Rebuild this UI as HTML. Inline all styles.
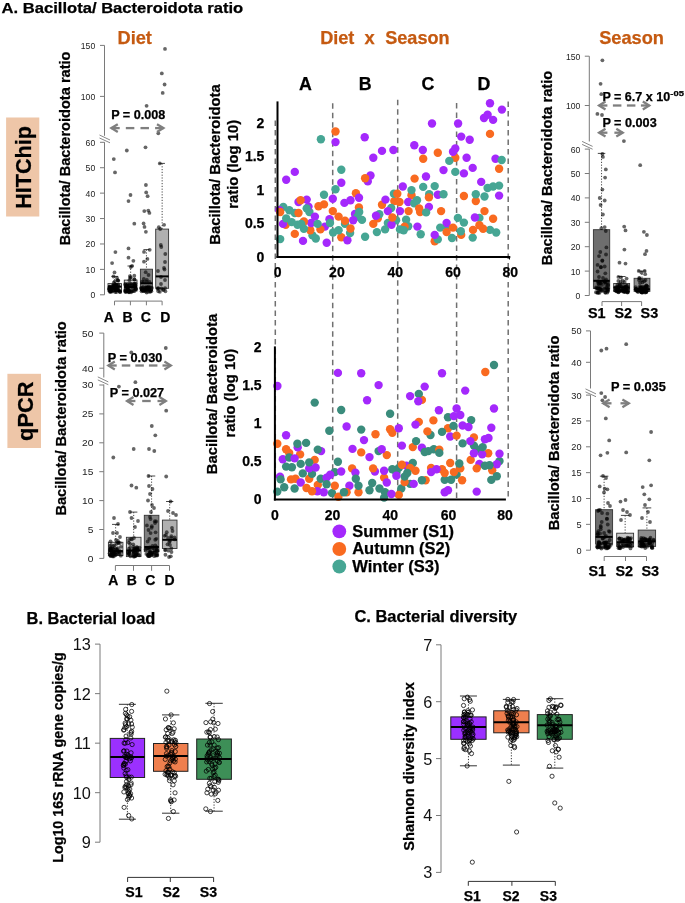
<!DOCTYPE html>
<html><head><meta charset="utf-8"><style>html,body{margin:0;padding:0;background:#fff;}svg{display:block;will-change:transform;}</style></head>
<body>
<svg width="685" height="903" viewBox="0 0 685 903" font-family='"Liberation Sans", sans-serif'>
<rect width="685" height="903" fill="#fff"/>
<text x="1.5" y="12.9" font-size="15.2" font-weight="bold" stroke="#000" stroke-width="0.25" textLength="241.7" lengthAdjust="spacingAndGlyphs" fill="#000">A. Bacillota/ Bacteroidota ratio</text>
<rect x="6.1" y="117.5" width="33.2" height="99" fill="#EEC6A8"/>
<text transform="translate(30.6,167.4) rotate(-90)" x="0" y="0" font-size="22" font-weight="bold" stroke="#000" stroke-width="0.25" text-anchor="middle" textLength="82.6" lengthAdjust="spacingAndGlyphs" fill="#000">HITChip</text>
<rect x="7.4" y="373.8" width="33.6" height="74.2" fill="#EEC6A8"/>
<text transform="translate(32.9,411.2) rotate(-90)" x="0" y="0" font-size="22.8" font-weight="bold" stroke="#000" stroke-width="0.25" text-anchor="middle" textLength="59.5" lengthAdjust="spacingAndGlyphs" fill="#000">qPCR</text>
<text x="117.5" y="43.7" font-size="18.6" font-weight="bold" stroke="#C55A11" stroke-width="0.25" textLength="34.4" lengthAdjust="spacingAndGlyphs" fill="#C55A11">Diet</text>
<text x="599.2" y="43.8" font-size="18.6" font-weight="bold" stroke="#C55A11" stroke-width="0.25" textLength="64.8" lengthAdjust="spacingAndGlyphs" fill="#C55A11">Season</text>
<line x1="104.5" y1="45.4" x2="104.5" y2="135.8" stroke="#7a7a7a" stroke-width="1"/>
<line x1="104.5" y1="142.2" x2="104.5" y2="294.8" stroke="#7a7a7a" stroke-width="1"/>
<line x1="100" y1="45.4" x2="104.5" y2="45.4" stroke="#7a7a7a" stroke-width="1"/>
<text x="95.2" y="48.81" font-size="9.6" text-anchor="end" textLength="14.41" lengthAdjust="spacingAndGlyphs" fill="#222">150</text>
<line x1="100" y1="96.4" x2="104.5" y2="96.4" stroke="#7a7a7a" stroke-width="1"/>
<text x="95.2" y="99.81" font-size="9.6" text-anchor="end" textLength="14.41" lengthAdjust="spacingAndGlyphs" fill="#222">100</text>
<line x1="100" y1="142.3" x2="104.5" y2="142.3" stroke="#7a7a7a" stroke-width="1"/>
<text x="95.2" y="145.71" font-size="9.6" text-anchor="end" textLength="9.61" lengthAdjust="spacingAndGlyphs" fill="#222">60</text>
<line x1="100" y1="167.72" x2="104.5" y2="167.72" stroke="#7a7a7a" stroke-width="1"/>
<text x="95.2" y="171.12" font-size="9.6" text-anchor="end" textLength="9.61" lengthAdjust="spacingAndGlyphs" fill="#222">50</text>
<line x1="100" y1="193.13" x2="104.5" y2="193.13" stroke="#7a7a7a" stroke-width="1"/>
<text x="95.2" y="196.54" font-size="9.6" text-anchor="end" textLength="9.61" lengthAdjust="spacingAndGlyphs" fill="#222">40</text>
<line x1="100" y1="218.55" x2="104.5" y2="218.55" stroke="#7a7a7a" stroke-width="1"/>
<text x="95.2" y="221.96" font-size="9.6" text-anchor="end" textLength="9.61" lengthAdjust="spacingAndGlyphs" fill="#222">30</text>
<line x1="100" y1="243.97" x2="104.5" y2="243.97" stroke="#7a7a7a" stroke-width="1"/>
<text x="95.2" y="247.37" font-size="9.6" text-anchor="end" textLength="9.61" lengthAdjust="spacingAndGlyphs" fill="#222">20</text>
<line x1="100" y1="269.38" x2="104.5" y2="269.38" stroke="#7a7a7a" stroke-width="1"/>
<text x="95.2" y="272.79" font-size="9.6" text-anchor="end" textLength="9.61" lengthAdjust="spacingAndGlyphs" fill="#222">10</text>
<line x1="100" y1="294.8" x2="104.5" y2="294.8" stroke="#7a7a7a" stroke-width="1"/>
<text x="95.2" y="298.21" font-size="9.6" text-anchor="end" textLength="4.8" lengthAdjust="spacingAndGlyphs" fill="#222">0</text>
<line x1="99.5" y1="135" x2="110" y2="140" stroke="#7a7a7a" stroke-width="0.9"/>
<line x1="99.5" y1="138" x2="110" y2="142.8" stroke="#7a7a7a" stroke-width="0.9"/>
<text transform="translate(70.4,148.4) rotate(-90)" x="0" y="0" font-size="14.6" font-weight="bold" stroke="#000" stroke-width="0.25" text-anchor="middle" textLength="193.8" lengthAdjust="spacingAndGlyphs" fill="#000">Bacillota/ Bacteroidota ratio</text>
<line x1="114.5" y1="301.1" x2="162.1" y2="301.1" stroke="#7a7a7a" stroke-width="1"/>
<line x1="114.5" y1="301.1" x2="114.5" y2="305.3" stroke="#7a7a7a" stroke-width="1"/>
<line x1="130.4" y1="301.1" x2="130.4" y2="305.3" stroke="#7a7a7a" stroke-width="1"/>
<line x1="146.4" y1="301.1" x2="146.4" y2="305.3" stroke="#7a7a7a" stroke-width="1"/>
<line x1="162.1" y1="301.1" x2="162.1" y2="305.3" stroke="#7a7a7a" stroke-width="1"/>
<text x="108.7" y="321.8" font-size="14" font-weight="bold" stroke="#000" stroke-width="0.25" text-anchor="middle" fill="#000">A</text>
<text x="127.5" y="321.8" font-size="14" font-weight="bold" stroke="#000" stroke-width="0.25" text-anchor="middle" fill="#000">B</text>
<text x="145.9" y="321.8" font-size="14" font-weight="bold" stroke="#000" stroke-width="0.25" text-anchor="middle" fill="#000">C</text>
<text x="165.2" y="321.8" font-size="14" font-weight="bold" stroke="#000" stroke-width="0.25" text-anchor="middle" fill="#000">D</text>
<line x1="114.75" y1="276.4" x2="114.75" y2="283.6" stroke="#333" stroke-width="0.9" stroke-dasharray="1.2,1.6"/>
<line x1="111.38" y1="276.4" x2="118.12" y2="276.4" stroke="#333" stroke-width="0.9"/>
<rect x="108" y="283.6" width="13.5" height="7.9" fill="#e8e8e8" stroke="#333" stroke-width="0.9"/>
<line x1="108" y1="286.7" x2="121.5" y2="286.7" stroke="#000" stroke-width="2"/>
<line x1="130.65" y1="266" x2="130.65" y2="280.1" stroke="#333" stroke-width="0.9" stroke-dasharray="1.2,1.6"/>
<line x1="127.48" y1="266" x2="133.83" y2="266" stroke="#333" stroke-width="0.9"/>
<rect x="124.3" y="280.1" width="12.7" height="10.9" fill="#d4d4d4" stroke="#333" stroke-width="0.9"/>
<line x1="124.3" y1="287" x2="137" y2="287" stroke="#000" stroke-width="2"/>
<line x1="146.45" y1="249.6" x2="146.45" y2="269.2" stroke="#333" stroke-width="0.9" stroke-dasharray="1.2,1.6"/>
<line x1="143.42" y1="249.6" x2="149.47" y2="249.6" stroke="#333" stroke-width="0.9"/>
<rect x="140.4" y="269.2" width="12.1" height="21.4" fill="#808080" stroke="#333" stroke-width="0.9"/>
<line x1="140.4" y1="283.3" x2="152.5" y2="283.3" stroke="#000" stroke-width="2"/>
<line x1="162.15" y1="163.4" x2="162.15" y2="229.1" stroke="#333" stroke-width="0.9" stroke-dasharray="1.2,1.6"/>
<line x1="159.35" y1="163.4" x2="164.95" y2="163.4" stroke="#333" stroke-width="0.9"/>
<rect x="155.7" y="229.1" width="12.9" height="59.2" fill="#b0b0b0" stroke="#333" stroke-width="0.9"/>
<line x1="155.7" y1="276.4" x2="168.6" y2="276.4" stroke="#000" stroke-width="2"/>
<circle cx="112.73" cy="291.38" r="1.9" fill="#000" fill-opacity="0.6"/>
<circle cx="116.39" cy="292.01" r="1.9" fill="#000" fill-opacity="0.6"/>
<circle cx="115.1" cy="289.64" r="1.9" fill="#000" fill-opacity="0.6"/>
<circle cx="109.75" cy="288.49" r="1.9" fill="#000" fill-opacity="0.6"/>
<circle cx="109.52" cy="289.09" r="1.9" fill="#000" fill-opacity="0.6"/>
<circle cx="109.88" cy="291.87" r="1.9" fill="#000" fill-opacity="0.6"/>
<circle cx="113.85" cy="285.9" r="1.9" fill="#000" fill-opacity="0.6"/>
<circle cx="110.49" cy="290.79" r="1.9" fill="#000" fill-opacity="0.6"/>
<circle cx="116.13" cy="284.92" r="1.9" fill="#000" fill-opacity="0.6"/>
<circle cx="115.56" cy="289.39" r="1.9" fill="#000" fill-opacity="0.6"/>
<circle cx="120.03" cy="292.22" r="1.9" fill="#000" fill-opacity="0.6"/>
<circle cx="118.71" cy="290.25" r="1.9" fill="#000" fill-opacity="0.6"/>
<circle cx="110.72" cy="291.65" r="1.9" fill="#000" fill-opacity="0.6"/>
<circle cx="112.55" cy="285.99" r="1.9" fill="#000" fill-opacity="0.6"/>
<circle cx="111.12" cy="287.89" r="1.9" fill="#000" fill-opacity="0.6"/>
<circle cx="116.26" cy="289.58" r="1.9" fill="#000" fill-opacity="0.6"/>
<circle cx="115.23" cy="292.09" r="1.9" fill="#000" fill-opacity="0.6"/>
<circle cx="109.77" cy="290.93" r="1.9" fill="#000" fill-opacity="0.6"/>
<circle cx="116.72" cy="289.14" r="1.9" fill="#000" fill-opacity="0.6"/>
<circle cx="112.62" cy="287.86" r="1.9" fill="#000" fill-opacity="0.6"/>
<circle cx="114.18" cy="290.17" r="1.9" fill="#000" fill-opacity="0.6"/>
<circle cx="118" cy="286.94" r="1.9" fill="#000" fill-opacity="0.6"/>
<circle cx="111.83" cy="287.95" r="1.9" fill="#000" fill-opacity="0.6"/>
<circle cx="114.98" cy="285.51" r="1.9" fill="#000" fill-opacity="0.6"/>
<circle cx="117.27" cy="290.27" r="1.9" fill="#000" fill-opacity="0.6"/>
<circle cx="120.08" cy="291.64" r="1.9" fill="#000" fill-opacity="0.6"/>
<circle cx="113.78" cy="286.47" r="1.9" fill="#000" fill-opacity="0.6"/>
<circle cx="110.8" cy="288.64" r="1.9" fill="#000" fill-opacity="0.6"/>
<circle cx="109.54" cy="287.19" r="1.9" fill="#000" fill-opacity="0.6"/>
<circle cx="117.66" cy="287.96" r="1.9" fill="#000" fill-opacity="0.6"/>
<circle cx="118.91" cy="290.06" r="1.9" fill="#000" fill-opacity="0.6"/>
<circle cx="116.89" cy="287.79" r="1.9" fill="#000" fill-opacity="0.6"/>
<circle cx="115.59" cy="288.9" r="1.9" fill="#000" fill-opacity="0.6"/>
<circle cx="118.51" cy="284.95" r="1.9" fill="#000" fill-opacity="0.6"/>
<circle cx="114.41" cy="287.22" r="1.9" fill="#000" fill-opacity="0.6"/>
<circle cx="109.78" cy="286.92" r="1.9" fill="#000" fill-opacity="0.6"/>
<circle cx="116.35" cy="284.56" r="1.9" fill="#000" fill-opacity="0.6"/>
<circle cx="118.31" cy="290.29" r="1.9" fill="#000" fill-opacity="0.6"/>
<circle cx="113.42" cy="287.18" r="1.9" fill="#000" fill-opacity="0.6"/>
<circle cx="109.35" cy="288.86" r="1.9" fill="#000" fill-opacity="0.6"/>
<circle cx="110.98" cy="291.65" r="1.9" fill="#000" fill-opacity="0.6"/>
<circle cx="109.76" cy="286.38" r="1.9" fill="#000" fill-opacity="0.6"/>
<circle cx="110.55" cy="290.59" r="1.9" fill="#000" fill-opacity="0.6"/>
<circle cx="113.48" cy="285.54" r="1.9" fill="#000" fill-opacity="0.6"/>
<circle cx="110" cy="288.96" r="1.9" fill="#000" fill-opacity="0.6"/>
<circle cx="115.25" cy="285.44" r="1.9" fill="#000" fill-opacity="0.6"/>
<circle cx="118.28" cy="285.6" r="1.9" fill="#000" fill-opacity="0.6"/>
<circle cx="112.22" cy="289.24" r="1.9" fill="#000" fill-opacity="0.6"/>
<circle cx="113.12" cy="285.44" r="1.9" fill="#000" fill-opacity="0.6"/>
<circle cx="119.83" cy="291.38" r="1.9" fill="#000" fill-opacity="0.6"/>
<circle cx="111.07" cy="290.72" r="1.9" fill="#000" fill-opacity="0.6"/>
<circle cx="111.71" cy="288.67" r="1.9" fill="#000" fill-opacity="0.6"/>
<circle cx="115.7" cy="290.47" r="1.9" fill="#000" fill-opacity="0.6"/>
<circle cx="109.15" cy="289.21" r="1.9" fill="#000" fill-opacity="0.6"/>
<circle cx="113.24" cy="288.01" r="1.9" fill="#000" fill-opacity="0.6"/>
<circle cx="118.32" cy="280.86" r="1.9" fill="#000" fill-opacity="0.6"/>
<circle cx="114.82" cy="281.29" r="1.9" fill="#000" fill-opacity="0.6"/>
<circle cx="116.11" cy="284.68" r="1.9" fill="#000" fill-opacity="0.6"/>
<circle cx="117.9" cy="280.32" r="1.9" fill="#000" fill-opacity="0.6"/>
<circle cx="117.7" cy="280.21" r="1.9" fill="#000" fill-opacity="0.6"/>
<circle cx="113.84" cy="282.61" r="1.9" fill="#000" fill-opacity="0.6"/>
<circle cx="126.16" cy="286.83" r="1.9" fill="#000" fill-opacity="0.6"/>
<circle cx="125.7" cy="291.99" r="1.9" fill="#000" fill-opacity="0.6"/>
<circle cx="127.34" cy="291.12" r="1.9" fill="#000" fill-opacity="0.6"/>
<circle cx="128.81" cy="292.12" r="1.9" fill="#000" fill-opacity="0.6"/>
<circle cx="125" cy="291.22" r="1.9" fill="#000" fill-opacity="0.6"/>
<circle cx="126.14" cy="289.29" r="1.9" fill="#000" fill-opacity="0.6"/>
<circle cx="125.29" cy="284.64" r="1.9" fill="#000" fill-opacity="0.6"/>
<circle cx="131.88" cy="291.25" r="1.9" fill="#000" fill-opacity="0.6"/>
<circle cx="127.83" cy="289.44" r="1.9" fill="#000" fill-opacity="0.6"/>
<circle cx="129.08" cy="291.48" r="1.9" fill="#000" fill-opacity="0.6"/>
<circle cx="134.51" cy="283.56" r="1.9" fill="#000" fill-opacity="0.6"/>
<circle cx="130.22" cy="288.2" r="1.9" fill="#000" fill-opacity="0.6"/>
<circle cx="125.96" cy="291.67" r="1.9" fill="#000" fill-opacity="0.6"/>
<circle cx="128.84" cy="290.19" r="1.9" fill="#000" fill-opacity="0.6"/>
<circle cx="134.28" cy="291.13" r="1.9" fill="#000" fill-opacity="0.6"/>
<circle cx="125.26" cy="283.95" r="1.9" fill="#000" fill-opacity="0.6"/>
<circle cx="130.92" cy="291.27" r="1.9" fill="#000" fill-opacity="0.6"/>
<circle cx="131.08" cy="292.35" r="1.9" fill="#000" fill-opacity="0.6"/>
<circle cx="130.91" cy="283.7" r="1.9" fill="#000" fill-opacity="0.6"/>
<circle cx="134.67" cy="286.26" r="1.9" fill="#000" fill-opacity="0.6"/>
<circle cx="127.92" cy="289.26" r="1.9" fill="#000" fill-opacity="0.6"/>
<circle cx="126.87" cy="285.58" r="1.9" fill="#000" fill-opacity="0.6"/>
<circle cx="130.97" cy="285.51" r="1.9" fill="#000" fill-opacity="0.6"/>
<circle cx="128.69" cy="290.57" r="1.9" fill="#000" fill-opacity="0.6"/>
<circle cx="134.09" cy="283.64" r="1.9" fill="#000" fill-opacity="0.6"/>
<circle cx="134.55" cy="285.26" r="1.9" fill="#000" fill-opacity="0.6"/>
<circle cx="134.17" cy="285.87" r="1.9" fill="#000" fill-opacity="0.6"/>
<circle cx="127.54" cy="287.89" r="1.9" fill="#000" fill-opacity="0.6"/>
<circle cx="128.98" cy="292.34" r="1.9" fill="#000" fill-opacity="0.6"/>
<circle cx="125.31" cy="290.06" r="1.9" fill="#000" fill-opacity="0.6"/>
<circle cx="127.9" cy="286.3" r="1.9" fill="#000" fill-opacity="0.6"/>
<circle cx="135.71" cy="288.53" r="1.9" fill="#000" fill-opacity="0.6"/>
<circle cx="135.49" cy="283.61" r="1.9" fill="#000" fill-opacity="0.6"/>
<circle cx="135.7" cy="289.28" r="1.9" fill="#000" fill-opacity="0.6"/>
<circle cx="127.47" cy="290.54" r="1.9" fill="#000" fill-opacity="0.6"/>
<circle cx="127.2" cy="290.74" r="1.9" fill="#000" fill-opacity="0.6"/>
<circle cx="131.99" cy="284.41" r="1.9" fill="#000" fill-opacity="0.6"/>
<circle cx="134.41" cy="288.24" r="1.9" fill="#000" fill-opacity="0.6"/>
<circle cx="132.31" cy="285.32" r="1.9" fill="#000" fill-opacity="0.6"/>
<circle cx="125.95" cy="286.59" r="1.9" fill="#000" fill-opacity="0.6"/>
<circle cx="135.19" cy="285.48" r="1.9" fill="#000" fill-opacity="0.6"/>
<circle cx="133.4" cy="288.25" r="1.9" fill="#000" fill-opacity="0.6"/>
<circle cx="127" cy="285.42" r="1.9" fill="#000" fill-opacity="0.6"/>
<circle cx="128.72" cy="285.31" r="1.9" fill="#000" fill-opacity="0.6"/>
<circle cx="135.88" cy="289" r="1.9" fill="#000" fill-opacity="0.6"/>
<circle cx="129.5" cy="283.98" r="1.9" fill="#000" fill-opacity="0.6"/>
<circle cx="133.12" cy="291.05" r="1.9" fill="#000" fill-opacity="0.6"/>
<circle cx="126.42" cy="291.22" r="1.9" fill="#000" fill-opacity="0.6"/>
<circle cx="135.13" cy="285.26" r="1.9" fill="#000" fill-opacity="0.6"/>
<circle cx="126.64" cy="285.08" r="1.9" fill="#000" fill-opacity="0.6"/>
<circle cx="134.44" cy="279.4" r="1.9" fill="#000" fill-opacity="0.6"/>
<circle cx="129.4" cy="280.16" r="1.9" fill="#000" fill-opacity="0.6"/>
<circle cx="127.65" cy="283.9" r="1.9" fill="#000" fill-opacity="0.6"/>
<circle cx="134.37" cy="279.45" r="1.9" fill="#000" fill-opacity="0.6"/>
<circle cx="130.81" cy="277.46" r="1.9" fill="#000" fill-opacity="0.6"/>
<circle cx="130.07" cy="277.9" r="1.9" fill="#000" fill-opacity="0.6"/>
<circle cx="150.05" cy="291.42" r="1.9" fill="#000" fill-opacity="0.6"/>
<circle cx="143.62" cy="290.96" r="1.9" fill="#000" fill-opacity="0.6"/>
<circle cx="143.49" cy="289.32" r="1.9" fill="#000" fill-opacity="0.6"/>
<circle cx="143.7" cy="290.25" r="1.9" fill="#000" fill-opacity="0.6"/>
<circle cx="142.27" cy="287.5" r="1.9" fill="#000" fill-opacity="0.6"/>
<circle cx="144.76" cy="290.03" r="1.9" fill="#000" fill-opacity="0.6"/>
<circle cx="147.33" cy="287.54" r="1.9" fill="#000" fill-opacity="0.6"/>
<circle cx="145.51" cy="287.46" r="1.9" fill="#000" fill-opacity="0.6"/>
<circle cx="146.42" cy="289.62" r="1.9" fill="#000" fill-opacity="0.6"/>
<circle cx="146.66" cy="292.5" r="1.9" fill="#000" fill-opacity="0.6"/>
<circle cx="145.73" cy="291.57" r="1.9" fill="#000" fill-opacity="0.6"/>
<circle cx="140.84" cy="288.12" r="1.9" fill="#000" fill-opacity="0.6"/>
<circle cx="142.73" cy="289.95" r="1.9" fill="#000" fill-opacity="0.6"/>
<circle cx="148.92" cy="289.48" r="1.9" fill="#000" fill-opacity="0.6"/>
<circle cx="144.45" cy="289.7" r="1.9" fill="#000" fill-opacity="0.6"/>
<circle cx="147.02" cy="288.21" r="1.9" fill="#000" fill-opacity="0.6"/>
<circle cx="141.99" cy="289.46" r="1.9" fill="#000" fill-opacity="0.6"/>
<circle cx="143.58" cy="291.05" r="1.9" fill="#000" fill-opacity="0.6"/>
<circle cx="149.45" cy="289.76" r="1.9" fill="#000" fill-opacity="0.6"/>
<circle cx="147.09" cy="288.34" r="1.9" fill="#000" fill-opacity="0.6"/>
<circle cx="151.02" cy="290.12" r="1.9" fill="#000" fill-opacity="0.6"/>
<circle cx="147.66" cy="289.77" r="1.9" fill="#000" fill-opacity="0.6"/>
<circle cx="146.54" cy="288.72" r="1.9" fill="#000" fill-opacity="0.6"/>
<circle cx="145.87" cy="289.61" r="1.9" fill="#000" fill-opacity="0.6"/>
<circle cx="146.15" cy="287.33" r="1.9" fill="#000" fill-opacity="0.6"/>
<circle cx="148.63" cy="287.69" r="1.9" fill="#000" fill-opacity="0.6"/>
<circle cx="151.35" cy="291.15" r="1.9" fill="#000" fill-opacity="0.6"/>
<circle cx="147.07" cy="287.32" r="1.9" fill="#000" fill-opacity="0.6"/>
<circle cx="150.21" cy="291.83" r="1.9" fill="#000" fill-opacity="0.6"/>
<circle cx="142.16" cy="290.12" r="1.9" fill="#000" fill-opacity="0.6"/>
<circle cx="141.61" cy="291.25" r="1.9" fill="#000" fill-opacity="0.6"/>
<circle cx="141.62" cy="288.85" r="1.9" fill="#000" fill-opacity="0.6"/>
<circle cx="149.58" cy="287.58" r="1.9" fill="#000" fill-opacity="0.6"/>
<circle cx="142.53" cy="288.59" r="1.9" fill="#000" fill-opacity="0.6"/>
<circle cx="148.19" cy="291.8" r="1.9" fill="#000" fill-opacity="0.6"/>
<circle cx="150.69" cy="287.18" r="1.9" fill="#000" fill-opacity="0.6"/>
<circle cx="143.26" cy="287.27" r="1.9" fill="#000" fill-opacity="0.6"/>
<circle cx="145.26" cy="289.87" r="1.9" fill="#000" fill-opacity="0.6"/>
<circle cx="151.89" cy="287.94" r="1.9" fill="#000" fill-opacity="0.6"/>
<circle cx="142.61" cy="290.18" r="1.9" fill="#000" fill-opacity="0.6"/>
<circle cx="146.54" cy="281.57" r="1.9" fill="#000" fill-opacity="0.6"/>
<circle cx="143.66" cy="281.9" r="1.9" fill="#000" fill-opacity="0.6"/>
<circle cx="148.4" cy="286.69" r="1.9" fill="#000" fill-opacity="0.6"/>
<circle cx="146.89" cy="279.95" r="1.9" fill="#000" fill-opacity="0.6"/>
<circle cx="142.06" cy="281.7" r="1.9" fill="#000" fill-opacity="0.6"/>
<circle cx="163.44" cy="290.15" r="1.9" fill="#000" fill-opacity="0.6"/>
<circle cx="157.84" cy="288.07" r="1.9" fill="#000" fill-opacity="0.6"/>
<circle cx="165.08" cy="288.12" r="1.9" fill="#000" fill-opacity="0.6"/>
<circle cx="158.25" cy="291.23" r="1.9" fill="#000" fill-opacity="0.6"/>
<circle cx="157.6" cy="288.97" r="1.9" fill="#000" fill-opacity="0.6"/>
<circle cx="159.9" cy="291.83" r="1.9" fill="#000" fill-opacity="0.6"/>
<circle cx="161.42" cy="288.39" r="1.9" fill="#000" fill-opacity="0.6"/>
<circle cx="165.39" cy="291.26" r="1.9" fill="#000" fill-opacity="0.6"/>
<circle cx="158.69" cy="288.36" r="1.9" fill="#000" fill-opacity="0.6"/>
<circle cx="162.91" cy="289.32" r="1.9" fill="#000" fill-opacity="0.6"/>
<circle cx="113.8" cy="159.1" r="1.9" fill="#000" fill-opacity="0.6"/>
<circle cx="115" cy="172.4" r="1.9" fill="#000" fill-opacity="0.6"/>
<circle cx="115.4" cy="252.1" r="1.9" fill="#000" fill-opacity="0.6"/>
<circle cx="112.1" cy="263.1" r="1.9" fill="#000" fill-opacity="0.6"/>
<circle cx="114.5" cy="272.4" r="1.9" fill="#000" fill-opacity="0.6"/>
<circle cx="113.5" cy="276.5" r="1.9" fill="#000" fill-opacity="0.6"/>
<circle cx="117" cy="278" r="1.9" fill="#000" fill-opacity="0.6"/>
<circle cx="126.8" cy="150.5" r="1.9" fill="#000" fill-opacity="0.6"/>
<circle cx="130.5" cy="195" r="1.9" fill="#000" fill-opacity="0.6"/>
<circle cx="128.5" cy="201.1" r="1.9" fill="#000" fill-opacity="0.6"/>
<circle cx="134.3" cy="223.7" r="1.9" fill="#000" fill-opacity="0.6"/>
<circle cx="128.5" cy="248.4" r="1.9" fill="#000" fill-opacity="0.6"/>
<circle cx="128.5" cy="257.7" r="1.9" fill="#000" fill-opacity="0.6"/>
<circle cx="133.4" cy="260.8" r="1.9" fill="#000" fill-opacity="0.6"/>
<circle cx="132" cy="265.9" r="1.9" fill="#000" fill-opacity="0.6"/>
<circle cx="130.8" cy="267" r="1.9" fill="#000" fill-opacity="0.6"/>
<circle cx="129.9" cy="276.1" r="1.9" fill="#000" fill-opacity="0.6"/>
<circle cx="134.3" cy="275.7" r="1.9" fill="#000" fill-opacity="0.6"/>
<circle cx="145.5" cy="147.3" r="1.9" fill="#000" fill-opacity="0.6"/>
<circle cx="145.9" cy="185" r="1.9" fill="#000" fill-opacity="0.6"/>
<circle cx="146.2" cy="192.4" r="1.9" fill="#000" fill-opacity="0.6"/>
<circle cx="147.6" cy="196.2" r="1.9" fill="#000" fill-opacity="0.6"/>
<circle cx="144.3" cy="211.1" r="1.9" fill="#000" fill-opacity="0.6"/>
<circle cx="148.3" cy="210.6" r="1.9" fill="#000" fill-opacity="0.6"/>
<circle cx="149.4" cy="212.9" r="1.9" fill="#000" fill-opacity="0.6"/>
<circle cx="143.6" cy="223.4" r="1.9" fill="#000" fill-opacity="0.6"/>
<circle cx="144.5" cy="226.9" r="1.9" fill="#000" fill-opacity="0.6"/>
<circle cx="145.9" cy="231.8" r="1.9" fill="#000" fill-opacity="0.6"/>
<circle cx="149.7" cy="249.8" r="1.9" fill="#000" fill-opacity="0.6"/>
<circle cx="144" cy="251.9" r="1.9" fill="#000" fill-opacity="0.6"/>
<circle cx="147.4" cy="258.9" r="1.9" fill="#000" fill-opacity="0.6"/>
<circle cx="144" cy="261.7" r="1.9" fill="#000" fill-opacity="0.6"/>
<circle cx="145.7" cy="272.2" r="1.9" fill="#000" fill-opacity="0.6"/>
<circle cx="148.5" cy="275" r="1.9" fill="#000" fill-opacity="0.6"/>
<circle cx="143.8" cy="279" r="1.9" fill="#000" fill-opacity="0.6"/>
<circle cx="149.5" cy="282" r="1.9" fill="#000" fill-opacity="0.6"/>
<circle cx="158.3" cy="133.3" r="1.9" fill="#000" fill-opacity="0.6"/>
<circle cx="158.8" cy="227.2" r="1.9" fill="#000" fill-opacity="0.6"/>
<circle cx="164.1" cy="224.8" r="1.9" fill="#000" fill-opacity="0.6"/>
<circle cx="160.2" cy="229" r="1.9" fill="#000" fill-opacity="0.6"/>
<circle cx="160.8" cy="245" r="1.9" fill="#000" fill-opacity="0.6"/>
<circle cx="161.3" cy="247" r="1.9" fill="#000" fill-opacity="0.6"/>
<circle cx="165.3" cy="254" r="1.9" fill="#000" fill-opacity="0.6"/>
<circle cx="165" cy="262" r="1.9" fill="#000" fill-opacity="0.6"/>
<circle cx="158" cy="271" r="1.9" fill="#000" fill-opacity="0.6"/>
<circle cx="164.5" cy="269.5" r="1.9" fill="#000" fill-opacity="0.6"/>
<circle cx="164" cy="268" r="1.9" fill="#000" fill-opacity="0.6"/>
<circle cx="161" cy="277" r="1.9" fill="#000" fill-opacity="0.6"/>
<circle cx="165" cy="280" r="1.9" fill="#000" fill-opacity="0.6"/>
<circle cx="161" cy="284" r="1.9" fill="#000" fill-opacity="0.6"/>
<circle cx="165" cy="48.9" r="1.9" fill="#000" fill-opacity="0.6"/>
<circle cx="161.8" cy="73.4" r="1.9" fill="#000" fill-opacity="0.6"/>
<circle cx="164.6" cy="84.5" r="1.9" fill="#000" fill-opacity="0.6"/>
<circle cx="162.7" cy="92.9" r="1.9" fill="#000" fill-opacity="0.6"/>
<circle cx="146.6" cy="105.8" r="1.9" fill="#000" fill-opacity="0.6"/>
<circle cx="159.8" cy="163.4" r="1.9" fill="#000" fill-opacity="0.6"/>
<text x="111.2" y="118.8" font-size="12" font-weight="bold" stroke="#000" stroke-width="0.25" textLength="54.1" lengthAdjust="spacingAndGlyphs" fill="#000">P = 0.008</text>
<line x1="111.2" y1="128.1" x2="119.7" y2="128.1" stroke="#7f7f7f" stroke-width="2.3"/>
<line x1="155.1" y1="128.1" x2="163.6" y2="128.1" stroke="#7f7f7f" stroke-width="2.3"/>
<line x1="125.83" y1="128.1" x2="134.33" y2="128.1" stroke="#7f7f7f" stroke-width="2.3"/>
<line x1="140.47" y1="128.1" x2="148.97" y2="128.1" stroke="#7f7f7f" stroke-width="2.3"/>
<polyline points="117.8,124.2 111.4,128.1 117.8,132" fill="none" stroke="#7f7f7f" stroke-width="2.3" stroke-linejoin="miter" stroke-miterlimit="8"/>
<polyline points="157,124.2 163.4,128.1 157,132" fill="none" stroke="#7f7f7f" stroke-width="2.3" stroke-linejoin="miter" stroke-miterlimit="8"/>
<line x1="103.8" y1="333.1" x2="103.8" y2="377.5" stroke="#7a7a7a" stroke-width="1"/>
<line x1="103.8" y1="384.5" x2="103.8" y2="558.4" stroke="#7a7a7a" stroke-width="1"/>
<line x1="99.3" y1="333.1" x2="103.8" y2="333.1" stroke="#7a7a7a" stroke-width="1"/>
<text x="93.4" y="336.58" font-size="9.8" text-anchor="end" textLength="11.33" lengthAdjust="spacingAndGlyphs" fill="#222">50</text>
<line x1="99.3" y1="368.2" x2="103.8" y2="368.2" stroke="#7a7a7a" stroke-width="1"/>
<text x="93.4" y="371.68" font-size="9.8" text-anchor="end" textLength="11.33" lengthAdjust="spacingAndGlyphs" fill="#222">40</text>
<line x1="99.3" y1="385" x2="103.8" y2="385" stroke="#7a7a7a" stroke-width="1"/>
<text x="93.4" y="388.48" font-size="9.8" text-anchor="end" textLength="11.33" lengthAdjust="spacingAndGlyphs" fill="#222">30</text>
<line x1="99.3" y1="413.9" x2="103.8" y2="413.9" stroke="#7a7a7a" stroke-width="1"/>
<text x="93.4" y="417.38" font-size="9.8" text-anchor="end" textLength="11.33" lengthAdjust="spacingAndGlyphs" fill="#222">25</text>
<line x1="99.3" y1="442.8" x2="103.8" y2="442.8" stroke="#7a7a7a" stroke-width="1"/>
<text x="93.4" y="446.28" font-size="9.8" text-anchor="end" textLength="11.33" lengthAdjust="spacingAndGlyphs" fill="#222">20</text>
<line x1="99.3" y1="471.7" x2="103.8" y2="471.7" stroke="#7a7a7a" stroke-width="1"/>
<text x="93.4" y="475.18" font-size="9.8" text-anchor="end" textLength="11.33" lengthAdjust="spacingAndGlyphs" fill="#222">15</text>
<line x1="99.3" y1="500.6" x2="103.8" y2="500.6" stroke="#7a7a7a" stroke-width="1"/>
<text x="93.4" y="504.08" font-size="9.8" text-anchor="end" textLength="11.33" lengthAdjust="spacingAndGlyphs" fill="#222">10</text>
<line x1="99.3" y1="529.5" x2="103.8" y2="529.5" stroke="#7a7a7a" stroke-width="1"/>
<text x="93.4" y="532.98" font-size="9.8" text-anchor="end" textLength="5.67" lengthAdjust="spacingAndGlyphs" fill="#222">5</text>
<line x1="99.3" y1="558.4" x2="103.8" y2="558.4" stroke="#7a7a7a" stroke-width="1"/>
<text x="93.4" y="561.88" font-size="9.8" text-anchor="end" textLength="5.67" lengthAdjust="spacingAndGlyphs" fill="#222">0</text>
<line x1="97.8" y1="376.9" x2="108.3" y2="381.9" stroke="#7a7a7a" stroke-width="0.9"/>
<line x1="97.8" y1="379.9" x2="108.3" y2="384.7" stroke="#7a7a7a" stroke-width="0.9"/>
<text transform="translate(66.3,418.4) rotate(-90)" x="0" y="0" font-size="14.6" font-weight="bold" stroke="#000" stroke-width="0.25" text-anchor="middle" textLength="194.4" lengthAdjust="spacingAndGlyphs" fill="#000">Bacillota/ Bacteroidota ratio</text>
<line x1="115.4" y1="565.5" x2="169.5" y2="565.5" stroke="#7a7a7a" stroke-width="1"/>
<line x1="115.4" y1="565.5" x2="115.4" y2="570.8" stroke="#7a7a7a" stroke-width="1"/>
<line x1="133.5" y1="565.5" x2="133.5" y2="570.8" stroke="#7a7a7a" stroke-width="1"/>
<line x1="151.6" y1="565.5" x2="151.6" y2="570.8" stroke="#7a7a7a" stroke-width="1"/>
<line x1="169.5" y1="565.5" x2="169.5" y2="570.8" stroke="#7a7a7a" stroke-width="1"/>
<text x="113.3" y="585" font-size="14" font-weight="bold" stroke="#000" stroke-width="0.25" text-anchor="middle" fill="#000">A</text>
<text x="131.9" y="585" font-size="14" font-weight="bold" stroke="#000" stroke-width="0.25" text-anchor="middle" fill="#000">B</text>
<text x="150.4" y="585" font-size="14" font-weight="bold" stroke="#000" stroke-width="0.25" text-anchor="middle" fill="#000">C</text>
<text x="169.6" y="585" font-size="14" font-weight="bold" stroke="#000" stroke-width="0.25" text-anchor="middle" fill="#000">D</text>
<line x1="115.65" y1="524.4" x2="115.65" y2="542.3" stroke="#333" stroke-width="0.9" stroke-dasharray="1.2,1.6"/>
<line x1="112.03" y1="524.4" x2="119.28" y2="524.4" stroke="#333" stroke-width="0.9"/>
<rect x="108.4" y="542.3" width="14.5" height="13.3" fill="#e6e6e6" stroke="#333" stroke-width="0.9"/>
<line x1="108.4" y1="551.1" x2="122.9" y2="551.1" stroke="#000" stroke-width="2"/>
<line x1="133.7" y1="512.1" x2="133.7" y2="537.3" stroke="#333" stroke-width="0.9" stroke-dasharray="1.2,1.6"/>
<line x1="130.05" y1="512.1" x2="137.35" y2="512.1" stroke="#333" stroke-width="0.9"/>
<rect x="126.4" y="537.3" width="14.6" height="19.3" fill="#d0d0d0" stroke="#333" stroke-width="0.9"/>
<line x1="126.4" y1="550.4" x2="141" y2="550.4" stroke="#000" stroke-width="2"/>
<line x1="151.6" y1="476" x2="151.6" y2="515.3" stroke="#333" stroke-width="0.9" stroke-dasharray="1.2,1.6"/>
<line x1="147.95" y1="476" x2="155.25" y2="476" stroke="#333" stroke-width="0.9"/>
<rect x="144.3" y="515.3" width="14.6" height="36.4" fill="#808080" stroke="#333" stroke-width="0.9"/>
<line x1="144.3" y1="547" x2="158.9" y2="547" stroke="#000" stroke-width="2"/>
<line x1="169.7" y1="501.5" x2="169.7" y2="520.1" stroke="#333" stroke-width="0.9" stroke-dasharray="1.2,1.6"/>
<line x1="166.05" y1="501.5" x2="173.35" y2="501.5" stroke="#333" stroke-width="0.9"/>
<rect x="162.4" y="520.1" width="14.6" height="28.4" fill="#b0b0b0" stroke="#333" stroke-width="0.9"/>
<line x1="162.4" y1="539.8" x2="177" y2="539.8" stroke="#000" stroke-width="2"/>
<circle cx="110.67" cy="556.11" r="1.9" fill="#000" fill-opacity="0.6"/>
<circle cx="117.86" cy="552.94" r="1.9" fill="#000" fill-opacity="0.6"/>
<circle cx="110.47" cy="548.53" r="1.9" fill="#000" fill-opacity="0.6"/>
<circle cx="117.21" cy="549.71" r="1.9" fill="#000" fill-opacity="0.6"/>
<circle cx="110.6" cy="549.24" r="1.9" fill="#000" fill-opacity="0.6"/>
<circle cx="110.4" cy="549.18" r="1.9" fill="#000" fill-opacity="0.6"/>
<circle cx="115.05" cy="553.68" r="1.9" fill="#000" fill-opacity="0.6"/>
<circle cx="116.24" cy="548.63" r="1.9" fill="#000" fill-opacity="0.6"/>
<circle cx="112.81" cy="555.49" r="1.9" fill="#000" fill-opacity="0.6"/>
<circle cx="115.92" cy="554.55" r="1.9" fill="#000" fill-opacity="0.6"/>
<circle cx="110.91" cy="555.21" r="1.9" fill="#000" fill-opacity="0.6"/>
<circle cx="110.2" cy="554.86" r="1.9" fill="#000" fill-opacity="0.6"/>
<circle cx="113.34" cy="553.98" r="1.9" fill="#000" fill-opacity="0.6"/>
<circle cx="118.71" cy="554.11" r="1.9" fill="#000" fill-opacity="0.6"/>
<circle cx="115.6" cy="555.07" r="1.9" fill="#000" fill-opacity="0.6"/>
<circle cx="113.76" cy="556.44" r="1.9" fill="#000" fill-opacity="0.6"/>
<circle cx="112.61" cy="556.47" r="1.9" fill="#000" fill-opacity="0.6"/>
<circle cx="118.4" cy="551.86" r="1.9" fill="#000" fill-opacity="0.6"/>
<circle cx="111.87" cy="552.52" r="1.9" fill="#000" fill-opacity="0.6"/>
<circle cx="120.82" cy="555.69" r="1.9" fill="#000" fill-opacity="0.6"/>
<circle cx="119.43" cy="552.88" r="1.9" fill="#000" fill-opacity="0.6"/>
<circle cx="115.54" cy="549.42" r="1.9" fill="#000" fill-opacity="0.6"/>
<circle cx="114.32" cy="552.24" r="1.9" fill="#000" fill-opacity="0.6"/>
<circle cx="117.85" cy="548.15" r="1.9" fill="#000" fill-opacity="0.6"/>
<circle cx="113.71" cy="549.44" r="1.9" fill="#000" fill-opacity="0.6"/>
<circle cx="118.08" cy="551.13" r="1.9" fill="#000" fill-opacity="0.6"/>
<circle cx="114.46" cy="553.61" r="1.9" fill="#000" fill-opacity="0.6"/>
<circle cx="110.25" cy="555.48" r="1.9" fill="#000" fill-opacity="0.6"/>
<circle cx="110.45" cy="550.23" r="1.9" fill="#000" fill-opacity="0.6"/>
<circle cx="112.67" cy="555.2" r="1.9" fill="#000" fill-opacity="0.6"/>
<circle cx="110.61" cy="549.37" r="1.9" fill="#000" fill-opacity="0.6"/>
<circle cx="120.05" cy="550.83" r="1.9" fill="#000" fill-opacity="0.6"/>
<circle cx="112.98" cy="554.52" r="1.9" fill="#000" fill-opacity="0.6"/>
<circle cx="113.12" cy="552.65" r="1.9" fill="#000" fill-opacity="0.6"/>
<circle cx="111.49" cy="552.77" r="1.9" fill="#000" fill-opacity="0.6"/>
<circle cx="112.76" cy="548.33" r="1.9" fill="#000" fill-opacity="0.6"/>
<circle cx="121.27" cy="551.9" r="1.9" fill="#000" fill-opacity="0.6"/>
<circle cx="112.53" cy="548.3" r="1.9" fill="#000" fill-opacity="0.6"/>
<circle cx="113.31" cy="553.53" r="1.9" fill="#000" fill-opacity="0.6"/>
<circle cx="109.61" cy="553.32" r="1.9" fill="#000" fill-opacity="0.6"/>
<circle cx="115.3" cy="552.28" r="1.9" fill="#000" fill-opacity="0.6"/>
<circle cx="112.01" cy="552.26" r="1.9" fill="#000" fill-opacity="0.6"/>
<circle cx="110.15" cy="545.89" r="1.9" fill="#000" fill-opacity="0.6"/>
<circle cx="111.09" cy="544.8" r="1.9" fill="#000" fill-opacity="0.6"/>
<circle cx="110.56" cy="547.82" r="1.9" fill="#000" fill-opacity="0.6"/>
<circle cx="113.45" cy="546.14" r="1.9" fill="#000" fill-opacity="0.6"/>
<circle cx="116.54" cy="543.77" r="1.9" fill="#000" fill-opacity="0.6"/>
<circle cx="118.36" cy="542.74" r="1.9" fill="#000" fill-opacity="0.6"/>
<circle cx="117.98" cy="540.97" r="1.9" fill="#000" fill-opacity="0.6"/>
<circle cx="114.38" cy="545.39" r="1.9" fill="#000" fill-opacity="0.6"/>
<circle cx="120.93" cy="546.8" r="1.9" fill="#000" fill-opacity="0.6"/>
<circle cx="118.07" cy="542.85" r="1.9" fill="#000" fill-opacity="0.6"/>
<circle cx="110.58" cy="541.32" r="1.9" fill="#000" fill-opacity="0.6"/>
<circle cx="119.91" cy="542.98" r="1.9" fill="#000" fill-opacity="0.6"/>
<circle cx="136.51" cy="548.8" r="1.9" fill="#000" fill-opacity="0.6"/>
<circle cx="129.37" cy="551.57" r="1.9" fill="#000" fill-opacity="0.6"/>
<circle cx="133.75" cy="548.58" r="1.9" fill="#000" fill-opacity="0.6"/>
<circle cx="137.36" cy="548.67" r="1.9" fill="#000" fill-opacity="0.6"/>
<circle cx="134.71" cy="548.03" r="1.9" fill="#000" fill-opacity="0.6"/>
<circle cx="135.89" cy="549.94" r="1.9" fill="#000" fill-opacity="0.6"/>
<circle cx="130.46" cy="556.3" r="1.9" fill="#000" fill-opacity="0.6"/>
<circle cx="129.3" cy="553.14" r="1.9" fill="#000" fill-opacity="0.6"/>
<circle cx="128.96" cy="548.58" r="1.9" fill="#000" fill-opacity="0.6"/>
<circle cx="134.4" cy="550.57" r="1.9" fill="#000" fill-opacity="0.6"/>
<circle cx="135.21" cy="550.07" r="1.9" fill="#000" fill-opacity="0.6"/>
<circle cx="133.57" cy="556.57" r="1.9" fill="#000" fill-opacity="0.6"/>
<circle cx="137.27" cy="549.42" r="1.9" fill="#000" fill-opacity="0.6"/>
<circle cx="133.74" cy="551.46" r="1.9" fill="#000" fill-opacity="0.6"/>
<circle cx="135.61" cy="555.97" r="1.9" fill="#000" fill-opacity="0.6"/>
<circle cx="136.54" cy="554.18" r="1.9" fill="#000" fill-opacity="0.6"/>
<circle cx="128.59" cy="554.05" r="1.9" fill="#000" fill-opacity="0.6"/>
<circle cx="136.45" cy="554.63" r="1.9" fill="#000" fill-opacity="0.6"/>
<circle cx="136.58" cy="547.23" r="1.9" fill="#000" fill-opacity="0.6"/>
<circle cx="133.63" cy="552.93" r="1.9" fill="#000" fill-opacity="0.6"/>
<circle cx="133.45" cy="550.04" r="1.9" fill="#000" fill-opacity="0.6"/>
<circle cx="136.9" cy="550.68" r="1.9" fill="#000" fill-opacity="0.6"/>
<circle cx="135.41" cy="555.86" r="1.9" fill="#000" fill-opacity="0.6"/>
<circle cx="129.47" cy="554.16" r="1.9" fill="#000" fill-opacity="0.6"/>
<circle cx="136.62" cy="553.68" r="1.9" fill="#000" fill-opacity="0.6"/>
<circle cx="134.51" cy="556.48" r="1.9" fill="#000" fill-opacity="0.6"/>
<circle cx="128.43" cy="554.02" r="1.9" fill="#000" fill-opacity="0.6"/>
<circle cx="135.76" cy="549.96" r="1.9" fill="#000" fill-opacity="0.6"/>
<circle cx="135.81" cy="553.81" r="1.9" fill="#000" fill-opacity="0.6"/>
<circle cx="133.9" cy="552.14" r="1.9" fill="#000" fill-opacity="0.6"/>
<circle cx="133.3" cy="555.46" r="1.9" fill="#000" fill-opacity="0.6"/>
<circle cx="138.42" cy="554.69" r="1.9" fill="#000" fill-opacity="0.6"/>
<circle cx="139.44" cy="547.61" r="1.9" fill="#000" fill-opacity="0.6"/>
<circle cx="127.91" cy="552.19" r="1.9" fill="#000" fill-opacity="0.6"/>
<circle cx="137.54" cy="547.31" r="1.9" fill="#000" fill-opacity="0.6"/>
<circle cx="133.09" cy="554.02" r="1.9" fill="#000" fill-opacity="0.6"/>
<circle cx="130.22" cy="547.52" r="1.9" fill="#000" fill-opacity="0.6"/>
<circle cx="130.23" cy="551.02" r="1.9" fill="#000" fill-opacity="0.6"/>
<circle cx="129.4" cy="551.57" r="1.9" fill="#000" fill-opacity="0.6"/>
<circle cx="139.13" cy="555.33" r="1.9" fill="#000" fill-opacity="0.6"/>
<circle cx="137.54" cy="551.72" r="1.9" fill="#000" fill-opacity="0.6"/>
<circle cx="138.34" cy="549.85" r="1.9" fill="#000" fill-opacity="0.6"/>
<circle cx="131.01" cy="538.92" r="1.9" fill="#000" fill-opacity="0.6"/>
<circle cx="133.56" cy="546.78" r="1.9" fill="#000" fill-opacity="0.6"/>
<circle cx="128.74" cy="542.57" r="1.9" fill="#000" fill-opacity="0.6"/>
<circle cx="133.21" cy="544.28" r="1.9" fill="#000" fill-opacity="0.6"/>
<circle cx="130.11" cy="543.9" r="1.9" fill="#000" fill-opacity="0.6"/>
<circle cx="131.86" cy="539.44" r="1.9" fill="#000" fill-opacity="0.6"/>
<circle cx="145.62" cy="549.39" r="1.9" fill="#000" fill-opacity="0.6"/>
<circle cx="155.67" cy="555.45" r="1.9" fill="#000" fill-opacity="0.6"/>
<circle cx="156.72" cy="549.75" r="1.9" fill="#000" fill-opacity="0.6"/>
<circle cx="156.42" cy="553.82" r="1.9" fill="#000" fill-opacity="0.6"/>
<circle cx="150.07" cy="552.83" r="1.9" fill="#000" fill-opacity="0.6"/>
<circle cx="157.59" cy="550.94" r="1.9" fill="#000" fill-opacity="0.6"/>
<circle cx="149.93" cy="552.49" r="1.9" fill="#000" fill-opacity="0.6"/>
<circle cx="148.9" cy="556.14" r="1.9" fill="#000" fill-opacity="0.6"/>
<circle cx="146.82" cy="548.59" r="1.9" fill="#000" fill-opacity="0.6"/>
<circle cx="149.03" cy="547.62" r="1.9" fill="#000" fill-opacity="0.6"/>
<circle cx="148.59" cy="554.05" r="1.9" fill="#000" fill-opacity="0.6"/>
<circle cx="151.73" cy="554.78" r="1.9" fill="#000" fill-opacity="0.6"/>
<circle cx="150.08" cy="547.42" r="1.9" fill="#000" fill-opacity="0.6"/>
<circle cx="156.21" cy="548.81" r="1.9" fill="#000" fill-opacity="0.6"/>
<circle cx="153.17" cy="547.83" r="1.9" fill="#000" fill-opacity="0.6"/>
<circle cx="156.89" cy="551.33" r="1.9" fill="#000" fill-opacity="0.6"/>
<circle cx="154.23" cy="556.13" r="1.9" fill="#000" fill-opacity="0.6"/>
<circle cx="154.39" cy="552.27" r="1.9" fill="#000" fill-opacity="0.6"/>
<circle cx="154.63" cy="550.41" r="1.9" fill="#000" fill-opacity="0.6"/>
<circle cx="149.03" cy="556.13" r="1.9" fill="#000" fill-opacity="0.6"/>
<circle cx="156.72" cy="555.38" r="1.9" fill="#000" fill-opacity="0.6"/>
<circle cx="151.27" cy="553.3" r="1.9" fill="#000" fill-opacity="0.6"/>
<circle cx="149.17" cy="549.51" r="1.9" fill="#000" fill-opacity="0.6"/>
<circle cx="157.32" cy="554.1" r="1.9" fill="#000" fill-opacity="0.6"/>
<circle cx="153.47" cy="553.71" r="1.9" fill="#000" fill-opacity="0.6"/>
<circle cx="152.29" cy="552.81" r="1.9" fill="#000" fill-opacity="0.6"/>
<circle cx="147.61" cy="555.05" r="1.9" fill="#000" fill-opacity="0.6"/>
<circle cx="148.09" cy="547.9" r="1.9" fill="#000" fill-opacity="0.6"/>
<circle cx="151.56" cy="554.49" r="1.9" fill="#000" fill-opacity="0.6"/>
<circle cx="156.48" cy="547.03" r="1.9" fill="#000" fill-opacity="0.6"/>
<circle cx="151" cy="555.26" r="1.9" fill="#000" fill-opacity="0.6"/>
<circle cx="147.91" cy="555.73" r="1.9" fill="#000" fill-opacity="0.6"/>
<circle cx="149.7" cy="555.73" r="1.9" fill="#000" fill-opacity="0.6"/>
<circle cx="148.47" cy="554.12" r="1.9" fill="#000" fill-opacity="0.6"/>
<circle cx="152.44" cy="548.08" r="1.9" fill="#000" fill-opacity="0.6"/>
<circle cx="154.6" cy="552.64" r="1.9" fill="#000" fill-opacity="0.6"/>
<circle cx="150.57" cy="551.57" r="1.9" fill="#000" fill-opacity="0.6"/>
<circle cx="150.12" cy="553.35" r="1.9" fill="#000" fill-opacity="0.6"/>
<circle cx="146.34" cy="553.94" r="1.9" fill="#000" fill-opacity="0.6"/>
<circle cx="157.21" cy="555.39" r="1.9" fill="#000" fill-opacity="0.6"/>
<circle cx="151.63" cy="527.74" r="1.9" fill="#000" fill-opacity="0.6"/>
<circle cx="155.23" cy="539.74" r="1.9" fill="#000" fill-opacity="0.6"/>
<circle cx="149.31" cy="538.79" r="1.9" fill="#000" fill-opacity="0.6"/>
<circle cx="150.6" cy="533.07" r="1.9" fill="#000" fill-opacity="0.6"/>
<circle cx="156.14" cy="521.39" r="1.9" fill="#000" fill-opacity="0.6"/>
<circle cx="155.33" cy="545.37" r="1.9" fill="#000" fill-opacity="0.6"/>
<circle cx="146.92" cy="525.42" r="1.9" fill="#000" fill-opacity="0.6"/>
<circle cx="155.56" cy="532.28" r="1.9" fill="#000" fill-opacity="0.6"/>
<circle cx="152.47" cy="545.99" r="1.9" fill="#000" fill-opacity="0.6"/>
<circle cx="150.52" cy="519.12" r="1.9" fill="#000" fill-opacity="0.6"/>
<circle cx="154.86" cy="521.19" r="1.9" fill="#000" fill-opacity="0.6"/>
<circle cx="156.32" cy="538.79" r="1.9" fill="#000" fill-opacity="0.6"/>
<circle cx="147.69" cy="541.52" r="1.9" fill="#000" fill-opacity="0.6"/>
<circle cx="151.82" cy="526.22" r="1.9" fill="#000" fill-opacity="0.6"/>
<circle cx="174.56" cy="537.4" r="1.9" fill="#000" fill-opacity="0.6"/>
<circle cx="171.32" cy="536.26" r="1.9" fill="#000" fill-opacity="0.6"/>
<circle cx="169.23" cy="541.93" r="1.9" fill="#000" fill-opacity="0.6"/>
<circle cx="164.64" cy="535.79" r="1.9" fill="#000" fill-opacity="0.6"/>
<circle cx="166.76" cy="532.13" r="1.9" fill="#000" fill-opacity="0.6"/>
<circle cx="171.3" cy="548.52" r="1.9" fill="#000" fill-opacity="0.6"/>
<circle cx="165.61" cy="549.9" r="1.9" fill="#000" fill-opacity="0.6"/>
<circle cx="171.2" cy="538.02" r="1.9" fill="#000" fill-opacity="0.6"/>
<circle cx="165.43" cy="554.73" r="1.9" fill="#000" fill-opacity="0.6"/>
<circle cx="169.97" cy="541.1" r="1.9" fill="#000" fill-opacity="0.6"/>
<circle cx="168.47" cy="550.65" r="1.9" fill="#000" fill-opacity="0.6"/>
<circle cx="170.81" cy="556.32" r="1.9" fill="#000" fill-opacity="0.6"/>
<circle cx="167.52" cy="544.35" r="1.9" fill="#000" fill-opacity="0.6"/>
<circle cx="174.75" cy="539.45" r="1.9" fill="#000" fill-opacity="0.6"/>
<circle cx="113.3" cy="457.5" r="1.9" fill="#000" fill-opacity="0.6"/>
<circle cx="114" cy="518" r="1.9" fill="#000" fill-opacity="0.6"/>
<circle cx="118" cy="524" r="1.9" fill="#000" fill-opacity="0.6"/>
<circle cx="113" cy="533" r="1.9" fill="#000" fill-opacity="0.6"/>
<circle cx="117" cy="533" r="1.9" fill="#000" fill-opacity="0.6"/>
<circle cx="120" cy="537" r="1.9" fill="#000" fill-opacity="0.6"/>
<circle cx="116" cy="540" r="1.9" fill="#000" fill-opacity="0.6"/>
<circle cx="133.7" cy="449" r="1.9" fill="#000" fill-opacity="0.6"/>
<circle cx="131.5" cy="485.5" r="1.9" fill="#000" fill-opacity="0.6"/>
<circle cx="136.3" cy="487.7" r="1.9" fill="#000" fill-opacity="0.6"/>
<circle cx="130" cy="512" r="1.9" fill="#000" fill-opacity="0.6"/>
<circle cx="131.5" cy="518" r="1.9" fill="#000" fill-opacity="0.6"/>
<circle cx="135" cy="527" r="1.9" fill="#000" fill-opacity="0.6"/>
<circle cx="138" cy="521" r="1.9" fill="#000" fill-opacity="0.6"/>
<circle cx="129" cy="540" r="1.9" fill="#000" fill-opacity="0.6"/>
<circle cx="134" cy="538" r="1.9" fill="#000" fill-opacity="0.6"/>
<circle cx="149" cy="449" r="1.9" fill="#000" fill-opacity="0.6"/>
<circle cx="154.3" cy="451" r="1.9" fill="#000" fill-opacity="0.6"/>
<circle cx="148.5" cy="476" r="1.9" fill="#000" fill-opacity="0.6"/>
<circle cx="149" cy="486" r="1.9" fill="#000" fill-opacity="0.6"/>
<circle cx="152.5" cy="489" r="1.9" fill="#000" fill-opacity="0.6"/>
<circle cx="150" cy="494" r="1.9" fill="#000" fill-opacity="0.6"/>
<circle cx="148" cy="500.5" r="1.9" fill="#000" fill-opacity="0.6"/>
<circle cx="152" cy="505" r="1.9" fill="#000" fill-opacity="0.6"/>
<circle cx="154" cy="508" r="1.9" fill="#000" fill-opacity="0.6"/>
<circle cx="151" cy="512" r="1.9" fill="#000" fill-opacity="0.6"/>
<circle cx="150" cy="517" r="1.9" fill="#000" fill-opacity="0.6"/>
<circle cx="155" cy="523" r="1.9" fill="#000" fill-opacity="0.6"/>
<circle cx="148.5" cy="530" r="1.9" fill="#000" fill-opacity="0.6"/>
<circle cx="166.2" cy="476.5" r="1.9" fill="#000" fill-opacity="0.6"/>
<circle cx="170.6" cy="501.5" r="1.9" fill="#000" fill-opacity="0.6"/>
<circle cx="168" cy="511" r="1.9" fill="#000" fill-opacity="0.6"/>
<circle cx="173" cy="513" r="1.9" fill="#000" fill-opacity="0.6"/>
<circle cx="176" cy="515" r="1.9" fill="#000" fill-opacity="0.6"/>
<circle cx="172" cy="528" r="1.9" fill="#000" fill-opacity="0.6"/>
<circle cx="172.5" cy="531" r="1.9" fill="#000" fill-opacity="0.6"/>
<circle cx="166" cy="535" r="1.9" fill="#000" fill-opacity="0.6"/>
<circle cx="168" cy="538" r="1.9" fill="#000" fill-opacity="0.6"/>
<circle cx="170" cy="545" r="1.9" fill="#000" fill-opacity="0.6"/>
<circle cx="171.5" cy="552" r="1.9" fill="#000" fill-opacity="0.6"/>
<circle cx="165" cy="550" r="1.9" fill="#000" fill-opacity="0.6"/>
<circle cx="169" cy="557" r="1.9" fill="#000" fill-opacity="0.6"/>
<circle cx="131.3" cy="352.4" r="1.9" fill="#000" fill-opacity="0.6"/>
<circle cx="165.8" cy="348" r="1.9" fill="#000" fill-opacity="0.6"/>
<circle cx="135.4" cy="382.2" r="1.9" fill="#000" fill-opacity="0.6"/>
<circle cx="118.9" cy="386.6" r="1.9" fill="#000" fill-opacity="0.6"/>
<circle cx="166.2" cy="410.7" r="1.9" fill="#000" fill-opacity="0.6"/>
<circle cx="151.8" cy="426" r="1.9" fill="#000" fill-opacity="0.6"/>
<circle cx="155.3" cy="435.3" r="1.9" fill="#000" fill-opacity="0.6"/>
<text x="107.7" y="362.3" font-size="12" font-weight="bold" stroke="#000" stroke-width="0.25" textLength="54.6" lengthAdjust="spacingAndGlyphs" fill="#000">P = 0.030</text>
<line x1="108.2" y1="365.5" x2="116.7" y2="365.5" stroke="#7f7f7f" stroke-width="2.3"/>
<line x1="162.5" y1="365.5" x2="171" y2="365.5" stroke="#7f7f7f" stroke-width="2.3"/>
<line x1="121.78" y1="365.5" x2="130.28" y2="365.5" stroke="#7f7f7f" stroke-width="2.3"/>
<line x1="135.35" y1="365.5" x2="143.85" y2="365.5" stroke="#7f7f7f" stroke-width="2.3"/>
<line x1="148.93" y1="365.5" x2="157.43" y2="365.5" stroke="#7f7f7f" stroke-width="2.3"/>
<polyline points="114.8,361.6 108.4,365.5 114.8,369.4" fill="none" stroke="#7f7f7f" stroke-width="2.3" stroke-linejoin="miter" stroke-miterlimit="8"/>
<polyline points="164.4,361.6 170.8,365.5 164.4,369.4" fill="none" stroke="#7f7f7f" stroke-width="2.3" stroke-linejoin="miter" stroke-miterlimit="8"/>
<text x="109.8" y="397.2" font-size="12" font-weight="bold" stroke="#000" stroke-width="0.25" textLength="54.3" lengthAdjust="spacingAndGlyphs" fill="#000">P = 0.027</text>
<line x1="126.9" y1="401" x2="135.4" y2="401" stroke="#7f7f7f" stroke-width="2.3"/>
<line x1="157.5" y1="401" x2="166" y2="401" stroke="#7f7f7f" stroke-width="2.3"/>
<line x1="142.2" y1="401" x2="150.7" y2="401" stroke="#7f7f7f" stroke-width="2.3"/>
<polyline points="133.5,397.1 127.1,401 133.5,404.9" fill="none" stroke="#7f7f7f" stroke-width="2.3" stroke-linejoin="miter" stroke-miterlimit="8"/>
<polyline points="159.4,397.1 165.8,401 159.4,404.9" fill="none" stroke="#7f7f7f" stroke-width="2.3" stroke-linejoin="miter" stroke-miterlimit="8"/>
<line x1="589.3" y1="56.2" x2="589.3" y2="141.5" stroke="#7a7a7a" stroke-width="1"/>
<line x1="589.3" y1="148.9" x2="589.3" y2="295.5" stroke="#7a7a7a" stroke-width="1"/>
<line x1="584.8" y1="56.2" x2="589.3" y2="56.2" stroke="#7a7a7a" stroke-width="1"/>
<text x="580.4" y="59.61" font-size="9.6" text-anchor="end" textLength="14.41" lengthAdjust="spacingAndGlyphs" fill="#222">150</text>
<line x1="584.8" y1="105.5" x2="589.3" y2="105.5" stroke="#7a7a7a" stroke-width="1"/>
<text x="580.4" y="108.91" font-size="9.6" text-anchor="end" textLength="14.41" lengthAdjust="spacingAndGlyphs" fill="#222">100</text>
<line x1="584.8" y1="149.1" x2="589.3" y2="149.1" stroke="#7a7a7a" stroke-width="1"/>
<text x="580.4" y="152.51" font-size="9.6" text-anchor="end" textLength="9.61" lengthAdjust="spacingAndGlyphs" fill="#222">60</text>
<line x1="584.8" y1="173.5" x2="589.3" y2="173.5" stroke="#7a7a7a" stroke-width="1"/>
<text x="580.4" y="176.91" font-size="9.6" text-anchor="end" textLength="9.61" lengthAdjust="spacingAndGlyphs" fill="#222">50</text>
<line x1="584.8" y1="197.9" x2="589.3" y2="197.9" stroke="#7a7a7a" stroke-width="1"/>
<text x="580.4" y="201.31" font-size="9.6" text-anchor="end" textLength="9.61" lengthAdjust="spacingAndGlyphs" fill="#222">40</text>
<line x1="584.8" y1="222.3" x2="589.3" y2="222.3" stroke="#7a7a7a" stroke-width="1"/>
<text x="580.4" y="225.71" font-size="9.6" text-anchor="end" textLength="9.61" lengthAdjust="spacingAndGlyphs" fill="#222">30</text>
<line x1="584.8" y1="246.7" x2="589.3" y2="246.7" stroke="#7a7a7a" stroke-width="1"/>
<text x="580.4" y="250.11" font-size="9.6" text-anchor="end" textLength="9.61" lengthAdjust="spacingAndGlyphs" fill="#222">20</text>
<line x1="584.8" y1="271.1" x2="589.3" y2="271.1" stroke="#7a7a7a" stroke-width="1"/>
<text x="580.4" y="274.51" font-size="9.6" text-anchor="end" textLength="9.61" lengthAdjust="spacingAndGlyphs" fill="#222">10</text>
<line x1="584.8" y1="295.5" x2="589.3" y2="295.5" stroke="#7a7a7a" stroke-width="1"/>
<text x="580.4" y="298.91" font-size="9.6" text-anchor="end" textLength="4.8" lengthAdjust="spacingAndGlyphs" fill="#222">0</text>
<line x1="582.1" y1="141.4" x2="592.6" y2="146.4" stroke="#7a7a7a" stroke-width="0.9"/>
<line x1="582.1" y1="144.4" x2="592.6" y2="149.2" stroke="#7a7a7a" stroke-width="0.9"/>
<text transform="translate(552.4,168) rotate(-90)" x="0" y="0" font-size="14.6" font-weight="bold" stroke="#000" stroke-width="0.25" text-anchor="middle" textLength="194.4" lengthAdjust="spacingAndGlyphs" fill="#000">Bacillota/ Bacteroidota ratio</text>
<line x1="602" y1="301.6" x2="641.6" y2="301.6" stroke="#7a7a7a" stroke-width="1"/>
<line x1="602" y1="301.6" x2="602" y2="306" stroke="#7a7a7a" stroke-width="1"/>
<line x1="621.6" y1="301.6" x2="621.6" y2="306" stroke="#7a7a7a" stroke-width="1"/>
<line x1="641.6" y1="301.6" x2="641.6" y2="306" stroke="#7a7a7a" stroke-width="1"/>
<text x="596.7" y="317.9" font-size="14.4" font-weight="bold" stroke="#000" stroke-width="0.25" text-anchor="middle" fill="#000">S1</text>
<text x="623.3" y="317.9" font-size="14.4" font-weight="bold" stroke="#000" stroke-width="0.25" text-anchor="middle" fill="#000">S2</text>
<text x="649.4" y="317.9" font-size="14.4" font-weight="bold" stroke="#000" stroke-width="0.25" text-anchor="middle" fill="#000">S3</text>
<line x1="601.55" y1="153.4" x2="601.55" y2="229.7" stroke="#333" stroke-width="0.9" stroke-dasharray="1.2,1.6"/>
<line x1="597.8" y1="153.4" x2="605.3" y2="153.4" stroke="#333" stroke-width="0.9"/>
<rect x="593.4" y="229.7" width="16.3" height="58.8" fill="#6e6e6e" stroke="#333" stroke-width="0.9"/>
<line x1="593.4" y1="280.8" x2="609.7" y2="280.8" stroke="#000" stroke-width="2"/>
<line x1="621.65" y1="276.5" x2="621.65" y2="283.5" stroke="#333" stroke-width="0.9" stroke-dasharray="1.2,1.6"/>
<line x1="617.68" y1="276.5" x2="625.63" y2="276.5" stroke="#333" stroke-width="0.9"/>
<rect x="613.7" y="283.5" width="15.9" height="7.9" fill="#c8c8c8" stroke="#333" stroke-width="0.9"/>
<line x1="613.7" y1="287.4" x2="629.6" y2="287.4" stroke="#000" stroke-width="2"/>
<line x1="642" y1="271" x2="642" y2="278.3" stroke="#333" stroke-width="0.9" stroke-dasharray="1.2,1.6"/>
<line x1="638.05" y1="271" x2="645.95" y2="271" stroke="#333" stroke-width="0.9"/>
<rect x="634.1" y="278.3" width="15.8" height="13.1" fill="#8c8c8c" stroke="#333" stroke-width="0.9"/>
<line x1="634.1" y1="289.2" x2="649.9" y2="289.2" stroke="#000" stroke-width="2"/>
<circle cx="606.99" cy="287.3" r="1.9" fill="#000" fill-opacity="0.6"/>
<circle cx="598.55" cy="290.04" r="1.9" fill="#000" fill-opacity="0.6"/>
<circle cx="607.99" cy="284.54" r="1.9" fill="#000" fill-opacity="0.6"/>
<circle cx="599.5" cy="292.74" r="1.9" fill="#000" fill-opacity="0.6"/>
<circle cx="601.98" cy="284.91" r="1.9" fill="#000" fill-opacity="0.6"/>
<circle cx="600.96" cy="289.91" r="1.9" fill="#000" fill-opacity="0.6"/>
<circle cx="604.18" cy="281.9" r="1.9" fill="#000" fill-opacity="0.6"/>
<circle cx="598.45" cy="292.59" r="1.9" fill="#000" fill-opacity="0.6"/>
<circle cx="599.89" cy="287.95" r="1.9" fill="#000" fill-opacity="0.6"/>
<circle cx="604.37" cy="290.62" r="1.9" fill="#000" fill-opacity="0.6"/>
<circle cx="605.86" cy="284.13" r="1.9" fill="#000" fill-opacity="0.6"/>
<circle cx="602.06" cy="290.54" r="1.9" fill="#000" fill-opacity="0.6"/>
<circle cx="608.11" cy="289.26" r="1.9" fill="#000" fill-opacity="0.6"/>
<circle cx="606.16" cy="290.23" r="1.9" fill="#000" fill-opacity="0.6"/>
<circle cx="598.38" cy="283.87" r="1.9" fill="#000" fill-opacity="0.6"/>
<circle cx="599.33" cy="281.58" r="1.9" fill="#000" fill-opacity="0.6"/>
<circle cx="601.94" cy="290.75" r="1.9" fill="#000" fill-opacity="0.6"/>
<circle cx="598.4" cy="288" r="1.9" fill="#000" fill-opacity="0.6"/>
<circle cx="604.15" cy="281.61" r="1.9" fill="#000" fill-opacity="0.6"/>
<circle cx="597.4" cy="288.28" r="1.9" fill="#000" fill-opacity="0.6"/>
<circle cx="598.27" cy="281.31" r="1.9" fill="#000" fill-opacity="0.6"/>
<circle cx="597.34" cy="292.38" r="1.9" fill="#000" fill-opacity="0.6"/>
<circle cx="596.28" cy="288.28" r="1.9" fill="#000" fill-opacity="0.6"/>
<circle cx="607.18" cy="282.4" r="1.9" fill="#000" fill-opacity="0.6"/>
<circle cx="605.03" cy="281.03" r="1.9" fill="#000" fill-opacity="0.6"/>
<circle cx="607.61" cy="289.05" r="1.9" fill="#000" fill-opacity="0.6"/>
<circle cx="597.91" cy="281.77" r="1.9" fill="#000" fill-opacity="0.6"/>
<circle cx="605.2" cy="292.62" r="1.9" fill="#000" fill-opacity="0.6"/>
<circle cx="604.14" cy="288.46" r="1.9" fill="#000" fill-opacity="0.6"/>
<circle cx="600.36" cy="289.02" r="1.9" fill="#000" fill-opacity="0.6"/>
<circle cx="597.7" cy="292.97" r="1.9" fill="#000" fill-opacity="0.6"/>
<circle cx="599.14" cy="288.78" r="1.9" fill="#000" fill-opacity="0.6"/>
<circle cx="607.92" cy="291.52" r="1.9" fill="#000" fill-opacity="0.6"/>
<circle cx="608.04" cy="290.51" r="1.9" fill="#000" fill-opacity="0.6"/>
<circle cx="600.14" cy="283.14" r="1.9" fill="#000" fill-opacity="0.6"/>
<circle cx="606.19" cy="287.81" r="1.9" fill="#000" fill-opacity="0.6"/>
<circle cx="596.14" cy="287.32" r="1.9" fill="#000" fill-opacity="0.6"/>
<circle cx="600.35" cy="281.97" r="1.9" fill="#000" fill-opacity="0.6"/>
<circle cx="598.01" cy="288.63" r="1.9" fill="#000" fill-opacity="0.6"/>
<circle cx="607.16" cy="292.64" r="1.9" fill="#000" fill-opacity="0.6"/>
<circle cx="600.84" cy="283.26" r="1.9" fill="#000" fill-opacity="0.6"/>
<circle cx="605.47" cy="292.51" r="1.9" fill="#000" fill-opacity="0.6"/>
<circle cx="595.95" cy="292.25" r="1.9" fill="#000" fill-opacity="0.6"/>
<circle cx="607.46" cy="289.92" r="1.9" fill="#000" fill-opacity="0.6"/>
<circle cx="605.21" cy="282.22" r="1.9" fill="#000" fill-opacity="0.6"/>
<circle cx="599.91" cy="289.73" r="1.9" fill="#000" fill-opacity="0.6"/>
<circle cx="607.95" cy="285.6" r="1.9" fill="#000" fill-opacity="0.6"/>
<circle cx="598.91" cy="284.4" r="1.9" fill="#000" fill-opacity="0.6"/>
<circle cx="619.31" cy="290.79" r="1.9" fill="#000" fill-opacity="0.6"/>
<circle cx="615.25" cy="287.28" r="1.9" fill="#000" fill-opacity="0.6"/>
<circle cx="627.11" cy="288.17" r="1.9" fill="#000" fill-opacity="0.6"/>
<circle cx="627.46" cy="292.62" r="1.9" fill="#000" fill-opacity="0.6"/>
<circle cx="618.24" cy="289.33" r="1.9" fill="#000" fill-opacity="0.6"/>
<circle cx="627.64" cy="285.84" r="1.9" fill="#000" fill-opacity="0.6"/>
<circle cx="620.22" cy="290.97" r="1.9" fill="#000" fill-opacity="0.6"/>
<circle cx="620.79" cy="289.2" r="1.9" fill="#000" fill-opacity="0.6"/>
<circle cx="627.27" cy="291.46" r="1.9" fill="#000" fill-opacity="0.6"/>
<circle cx="625.63" cy="287.41" r="1.9" fill="#000" fill-opacity="0.6"/>
<circle cx="625.9" cy="287.16" r="1.9" fill="#000" fill-opacity="0.6"/>
<circle cx="623.09" cy="290.41" r="1.9" fill="#000" fill-opacity="0.6"/>
<circle cx="619.35" cy="290.16" r="1.9" fill="#000" fill-opacity="0.6"/>
<circle cx="625.37" cy="292.22" r="1.9" fill="#000" fill-opacity="0.6"/>
<circle cx="617.77" cy="287.3" r="1.9" fill="#000" fill-opacity="0.6"/>
<circle cx="618.41" cy="292.33" r="1.9" fill="#000" fill-opacity="0.6"/>
<circle cx="615.64" cy="288.77" r="1.9" fill="#000" fill-opacity="0.6"/>
<circle cx="619.43" cy="285.64" r="1.9" fill="#000" fill-opacity="0.6"/>
<circle cx="626.69" cy="285.59" r="1.9" fill="#000" fill-opacity="0.6"/>
<circle cx="618.64" cy="292.19" r="1.9" fill="#000" fill-opacity="0.6"/>
<circle cx="616.45" cy="289.16" r="1.9" fill="#000" fill-opacity="0.6"/>
<circle cx="624.43" cy="289.54" r="1.9" fill="#000" fill-opacity="0.6"/>
<circle cx="618.24" cy="289.76" r="1.9" fill="#000" fill-opacity="0.6"/>
<circle cx="623.26" cy="287.88" r="1.9" fill="#000" fill-opacity="0.6"/>
<circle cx="624.92" cy="286.62" r="1.9" fill="#000" fill-opacity="0.6"/>
<circle cx="623.84" cy="291.92" r="1.9" fill="#000" fill-opacity="0.6"/>
<circle cx="626.13" cy="290.66" r="1.9" fill="#000" fill-opacity="0.6"/>
<circle cx="622.57" cy="290.08" r="1.9" fill="#000" fill-opacity="0.6"/>
<circle cx="624.79" cy="291.35" r="1.9" fill="#000" fill-opacity="0.6"/>
<circle cx="618.42" cy="291.01" r="1.9" fill="#000" fill-opacity="0.6"/>
<circle cx="617.19" cy="286.35" r="1.9" fill="#000" fill-opacity="0.6"/>
<circle cx="622.72" cy="290.42" r="1.9" fill="#000" fill-opacity="0.6"/>
<circle cx="620.35" cy="285.56" r="1.9" fill="#000" fill-opacity="0.6"/>
<circle cx="621.8" cy="291.11" r="1.9" fill="#000" fill-opacity="0.6"/>
<circle cx="625.71" cy="288.03" r="1.9" fill="#000" fill-opacity="0.6"/>
<circle cx="628.08" cy="292.05" r="1.9" fill="#000" fill-opacity="0.6"/>
<circle cx="621.37" cy="286.82" r="1.9" fill="#000" fill-opacity="0.6"/>
<circle cx="626.13" cy="286.13" r="1.9" fill="#000" fill-opacity="0.6"/>
<circle cx="615.72" cy="290.66" r="1.9" fill="#000" fill-opacity="0.6"/>
<circle cx="616.75" cy="291.42" r="1.9" fill="#000" fill-opacity="0.6"/>
<circle cx="627.85" cy="288.54" r="1.9" fill="#000" fill-opacity="0.6"/>
<circle cx="627.29" cy="290.08" r="1.9" fill="#000" fill-opacity="0.6"/>
<circle cx="626.46" cy="289.52" r="1.9" fill="#000" fill-opacity="0.6"/>
<circle cx="618.58" cy="287.12" r="1.9" fill="#000" fill-opacity="0.6"/>
<circle cx="627.49" cy="292.03" r="1.9" fill="#000" fill-opacity="0.6"/>
<circle cx="622.95" cy="288.27" r="1.9" fill="#000" fill-opacity="0.6"/>
<circle cx="618.03" cy="290.11" r="1.9" fill="#000" fill-opacity="0.6"/>
<circle cx="617.04" cy="291.31" r="1.9" fill="#000" fill-opacity="0.6"/>
<circle cx="618.51" cy="288.42" r="1.9" fill="#000" fill-opacity="0.6"/>
<circle cx="623.67" cy="291.31" r="1.9" fill="#000" fill-opacity="0.6"/>
<circle cx="615.35" cy="290.41" r="1.9" fill="#000" fill-opacity="0.6"/>
<circle cx="624.02" cy="291.45" r="1.9" fill="#000" fill-opacity="0.6"/>
<circle cx="619.82" cy="284.18" r="1.9" fill="#000" fill-opacity="0.6"/>
<circle cx="624.65" cy="281.94" r="1.9" fill="#000" fill-opacity="0.6"/>
<circle cx="617.33" cy="284.84" r="1.9" fill="#000" fill-opacity="0.6"/>
<circle cx="620.65" cy="281.92" r="1.9" fill="#000" fill-opacity="0.6"/>
<circle cx="623.09" cy="284.91" r="1.9" fill="#000" fill-opacity="0.6"/>
<circle cx="618.34" cy="280.98" r="1.9" fill="#000" fill-opacity="0.6"/>
<circle cx="640.83" cy="291.02" r="1.9" fill="#000" fill-opacity="0.6"/>
<circle cx="639.5" cy="286.79" r="1.9" fill="#000" fill-opacity="0.6"/>
<circle cx="639.56" cy="289.23" r="1.9" fill="#000" fill-opacity="0.6"/>
<circle cx="640.14" cy="290.18" r="1.9" fill="#000" fill-opacity="0.6"/>
<circle cx="646.74" cy="286.52" r="1.9" fill="#000" fill-opacity="0.6"/>
<circle cx="640.23" cy="291.56" r="1.9" fill="#000" fill-opacity="0.6"/>
<circle cx="644.96" cy="291.52" r="1.9" fill="#000" fill-opacity="0.6"/>
<circle cx="635.58" cy="287.12" r="1.9" fill="#000" fill-opacity="0.6"/>
<circle cx="641.01" cy="287.63" r="1.9" fill="#000" fill-opacity="0.6"/>
<circle cx="640.78" cy="287.24" r="1.9" fill="#000" fill-opacity="0.6"/>
<circle cx="641.49" cy="291.78" r="1.9" fill="#000" fill-opacity="0.6"/>
<circle cx="635.69" cy="289.33" r="1.9" fill="#000" fill-opacity="0.6"/>
<circle cx="643.83" cy="287.07" r="1.9" fill="#000" fill-opacity="0.6"/>
<circle cx="636.66" cy="288.88" r="1.9" fill="#000" fill-opacity="0.6"/>
<circle cx="640.32" cy="289.62" r="1.9" fill="#000" fill-opacity="0.6"/>
<circle cx="637.4" cy="291.02" r="1.9" fill="#000" fill-opacity="0.6"/>
<circle cx="642.28" cy="286.97" r="1.9" fill="#000" fill-opacity="0.6"/>
<circle cx="636.91" cy="289.71" r="1.9" fill="#000" fill-opacity="0.6"/>
<circle cx="645.96" cy="286.71" r="1.9" fill="#000" fill-opacity="0.6"/>
<circle cx="638.07" cy="292" r="1.9" fill="#000" fill-opacity="0.6"/>
<circle cx="647.76" cy="286.65" r="1.9" fill="#000" fill-opacity="0.6"/>
<circle cx="641.78" cy="292.46" r="1.9" fill="#000" fill-opacity="0.6"/>
<circle cx="647.54" cy="290.36" r="1.9" fill="#000" fill-opacity="0.6"/>
<circle cx="647.25" cy="288.89" r="1.9" fill="#000" fill-opacity="0.6"/>
<circle cx="646.22" cy="291.79" r="1.9" fill="#000" fill-opacity="0.6"/>
<circle cx="645.72" cy="291.4" r="1.9" fill="#000" fill-opacity="0.6"/>
<circle cx="640.76" cy="287.47" r="1.9" fill="#000" fill-opacity="0.6"/>
<circle cx="646.28" cy="291.65" r="1.9" fill="#000" fill-opacity="0.6"/>
<circle cx="638.34" cy="290.28" r="1.9" fill="#000" fill-opacity="0.6"/>
<circle cx="642.23" cy="290.38" r="1.9" fill="#000" fill-opacity="0.6"/>
<circle cx="637.1" cy="291.24" r="1.9" fill="#000" fill-opacity="0.6"/>
<circle cx="644.92" cy="287.15" r="1.9" fill="#000" fill-opacity="0.6"/>
<circle cx="636.03" cy="289.26" r="1.9" fill="#000" fill-opacity="0.6"/>
<circle cx="645.35" cy="292.56" r="1.9" fill="#000" fill-opacity="0.6"/>
<circle cx="646.4" cy="292.06" r="1.9" fill="#000" fill-opacity="0.6"/>
<circle cx="643.29" cy="289.33" r="1.9" fill="#000" fill-opacity="0.6"/>
<circle cx="643.65" cy="290.87" r="1.9" fill="#000" fill-opacity="0.6"/>
<circle cx="640.96" cy="289.13" r="1.9" fill="#000" fill-opacity="0.6"/>
<circle cx="641.03" cy="288.65" r="1.9" fill="#000" fill-opacity="0.6"/>
<circle cx="641.31" cy="290.04" r="1.9" fill="#000" fill-opacity="0.6"/>
<circle cx="635.8" cy="288.9" r="1.9" fill="#000" fill-opacity="0.6"/>
<circle cx="641.86" cy="291.32" r="1.9" fill="#000" fill-opacity="0.6"/>
<circle cx="645.43" cy="287.89" r="1.9" fill="#000" fill-opacity="0.6"/>
<circle cx="641.46" cy="291.67" r="1.9" fill="#000" fill-opacity="0.6"/>
<circle cx="641.65" cy="292.13" r="1.9" fill="#000" fill-opacity="0.6"/>
<circle cx="637.17" cy="290.09" r="1.9" fill="#000" fill-opacity="0.6"/>
<circle cx="636.69" cy="290.02" r="1.9" fill="#000" fill-opacity="0.6"/>
<circle cx="642.13" cy="292.54" r="1.9" fill="#000" fill-opacity="0.6"/>
<circle cx="643.77" cy="292.28" r="1.9" fill="#000" fill-opacity="0.6"/>
<circle cx="645.04" cy="287.9" r="1.9" fill="#000" fill-opacity="0.6"/>
<circle cx="642.15" cy="292.46" r="1.9" fill="#000" fill-opacity="0.6"/>
<circle cx="642.05" cy="290.42" r="1.9" fill="#000" fill-opacity="0.6"/>
<circle cx="646.51" cy="285.61" r="1.9" fill="#000" fill-opacity="0.6"/>
<circle cx="645.57" cy="280.03" r="1.9" fill="#000" fill-opacity="0.6"/>
<circle cx="644.32" cy="281.2" r="1.9" fill="#000" fill-opacity="0.6"/>
<circle cx="638.94" cy="280.12" r="1.9" fill="#000" fill-opacity="0.6"/>
<circle cx="641.92" cy="280.28" r="1.9" fill="#000" fill-opacity="0.6"/>
<circle cx="646.16" cy="285.43" r="1.9" fill="#000" fill-opacity="0.6"/>
<circle cx="602.4" cy="60.3" r="1.9" fill="#000" fill-opacity="0.6"/>
<circle cx="600.6" cy="83.8" r="1.9" fill="#000" fill-opacity="0.6"/>
<circle cx="601.3" cy="94.2" r="1.9" fill="#000" fill-opacity="0.6"/>
<circle cx="597.4" cy="113.9" r="1.9" fill="#000" fill-opacity="0.6"/>
<circle cx="602" cy="115" r="1.9" fill="#000" fill-opacity="0.6"/>
<circle cx="623.9" cy="141.1" r="1.9" fill="#000" fill-opacity="0.6"/>
<circle cx="602.4" cy="154" r="1.9" fill="#000" fill-opacity="0.6"/>
<circle cx="602.9" cy="156.9" r="1.9" fill="#000" fill-opacity="0.6"/>
<circle cx="605.8" cy="169.4" r="1.9" fill="#000" fill-opacity="0.6"/>
<circle cx="605.1" cy="177.6" r="1.9" fill="#000" fill-opacity="0.6"/>
<circle cx="602.4" cy="189.6" r="1.9" fill="#000" fill-opacity="0.6"/>
<circle cx="599.7" cy="198" r="1.9" fill="#000" fill-opacity="0.6"/>
<circle cx="604.7" cy="200.5" r="1.9" fill="#000" fill-opacity="0.6"/>
<circle cx="600.6" cy="205" r="1.9" fill="#000" fill-opacity="0.6"/>
<circle cx="602.9" cy="214.5" r="1.9" fill="#000" fill-opacity="0.6"/>
<circle cx="604.7" cy="227.1" r="1.9" fill="#000" fill-opacity="0.6"/>
<circle cx="605.8" cy="231" r="1.9" fill="#000" fill-opacity="0.6"/>
<circle cx="601.4" cy="228.2" r="1.9" fill="#000" fill-opacity="0.6"/>
<circle cx="606.4" cy="247.4" r="1.9" fill="#000" fill-opacity="0.6"/>
<circle cx="600.3" cy="252" r="1.9" fill="#000" fill-opacity="0.6"/>
<circle cx="599" cy="256.1" r="1.9" fill="#000" fill-opacity="0.6"/>
<circle cx="606" cy="254.5" r="1.9" fill="#000" fill-opacity="0.6"/>
<circle cx="602.3" cy="260.5" r="1.9" fill="#000" fill-opacity="0.6"/>
<circle cx="602.3" cy="260.8" r="1.9" fill="#000" fill-opacity="0.6"/>
<circle cx="597.6" cy="264.9" r="1.9" fill="#000" fill-opacity="0.6"/>
<circle cx="600.9" cy="267.3" r="1.9" fill="#000" fill-opacity="0.6"/>
<circle cx="600.9" cy="267" r="1.9" fill="#000" fill-opacity="0.6"/>
<circle cx="604.7" cy="266.5" r="1.9" fill="#000" fill-opacity="0.6"/>
<circle cx="597.6" cy="271.5" r="1.9" fill="#000" fill-opacity="0.6"/>
<circle cx="605.3" cy="273.3" r="1.9" fill="#000" fill-opacity="0.6"/>
<circle cx="599" cy="277" r="1.9" fill="#000" fill-opacity="0.6"/>
<circle cx="603" cy="278" r="1.9" fill="#000" fill-opacity="0.6"/>
<circle cx="606" cy="279.5" r="1.9" fill="#000" fill-opacity="0.6"/>
<circle cx="624.2" cy="226.6" r="1.9" fill="#000" fill-opacity="0.6"/>
<circle cx="625.5" cy="230.4" r="1.9" fill="#000" fill-opacity="0.6"/>
<circle cx="624.4" cy="249.6" r="1.9" fill="#000" fill-opacity="0.6"/>
<circle cx="619.5" cy="262.7" r="1.9" fill="#000" fill-opacity="0.6"/>
<circle cx="625.5" cy="263.6" r="1.9" fill="#000" fill-opacity="0.6"/>
<circle cx="618.4" cy="276.9" r="1.9" fill="#000" fill-opacity="0.6"/>
<circle cx="626.6" cy="278.6" r="1.9" fill="#000" fill-opacity="0.6"/>
<circle cx="621" cy="277.5" r="1.9" fill="#000" fill-opacity="0.6"/>
<circle cx="623" cy="281" r="1.9" fill="#000" fill-opacity="0.6"/>
<circle cx="640.2" cy="165.2" r="1.9" fill="#000" fill-opacity="0.6"/>
<circle cx="643.9" cy="231.8" r="1.9" fill="#000" fill-opacity="0.6"/>
<circle cx="646.9" cy="235" r="1.9" fill="#000" fill-opacity="0.6"/>
<circle cx="646.5" cy="250.9" r="1.9" fill="#000" fill-opacity="0.6"/>
<circle cx="645" cy="254.2" r="1.9" fill="#000" fill-opacity="0.6"/>
<circle cx="638.7" cy="270.9" r="1.9" fill="#000" fill-opacity="0.6"/>
<circle cx="644.7" cy="270.9" r="1.9" fill="#000" fill-opacity="0.6"/>
<circle cx="641.4" cy="272.6" r="1.9" fill="#000" fill-opacity="0.6"/>
<circle cx="645.2" cy="274.2" r="1.9" fill="#000" fill-opacity="0.6"/>
<circle cx="639.2" cy="278" r="1.9" fill="#000" fill-opacity="0.6"/>
<circle cx="639.6" cy="278.3" r="1.9" fill="#000" fill-opacity="0.6"/>
<circle cx="642.5" cy="282.4" r="1.9" fill="#000" fill-opacity="0.6"/>
<circle cx="640" cy="283" r="1.9" fill="#000" fill-opacity="0.6"/>
<text x="602.4" y="100.8" font-size="12" font-weight="bold" stroke="#000" stroke-width="0.25" textLength="67.9" lengthAdjust="spacingAndGlyphs" fill="#000">P = 6.7 x 10</text>
<text x="670.3" y="96.3" font-size="8" font-weight="bold" stroke="#000" stroke-width="0.25" textLength="13.6" lengthAdjust="spacingAndGlyphs" fill="#000">-05</text>
<line x1="598.9" y1="105.5" x2="607.4" y2="105.5" stroke="#7f7f7f" stroke-width="2.3"/>
<line x1="640.9" y1="105.5" x2="649.4" y2="105.5" stroke="#7f7f7f" stroke-width="2.3"/>
<line x1="612.9" y1="105.5" x2="621.4" y2="105.5" stroke="#7f7f7f" stroke-width="2.3"/>
<line x1="626.9" y1="105.5" x2="635.4" y2="105.5" stroke="#7f7f7f" stroke-width="2.3"/>
<polyline points="605.5,101.6 599.1,105.5 605.5,109.4" fill="none" stroke="#7f7f7f" stroke-width="2.3" stroke-linejoin="miter" stroke-miterlimit="8"/>
<polyline points="642.8,101.6 649.2,105.5 642.8,109.4" fill="none" stroke="#7f7f7f" stroke-width="2.3" stroke-linejoin="miter" stroke-miterlimit="8"/>
<text x="602.4" y="126.9" font-size="12" font-weight="bold" stroke="#000" stroke-width="0.25" textLength="54.3" lengthAdjust="spacingAndGlyphs" fill="#000">P = 0.003</text>
<line x1="598.9" y1="132.7" x2="607.4" y2="132.7" stroke="#7f7f7f" stroke-width="2.3"/>
<line x1="614.4" y1="132.7" x2="622.9" y2="132.7" stroke="#7f7f7f" stroke-width="2.3"/>
<polyline points="605.5,128.8 599.1,132.7 605.5,136.6" fill="none" stroke="#7f7f7f" stroke-width="2.3" stroke-linejoin="miter" stroke-miterlimit="8"/>
<polyline points="616.3,128.8 622.7,132.7 616.3,136.6" fill="none" stroke="#7f7f7f" stroke-width="2.3" stroke-linejoin="miter" stroke-miterlimit="8"/>
<line x1="590.5" y1="330.9" x2="590.5" y2="388.5" stroke="#7a7a7a" stroke-width="1"/>
<line x1="590.5" y1="395.1" x2="590.5" y2="550.2" stroke="#7a7a7a" stroke-width="1"/>
<line x1="586" y1="330.9" x2="590.5" y2="330.9" stroke="#7a7a7a" stroke-width="1"/>
<text x="581.6" y="334.31" font-size="9.6" text-anchor="end" textLength="10.25" lengthAdjust="spacingAndGlyphs" fill="#222">50</text>
<line x1="586" y1="362.3" x2="590.5" y2="362.3" stroke="#7a7a7a" stroke-width="1"/>
<text x="581.6" y="365.71" font-size="9.6" text-anchor="end" textLength="10.25" lengthAdjust="spacingAndGlyphs" fill="#222">40</text>
<line x1="586" y1="395.1" x2="590.5" y2="395.1" stroke="#7a7a7a" stroke-width="1"/>
<text x="581.6" y="398.51" font-size="9.6" text-anchor="end" textLength="10.25" lengthAdjust="spacingAndGlyphs" fill="#222">30</text>
<line x1="586" y1="420.95" x2="590.5" y2="420.95" stroke="#7a7a7a" stroke-width="1"/>
<text x="581.6" y="424.36" font-size="9.6" text-anchor="end" textLength="10.25" lengthAdjust="spacingAndGlyphs" fill="#222">25</text>
<line x1="586" y1="446.8" x2="590.5" y2="446.8" stroke="#7a7a7a" stroke-width="1"/>
<text x="581.6" y="450.21" font-size="9.6" text-anchor="end" textLength="10.25" lengthAdjust="spacingAndGlyphs" fill="#222">20</text>
<line x1="586" y1="472.65" x2="590.5" y2="472.65" stroke="#7a7a7a" stroke-width="1"/>
<text x="581.6" y="476.06" font-size="9.6" text-anchor="end" textLength="10.25" lengthAdjust="spacingAndGlyphs" fill="#222">15</text>
<line x1="586" y1="498.5" x2="590.5" y2="498.5" stroke="#7a7a7a" stroke-width="1"/>
<text x="581.6" y="501.91" font-size="9.6" text-anchor="end" textLength="10.25" lengthAdjust="spacingAndGlyphs" fill="#222">10</text>
<line x1="586" y1="524.35" x2="590.5" y2="524.35" stroke="#7a7a7a" stroke-width="1"/>
<text x="581.6" y="527.76" font-size="9.6" text-anchor="end" textLength="5.12" lengthAdjust="spacingAndGlyphs" fill="#222">5</text>
<line x1="586" y1="550.2" x2="590.5" y2="550.2" stroke="#7a7a7a" stroke-width="1"/>
<text x="581.6" y="553.61" font-size="9.6" text-anchor="end" textLength="5.12" lengthAdjust="spacingAndGlyphs" fill="#222">0</text>
<line x1="585.5" y1="388.9" x2="596" y2="393.9" stroke="#7a7a7a" stroke-width="0.9"/>
<line x1="585.5" y1="391.9" x2="596" y2="396.7" stroke="#7a7a7a" stroke-width="0.9"/>
<text transform="translate(559.2,433) rotate(-90)" x="0" y="0" font-size="14.6" font-weight="bold" stroke="#000" stroke-width="0.25" text-anchor="middle" textLength="194.7" lengthAdjust="spacingAndGlyphs" fill="#000">Bacillota/ Bacteroidota ratio</text>
<line x1="604.2" y1="556.5" x2="646.5" y2="556.5" stroke="#7a7a7a" stroke-width="1"/>
<line x1="604.2" y1="556.5" x2="604.2" y2="561" stroke="#7a7a7a" stroke-width="1"/>
<line x1="625.5" y1="556.5" x2="625.5" y2="561" stroke="#7a7a7a" stroke-width="1"/>
<line x1="646.5" y1="556.5" x2="646.5" y2="561" stroke="#7a7a7a" stroke-width="1"/>
<text x="597.2" y="575.8" font-size="14.4" font-weight="bold" stroke="#000" stroke-width="0.25" text-anchor="middle" fill="#000">S1</text>
<text x="624.2" y="575.8" font-size="14.4" font-weight="bold" stroke="#000" stroke-width="0.25" text-anchor="middle" fill="#000">S2</text>
<text x="650.3" y="575.8" font-size="14.4" font-weight="bold" stroke="#000" stroke-width="0.25" text-anchor="middle" fill="#000">S3</text>
<line x1="604.1" y1="476.2" x2="604.1" y2="509.7" stroke="#333" stroke-width="0.9" stroke-dasharray="1.2,1.6"/>
<line x1="599.85" y1="476.2" x2="608.35" y2="476.2" stroke="#333" stroke-width="0.9"/>
<rect x="595.6" y="509.7" width="17" height="34.4" fill="#6e6e6e" stroke="#333" stroke-width="0.9"/>
<line x1="595.6" y1="536.9" x2="612.6" y2="536.9" stroke="#000" stroke-width="2"/>
<line x1="625.15" y1="515.4" x2="625.15" y2="533.2" stroke="#333" stroke-width="0.9" stroke-dasharray="1.2,1.6"/>
<line x1="620.93" y1="515.4" x2="629.38" y2="515.4" stroke="#333" stroke-width="0.9"/>
<rect x="616.7" y="533.2" width="16.9" height="13.6" fill="#c8c8c8" stroke="#333" stroke-width="0.9"/>
<line x1="616.7" y1="542.3" x2="633.6" y2="542.3" stroke="#000" stroke-width="2"/>
<line x1="646.9" y1="507.9" x2="646.9" y2="530.1" stroke="#333" stroke-width="0.9" stroke-dasharray="1.2,1.6"/>
<line x1="642.55" y1="507.9" x2="651.25" y2="507.9" stroke="#333" stroke-width="0.9"/>
<rect x="638.2" y="530.1" width="17.4" height="16.3" fill="#8c8c8c" stroke="#333" stroke-width="0.9"/>
<line x1="638.2" y1="541.4" x2="655.6" y2="541.4" stroke="#000" stroke-width="2"/>
<circle cx="608.04" cy="542.46" r="1.9" fill="#000" fill-opacity="0.6"/>
<circle cx="597.92" cy="546.28" r="1.9" fill="#000" fill-opacity="0.6"/>
<circle cx="607.59" cy="547.55" r="1.9" fill="#000" fill-opacity="0.6"/>
<circle cx="609.55" cy="546.79" r="1.9" fill="#000" fill-opacity="0.6"/>
<circle cx="608.42" cy="547.65" r="1.9" fill="#000" fill-opacity="0.6"/>
<circle cx="604.03" cy="542.53" r="1.9" fill="#000" fill-opacity="0.6"/>
<circle cx="599.92" cy="546.87" r="1.9" fill="#000" fill-opacity="0.6"/>
<circle cx="604.08" cy="546.49" r="1.9" fill="#000" fill-opacity="0.6"/>
<circle cx="597.52" cy="547.4" r="1.9" fill="#000" fill-opacity="0.6"/>
<circle cx="599.26" cy="542.42" r="1.9" fill="#000" fill-opacity="0.6"/>
<circle cx="606.52" cy="542.69" r="1.9" fill="#000" fill-opacity="0.6"/>
<circle cx="599.36" cy="543.42" r="1.9" fill="#000" fill-opacity="0.6"/>
<circle cx="598.61" cy="545.1" r="1.9" fill="#000" fill-opacity="0.6"/>
<circle cx="605.91" cy="546.23" r="1.9" fill="#000" fill-opacity="0.6"/>
<circle cx="609.22" cy="544.94" r="1.9" fill="#000" fill-opacity="0.6"/>
<circle cx="605.12" cy="542.78" r="1.9" fill="#000" fill-opacity="0.6"/>
<circle cx="598.46" cy="542.05" r="1.9" fill="#000" fill-opacity="0.6"/>
<circle cx="605.82" cy="546" r="1.9" fill="#000" fill-opacity="0.6"/>
<circle cx="608.17" cy="546.85" r="1.9" fill="#000" fill-opacity="0.6"/>
<circle cx="610.87" cy="544.79" r="1.9" fill="#000" fill-opacity="0.6"/>
<circle cx="602.04" cy="543.55" r="1.9" fill="#000" fill-opacity="0.6"/>
<circle cx="603.19" cy="547.43" r="1.9" fill="#000" fill-opacity="0.6"/>
<circle cx="607.41" cy="548.28" r="1.9" fill="#000" fill-opacity="0.6"/>
<circle cx="608.48" cy="546.93" r="1.9" fill="#000" fill-opacity="0.6"/>
<circle cx="605.95" cy="542.11" r="1.9" fill="#000" fill-opacity="0.6"/>
<circle cx="605.2" cy="544.22" r="1.9" fill="#000" fill-opacity="0.6"/>
<circle cx="601.38" cy="548.59" r="1.9" fill="#000" fill-opacity="0.6"/>
<circle cx="597.47" cy="547.61" r="1.9" fill="#000" fill-opacity="0.6"/>
<circle cx="605.62" cy="545.75" r="1.9" fill="#000" fill-opacity="0.6"/>
<circle cx="604.18" cy="542.69" r="1.9" fill="#000" fill-opacity="0.6"/>
<circle cx="598.85" cy="547.1" r="1.9" fill="#000" fill-opacity="0.6"/>
<circle cx="606.14" cy="548.45" r="1.9" fill="#000" fill-opacity="0.6"/>
<circle cx="597.04" cy="546.26" r="1.9" fill="#000" fill-opacity="0.6"/>
<circle cx="598.49" cy="546.24" r="1.9" fill="#000" fill-opacity="0.6"/>
<circle cx="600.14" cy="544.75" r="1.9" fill="#000" fill-opacity="0.6"/>
<circle cx="605.25" cy="547.25" r="1.9" fill="#000" fill-opacity="0.6"/>
<circle cx="605.74" cy="545.47" r="1.9" fill="#000" fill-opacity="0.6"/>
<circle cx="598.89" cy="542.42" r="1.9" fill="#000" fill-opacity="0.6"/>
<circle cx="600.41" cy="547.61" r="1.9" fill="#000" fill-opacity="0.6"/>
<circle cx="598.34" cy="544.39" r="1.9" fill="#000" fill-opacity="0.6"/>
<circle cx="608.83" cy="531.05" r="1.9" fill="#000" fill-opacity="0.6"/>
<circle cx="602.73" cy="538.3" r="1.9" fill="#000" fill-opacity="0.6"/>
<circle cx="597.65" cy="532.97" r="1.9" fill="#000" fill-opacity="0.6"/>
<circle cx="604.81" cy="537.1" r="1.9" fill="#000" fill-opacity="0.6"/>
<circle cx="605.89" cy="535.79" r="1.9" fill="#000" fill-opacity="0.6"/>
<circle cx="609.68" cy="531.73" r="1.9" fill="#000" fill-opacity="0.6"/>
<circle cx="600.73" cy="529.35" r="1.9" fill="#000" fill-opacity="0.6"/>
<circle cx="598.07" cy="534.56" r="1.9" fill="#000" fill-opacity="0.6"/>
<circle cx="602.78" cy="538.67" r="1.9" fill="#000" fill-opacity="0.6"/>
<circle cx="598.26" cy="531.1" r="1.9" fill="#000" fill-opacity="0.6"/>
<circle cx="597.66" cy="534.29" r="1.9" fill="#000" fill-opacity="0.6"/>
<circle cx="609.73" cy="540.01" r="1.9" fill="#000" fill-opacity="0.6"/>
<circle cx="600.09" cy="533.49" r="1.9" fill="#000" fill-opacity="0.6"/>
<circle cx="604.09" cy="533.02" r="1.9" fill="#000" fill-opacity="0.6"/>
<circle cx="607.76" cy="524.51" r="1.9" fill="#000" fill-opacity="0.6"/>
<circle cx="601.71" cy="521.99" r="1.9" fill="#000" fill-opacity="0.6"/>
<circle cx="598.58" cy="510.21" r="1.9" fill="#000" fill-opacity="0.6"/>
<circle cx="607.4" cy="513.69" r="1.9" fill="#000" fill-opacity="0.6"/>
<circle cx="598.08" cy="511.11" r="1.9" fill="#000" fill-opacity="0.6"/>
<circle cx="606.94" cy="518.69" r="1.9" fill="#000" fill-opacity="0.6"/>
<circle cx="606.9" cy="518.95" r="1.9" fill="#000" fill-opacity="0.6"/>
<circle cx="600.71" cy="525.89" r="1.9" fill="#000" fill-opacity="0.6"/>
<circle cx="600.79" cy="527.22" r="1.9" fill="#000" fill-opacity="0.6"/>
<circle cx="602.03" cy="513.01" r="1.9" fill="#000" fill-opacity="0.6"/>
<circle cx="627.93" cy="539.22" r="1.9" fill="#000" fill-opacity="0.6"/>
<circle cx="628.16" cy="545.65" r="1.9" fill="#000" fill-opacity="0.6"/>
<circle cx="625.95" cy="543.76" r="1.9" fill="#000" fill-opacity="0.6"/>
<circle cx="629.24" cy="542.79" r="1.9" fill="#000" fill-opacity="0.6"/>
<circle cx="621.91" cy="541.47" r="1.9" fill="#000" fill-opacity="0.6"/>
<circle cx="631.71" cy="546.19" r="1.9" fill="#000" fill-opacity="0.6"/>
<circle cx="630.52" cy="548.43" r="1.9" fill="#000" fill-opacity="0.6"/>
<circle cx="621.85" cy="545.98" r="1.9" fill="#000" fill-opacity="0.6"/>
<circle cx="628.61" cy="538.11" r="1.9" fill="#000" fill-opacity="0.6"/>
<circle cx="628.65" cy="544.97" r="1.9" fill="#000" fill-opacity="0.6"/>
<circle cx="630.52" cy="544.95" r="1.9" fill="#000" fill-opacity="0.6"/>
<circle cx="621.55" cy="538.53" r="1.9" fill="#000" fill-opacity="0.6"/>
<circle cx="627.03" cy="540.91" r="1.9" fill="#000" fill-opacity="0.6"/>
<circle cx="627.51" cy="537.73" r="1.9" fill="#000" fill-opacity="0.6"/>
<circle cx="624.77" cy="539.28" r="1.9" fill="#000" fill-opacity="0.6"/>
<circle cx="627.97" cy="539.08" r="1.9" fill="#000" fill-opacity="0.6"/>
<circle cx="624.32" cy="540.56" r="1.9" fill="#000" fill-opacity="0.6"/>
<circle cx="626.18" cy="545.18" r="1.9" fill="#000" fill-opacity="0.6"/>
<circle cx="621.17" cy="541.69" r="1.9" fill="#000" fill-opacity="0.6"/>
<circle cx="619.29" cy="538.49" r="1.9" fill="#000" fill-opacity="0.6"/>
<circle cx="620.22" cy="548.3" r="1.9" fill="#000" fill-opacity="0.6"/>
<circle cx="619.69" cy="538.29" r="1.9" fill="#000" fill-opacity="0.6"/>
<circle cx="623.03" cy="547.03" r="1.9" fill="#000" fill-opacity="0.6"/>
<circle cx="618.6" cy="548.14" r="1.9" fill="#000" fill-opacity="0.6"/>
<circle cx="627.9" cy="541.56" r="1.9" fill="#000" fill-opacity="0.6"/>
<circle cx="627.96" cy="540.42" r="1.9" fill="#000" fill-opacity="0.6"/>
<circle cx="619.12" cy="542.05" r="1.9" fill="#000" fill-opacity="0.6"/>
<circle cx="623.29" cy="539.53" r="1.9" fill="#000" fill-opacity="0.6"/>
<circle cx="629.67" cy="538.71" r="1.9" fill="#000" fill-opacity="0.6"/>
<circle cx="619.12" cy="538.97" r="1.9" fill="#000" fill-opacity="0.6"/>
<circle cx="631" cy="538.12" r="1.9" fill="#000" fill-opacity="0.6"/>
<circle cx="619.7" cy="546.32" r="1.9" fill="#000" fill-opacity="0.6"/>
<circle cx="619.77" cy="548.22" r="1.9" fill="#000" fill-opacity="0.6"/>
<circle cx="630.07" cy="539.59" r="1.9" fill="#000" fill-opacity="0.6"/>
<circle cx="627.08" cy="539.44" r="1.9" fill="#000" fill-opacity="0.6"/>
<circle cx="627.04" cy="545.41" r="1.9" fill="#000" fill-opacity="0.6"/>
<circle cx="619.6" cy="547.51" r="1.9" fill="#000" fill-opacity="0.6"/>
<circle cx="628.8" cy="546.32" r="1.9" fill="#000" fill-opacity="0.6"/>
<circle cx="622.67" cy="543.9" r="1.9" fill="#000" fill-opacity="0.6"/>
<circle cx="618.49" cy="545.75" r="1.9" fill="#000" fill-opacity="0.6"/>
<circle cx="622.16" cy="540.66" r="1.9" fill="#000" fill-opacity="0.6"/>
<circle cx="623.35" cy="545.04" r="1.9" fill="#000" fill-opacity="0.6"/>
<circle cx="631.7" cy="543.01" r="1.9" fill="#000" fill-opacity="0.6"/>
<circle cx="630.12" cy="541.74" r="1.9" fill="#000" fill-opacity="0.6"/>
<circle cx="618.63" cy="544.02" r="1.9" fill="#000" fill-opacity="0.6"/>
<circle cx="624.31" cy="540.02" r="1.9" fill="#000" fill-opacity="0.6"/>
<circle cx="623.05" cy="540.78" r="1.9" fill="#000" fill-opacity="0.6"/>
<circle cx="625.73" cy="546.2" r="1.9" fill="#000" fill-opacity="0.6"/>
<circle cx="651.87" cy="547.41" r="1.9" fill="#000" fill-opacity="0.6"/>
<circle cx="651.28" cy="546.54" r="1.9" fill="#000" fill-opacity="0.6"/>
<circle cx="639.82" cy="546.2" r="1.9" fill="#000" fill-opacity="0.6"/>
<circle cx="650.47" cy="537.74" r="1.9" fill="#000" fill-opacity="0.6"/>
<circle cx="639.86" cy="543.05" r="1.9" fill="#000" fill-opacity="0.6"/>
<circle cx="646.68" cy="539.72" r="1.9" fill="#000" fill-opacity="0.6"/>
<circle cx="642.38" cy="543.01" r="1.9" fill="#000" fill-opacity="0.6"/>
<circle cx="644.66" cy="539.33" r="1.9" fill="#000" fill-opacity="0.6"/>
<circle cx="643.45" cy="538.11" r="1.9" fill="#000" fill-opacity="0.6"/>
<circle cx="643.77" cy="546.06" r="1.9" fill="#000" fill-opacity="0.6"/>
<circle cx="649.59" cy="542.97" r="1.9" fill="#000" fill-opacity="0.6"/>
<circle cx="641.34" cy="541.46" r="1.9" fill="#000" fill-opacity="0.6"/>
<circle cx="640.93" cy="539.81" r="1.9" fill="#000" fill-opacity="0.6"/>
<circle cx="649.56" cy="539.82" r="1.9" fill="#000" fill-opacity="0.6"/>
<circle cx="648.59" cy="544.52" r="1.9" fill="#000" fill-opacity="0.6"/>
<circle cx="645.42" cy="544.1" r="1.9" fill="#000" fill-opacity="0.6"/>
<circle cx="652.27" cy="547.46" r="1.9" fill="#000" fill-opacity="0.6"/>
<circle cx="652.24" cy="548.13" r="1.9" fill="#000" fill-opacity="0.6"/>
<circle cx="642.69" cy="545.53" r="1.9" fill="#000" fill-opacity="0.6"/>
<circle cx="652.42" cy="542.94" r="1.9" fill="#000" fill-opacity="0.6"/>
<circle cx="645.11" cy="538.76" r="1.9" fill="#000" fill-opacity="0.6"/>
<circle cx="643.07" cy="543.38" r="1.9" fill="#000" fill-opacity="0.6"/>
<circle cx="647.24" cy="540.18" r="1.9" fill="#000" fill-opacity="0.6"/>
<circle cx="650.34" cy="541.36" r="1.9" fill="#000" fill-opacity="0.6"/>
<circle cx="644.68" cy="544.84" r="1.9" fill="#000" fill-opacity="0.6"/>
<circle cx="641.97" cy="539.21" r="1.9" fill="#000" fill-opacity="0.6"/>
<circle cx="649.07" cy="540.31" r="1.9" fill="#000" fill-opacity="0.6"/>
<circle cx="642.17" cy="543.62" r="1.9" fill="#000" fill-opacity="0.6"/>
<circle cx="650.63" cy="542.09" r="1.9" fill="#000" fill-opacity="0.6"/>
<circle cx="641.56" cy="543.36" r="1.9" fill="#000" fill-opacity="0.6"/>
<circle cx="652.19" cy="545.81" r="1.9" fill="#000" fill-opacity="0.6"/>
<circle cx="642.48" cy="545.11" r="1.9" fill="#000" fill-opacity="0.6"/>
<circle cx="649.64" cy="539.2" r="1.9" fill="#000" fill-opacity="0.6"/>
<circle cx="641.96" cy="546.7" r="1.9" fill="#000" fill-opacity="0.6"/>
<circle cx="643.27" cy="544.84" r="1.9" fill="#000" fill-opacity="0.6"/>
<circle cx="647.11" cy="546.65" r="1.9" fill="#000" fill-opacity="0.6"/>
<circle cx="644.39" cy="546.34" r="1.9" fill="#000" fill-opacity="0.6"/>
<circle cx="653.45" cy="540.46" r="1.9" fill="#000" fill-opacity="0.6"/>
<circle cx="641.23" cy="537.91" r="1.9" fill="#000" fill-opacity="0.6"/>
<circle cx="641.22" cy="544.21" r="1.9" fill="#000" fill-opacity="0.6"/>
<circle cx="653.57" cy="539.74" r="1.9" fill="#000" fill-opacity="0.6"/>
<circle cx="650.07" cy="543.66" r="1.9" fill="#000" fill-opacity="0.6"/>
<circle cx="642.55" cy="541.45" r="1.9" fill="#000" fill-opacity="0.6"/>
<circle cx="641.3" cy="546.15" r="1.9" fill="#000" fill-opacity="0.6"/>
<circle cx="645.24" cy="548.03" r="1.9" fill="#000" fill-opacity="0.6"/>
<circle cx="645.39" cy="539.78" r="1.9" fill="#000" fill-opacity="0.6"/>
<circle cx="649.51" cy="542.94" r="1.9" fill="#000" fill-opacity="0.6"/>
<circle cx="648.65" cy="543.35" r="1.9" fill="#000" fill-opacity="0.6"/>
<circle cx="601.3" cy="350.5" r="1.9" fill="#000" fill-opacity="0.6"/>
<circle cx="606.5" cy="348.7" r="1.9" fill="#000" fill-opacity="0.6"/>
<circle cx="626.2" cy="344.2" r="1.9" fill="#000" fill-opacity="0.6"/>
<circle cx="601.3" cy="393.1" r="1.9" fill="#000" fill-opacity="0.6"/>
<circle cx="605.1" cy="397" r="1.9" fill="#000" fill-opacity="0.6"/>
<circle cx="602.4" cy="400.3" r="1.9" fill="#000" fill-opacity="0.6"/>
<circle cx="605.8" cy="418.4" r="1.9" fill="#000" fill-opacity="0.6"/>
<circle cx="609.2" cy="440.4" r="1.9" fill="#000" fill-opacity="0.6"/>
<circle cx="600.6" cy="455.3" r="1.9" fill="#000" fill-opacity="0.6"/>
<circle cx="607.4" cy="452.8" r="1.9" fill="#000" fill-opacity="0.6"/>
<circle cx="626.2" cy="452.4" r="1.9" fill="#000" fill-opacity="0.6"/>
<circle cx="651.1" cy="432" r="1.9" fill="#000" fill-opacity="0.6"/>
<circle cx="649.3" cy="460.3" r="1.9" fill="#000" fill-opacity="0.6"/>
<circle cx="599.7" cy="486.4" r="1.9" fill="#000" fill-opacity="0.6"/>
<circle cx="604.7" cy="488.7" r="1.9" fill="#000" fill-opacity="0.6"/>
<circle cx="607.4" cy="489.3" r="1.9" fill="#000" fill-opacity="0.6"/>
<circle cx="604" cy="492.5" r="1.9" fill="#000" fill-opacity="0.6"/>
<circle cx="651.1" cy="485.3" r="1.9" fill="#000" fill-opacity="0.6"/>
<circle cx="642.7" cy="487.1" r="1.9" fill="#000" fill-opacity="0.6"/>
<circle cx="644.3" cy="494.3" r="1.9" fill="#000" fill-opacity="0.6"/>
<circle cx="649.3" cy="499.3" r="1.9" fill="#000" fill-opacity="0.6"/>
<circle cx="620.5" cy="501.6" r="1.9" fill="#000" fill-opacity="0.6"/>
<circle cx="625.5" cy="500" r="1.9" fill="#000" fill-opacity="0.6"/>
<circle cx="603" cy="476" r="1.9" fill="#000" fill-opacity="0.6"/>
<circle cx="606" cy="478" r="1.9" fill="#000" fill-opacity="0.6"/>
<circle cx="610" cy="506" r="1.9" fill="#000" fill-opacity="0.6"/>
<circle cx="608" cy="503" r="1.9" fill="#000" fill-opacity="0.6"/>
<circle cx="600" cy="510" r="1.9" fill="#000" fill-opacity="0.6"/>
<circle cx="623" cy="510" r="1.9" fill="#000" fill-opacity="0.6"/>
<circle cx="627" cy="512" r="1.9" fill="#000" fill-opacity="0.6"/>
<circle cx="630" cy="515" r="1.9" fill="#000" fill-opacity="0.6"/>
<circle cx="621" cy="520" r="1.9" fill="#000" fill-opacity="0.6"/>
<circle cx="645" cy="505" r="1.9" fill="#000" fill-opacity="0.6"/>
<circle cx="648" cy="512" r="1.9" fill="#000" fill-opacity="0.6"/>
<circle cx="642" cy="518" r="1.9" fill="#000" fill-opacity="0.6"/>
<circle cx="650" cy="522" r="1.9" fill="#000" fill-opacity="0.6"/>
<text x="611" y="391.2" font-size="12" font-weight="bold" stroke="#000" stroke-width="0.25" textLength="54.8" lengthAdjust="spacingAndGlyphs" fill="#000">P = 0.035</text>
<line x1="603" y1="403.3" x2="611.5" y2="403.3" stroke="#7f7f7f" stroke-width="2.3"/>
<line x1="620.5" y1="403.3" x2="629" y2="403.3" stroke="#7f7f7f" stroke-width="2.3"/>
<polyline points="609.6,399.4 603.2,403.3 609.6,407.2" fill="none" stroke="#7f7f7f" stroke-width="2.3" stroke-linejoin="miter" stroke-miterlimit="8"/>
<polyline points="622.4,399.4 628.8,403.3 622.4,407.2" fill="none" stroke="#7f7f7f" stroke-width="2.3" stroke-linejoin="miter" stroke-miterlimit="8"/>
<line x1="275.3" y1="120.5" x2="275.3" y2="500" stroke="#707070" stroke-width="1.5" stroke-dasharray="5.5,4"/>
<line x1="332.7" y1="103.2" x2="332.7" y2="500" stroke="#707070" stroke-width="1.5" stroke-dasharray="5.5,4"/>
<line x1="397.7" y1="99.8" x2="397.7" y2="500" stroke="#707070" stroke-width="1.5" stroke-dasharray="5.5,4"/>
<line x1="456.6" y1="102.9" x2="456.6" y2="500" stroke="#707070" stroke-width="1.5" stroke-dasharray="5.5,4"/>
<line x1="508.2" y1="101.6" x2="508.2" y2="500" stroke="#707070" stroke-width="1.5" stroke-dasharray="5.5,4"/>
<circle cx="446.6" cy="226.6" r="4.2" fill="#46A694"/>
<circle cx="394.3" cy="201.1" r="4.2" fill="#F96A20"/>
<circle cx="350.5" cy="200.2" r="4.2" fill="#A428FC"/>
<circle cx="297.5" cy="224.8" r="4.2" fill="#46A694"/>
<circle cx="414.6" cy="178.6" r="4.2" fill="#F96A20"/>
<circle cx="341.3" cy="169.7" r="4.2" fill="#46A694"/>
<circle cx="332.8" cy="211.1" r="4.2" fill="#F96A20"/>
<circle cx="484" cy="118" r="4.2" fill="#A428FC"/>
<circle cx="484.5" cy="211.1" r="4.2" fill="#F96A20"/>
<circle cx="345" cy="223.9" r="4.2" fill="#46A694"/>
<circle cx="309.4" cy="212" r="4.2" fill="#46A694"/>
<circle cx="455.3" cy="157.7" r="4.2" fill="#F96A20"/>
<circle cx="306.7" cy="199.6" r="4.2" fill="#A428FC"/>
<circle cx="285.7" cy="224.8" r="4.2" fill="#F96A20"/>
<circle cx="355.9" cy="193.2" r="4.2" fill="#F96A20"/>
<circle cx="294.8" cy="213" r="4.2" fill="#46A694"/>
<circle cx="294.8" cy="233.9" r="4.2" fill="#F96A20"/>
<circle cx="308.5" cy="206.6" r="4.2" fill="#A428FC"/>
<circle cx="496.2" cy="232.5" r="4.2" fill="#46A694"/>
<circle cx="393.9" cy="193.8" r="4.2" fill="#46A694"/>
<circle cx="312.5" cy="235.4" r="4.2" fill="#46A694"/>
<circle cx="411.5" cy="195.3" r="4.2" fill="#F96A20"/>
<circle cx="338.6" cy="216.6" r="4.2" fill="#F96A20"/>
<circle cx="408.2" cy="202" r="4.2" fill="#A428FC"/>
<circle cx="335.5" cy="189.2" r="4.2" fill="#46A694"/>
<circle cx="298.5" cy="213" r="4.2" fill="#F96A20"/>
<circle cx="463.9" cy="222.6" r="4.2" fill="#46A694"/>
<circle cx="385.1" cy="229.4" r="4.2" fill="#46A694"/>
<circle cx="367.8" cy="181.4" r="4.2" fill="#A428FC"/>
<circle cx="365.1" cy="236.7" r="4.2" fill="#46A694"/>
<circle cx="414.3" cy="203.3" r="4.2" fill="#46A694"/>
<circle cx="458.1" cy="123.5" r="4.2" fill="#A428FC"/>
<circle cx="358.9" cy="207.5" r="4.2" fill="#F96A20"/>
<circle cx="463.9" cy="196" r="4.2" fill="#F96A20"/>
<circle cx="341.3" cy="237.2" r="4.2" fill="#F96A20"/>
<circle cx="280.2" cy="239.1" r="4.2" fill="#46A694"/>
<circle cx="437.8" cy="194.7" r="4.2" fill="#A428FC"/>
<circle cx="382" cy="150.9" r="4.2" fill="#A428FC"/>
<circle cx="434.7" cy="241.2" r="4.2" fill="#F96A20"/>
<circle cx="446.6" cy="223" r="4.2" fill="#A428FC"/>
<circle cx="376.9" cy="232.1" r="4.2" fill="#46A694"/>
<circle cx="283.3" cy="206.9" r="4.2" fill="#46A694"/>
<circle cx="455.3" cy="171.9" r="4.2" fill="#46A694"/>
<circle cx="429.2" cy="194.2" r="4.2" fill="#46A694"/>
<circle cx="426" cy="176.5" r="4.2" fill="#A428FC"/>
<circle cx="455.3" cy="148.5" r="4.2" fill="#A428FC"/>
<circle cx="499.1" cy="185.6" r="4.2" fill="#46A694"/>
<circle cx="306.7" cy="208.4" r="4.2" fill="#46A694"/>
<circle cx="303" cy="240.9" r="4.2" fill="#A428FC"/>
<circle cx="283" cy="223.9" r="4.2" fill="#A428FC"/>
<circle cx="362" cy="219.9" r="4.2" fill="#46A694"/>
<circle cx="490" cy="133.9" r="4.2" fill="#F96A20"/>
<circle cx="347.4" cy="240.3" r="4.2" fill="#A428FC"/>
<circle cx="324.9" cy="226.6" r="4.2" fill="#A428FC"/>
<circle cx="432" cy="123.5" r="4.2" fill="#A428FC"/>
<circle cx="396.1" cy="220.3" r="4.2" fill="#46A694"/>
<circle cx="338.6" cy="230.3" r="4.2" fill="#46A694"/>
<circle cx="286.2" cy="179.7" r="4.2" fill="#A428FC"/>
<circle cx="335.5" cy="142.1" r="4.2" fill="#A428FC"/>
<circle cx="359" cy="197.8" r="4.2" fill="#A428FC"/>
<circle cx="315.8" cy="238.5" r="4.2" fill="#46A694"/>
<circle cx="377.8" cy="218.4" r="4.2" fill="#F96A20"/>
<circle cx="479.4" cy="217.9" r="4.2" fill="#46A694"/>
<circle cx="461.2" cy="234.9" r="4.2" fill="#F96A20"/>
<circle cx="472.7" cy="237.6" r="4.2" fill="#46A694"/>
<circle cx="466.6" cy="157.7" r="4.2" fill="#A428FC"/>
<circle cx="279.3" cy="210.2" r="4.2" fill="#A428FC"/>
<circle cx="382" cy="204.7" r="4.2" fill="#F96A20"/>
<circle cx="310.3" cy="230.3" r="4.2" fill="#F96A20"/>
<circle cx="408.6" cy="211.1" r="4.2" fill="#F96A20"/>
<circle cx="443.5" cy="170.1" r="4.2" fill="#A428FC"/>
<circle cx="387.9" cy="223" r="4.2" fill="#46A694"/>
<circle cx="286.2" cy="218.4" r="4.2" fill="#46A694"/>
<circle cx="487.6" cy="188" r="4.2" fill="#46A694"/>
<circle cx="329.5" cy="219.3" r="4.2" fill="#A428FC"/>
<circle cx="335.5" cy="131.5" r="4.2" fill="#F96A20"/>
<circle cx="345" cy="220.8" r="4.2" fill="#F96A20"/>
<circle cx="414.3" cy="145.2" r="4.2" fill="#A428FC"/>
<circle cx="355" cy="213.9" r="4.2" fill="#A428FC"/>
<circle cx="332.8" cy="198.7" r="4.2" fill="#A428FC"/>
<circle cx="311.2" cy="223" r="4.2" fill="#A428FC"/>
<circle cx="326.7" cy="242.7" r="4.2" fill="#A428FC"/>
<circle cx="391.2" cy="208" r="4.2" fill="#46A694"/>
<circle cx="469.7" cy="139.7" r="4.2" fill="#A428FC"/>
<circle cx="324" cy="194.7" r="4.2" fill="#46A694"/>
<circle cx="475.8" cy="201.1" r="4.2" fill="#F96A20"/>
<circle cx="280.2" cy="212" r="4.2" fill="#F96A20"/>
<circle cx="443.5" cy="194.2" r="4.2" fill="#46A694"/>
<circle cx="463.9" cy="173.4" r="4.2" fill="#A428FC"/>
<circle cx="391.5" cy="224.8" r="4.2" fill="#A428FC"/>
<circle cx="298.5" cy="202" r="4.2" fill="#A428FC"/>
<circle cx="453" cy="151.8" r="4.2" fill="#A428FC"/>
<circle cx="303.9" cy="221.5" r="4.2" fill="#F96A20"/>
<circle cx="457.9" cy="217.9" r="4.2" fill="#46A694"/>
<circle cx="437.8" cy="152.7" r="4.2" fill="#F96A20"/>
<circle cx="359.2" cy="212" r="4.2" fill="#46A694"/>
<circle cx="484.5" cy="196.5" r="4.2" fill="#46A694"/>
<circle cx="420.1" cy="212" r="4.2" fill="#F96A20"/>
<circle cx="487.6" cy="114.7" r="4.2" fill="#A428FC"/>
<circle cx="379.3" cy="214.2" r="4.2" fill="#46A694"/>
<circle cx="437.8" cy="239.4" r="4.2" fill="#46A694"/>
<circle cx="303.9" cy="228.8" r="4.2" fill="#46A694"/>
<circle cx="357.4" cy="216.6" r="4.2" fill="#46A694"/>
<circle cx="434.7" cy="234.9" r="4.2" fill="#A428FC"/>
<circle cx="495.5" cy="158.8" r="4.2" fill="#A428FC"/>
<circle cx="422.8" cy="150" r="4.2" fill="#A428FC"/>
<circle cx="341.3" cy="182.8" r="4.2" fill="#A428FC"/>
<circle cx="330" cy="223" r="4.2" fill="#46A694"/>
<circle cx="428.9" cy="206.9" r="4.2" fill="#A428FC"/>
<circle cx="320.4" cy="229.4" r="4.2" fill="#F96A20"/>
<circle cx="428.9" cy="197.4" r="4.2" fill="#F96A20"/>
<circle cx="314.9" cy="216.6" r="4.2" fill="#A428FC"/>
<circle cx="419.2" cy="208.4" r="4.2" fill="#F96A20"/>
<circle cx="490" cy="229.9" r="4.2" fill="#46A694"/>
<circle cx="474.9" cy="217.5" r="4.2" fill="#A428FC"/>
<circle cx="353.2" cy="220.3" r="4.2" fill="#A428FC"/>
<circle cx="423.2" cy="158.8" r="4.2" fill="#F96A20"/>
<circle cx="387.9" cy="211.1" r="4.2" fill="#A428FC"/>
<circle cx="408.2" cy="226.3" r="4.2" fill="#46A694"/>
<circle cx="399.5" cy="202" r="4.2" fill="#F96A20"/>
<circle cx="333.1" cy="232.5" r="4.2" fill="#46A694"/>
<circle cx="499.1" cy="195.6" r="4.2" fill="#A428FC"/>
<circle cx="475.8" cy="194.3" r="4.2" fill="#46A694"/>
<circle cx="417.4" cy="226.6" r="4.2" fill="#A428FC"/>
<circle cx="473" cy="229.9" r="4.2" fill="#F96A20"/>
<circle cx="493.1" cy="218.8" r="4.2" fill="#F96A20"/>
<circle cx="373.3" cy="223.9" r="4.2" fill="#F96A20"/>
<circle cx="393.4" cy="150" r="4.2" fill="#A428FC"/>
<circle cx="291.7" cy="222.1" r="4.2" fill="#46A694"/>
<circle cx="501.9" cy="109.6" r="4.2" fill="#A428FC"/>
<circle cx="501.7" cy="160" r="4.2" fill="#46A694"/>
<circle cx="426.1" cy="212.4" r="4.2" fill="#46A694"/>
<circle cx="499.1" cy="168.8" r="4.2" fill="#F96A20"/>
<circle cx="320.9" cy="139.2" r="4.2" fill="#46A694"/>
<circle cx="490" cy="103.2" r="4.2" fill="#A428FC"/>
<circle cx="402.8" cy="186.5" r="4.2" fill="#A428FC"/>
<circle cx="493.1" cy="119.9" r="4.2" fill="#A428FC"/>
<circle cx="434.7" cy="186.1" r="4.2" fill="#46A694"/>
<circle cx="344.4" cy="202.9" r="4.2" fill="#A428FC"/>
<circle cx="376" cy="215.7" r="4.2" fill="#A428FC"/>
<circle cx="317.6" cy="223.9" r="4.2" fill="#46A694"/>
<circle cx="441.1" cy="211.1" r="4.2" fill="#F96A20"/>
<circle cx="373.3" cy="157.7" r="4.2" fill="#A428FC"/>
<circle cx="392.4" cy="217.5" r="4.2" fill="#F96A20"/>
<circle cx="406.1" cy="219.7" r="4.2" fill="#46A694"/>
<circle cx="350.1" cy="233" r="4.2" fill="#46A694"/>
<circle cx="453" cy="227.6" r="4.2" fill="#F96A20"/>
<circle cx="370.5" cy="175.5" r="4.2" fill="#A428FC"/>
<circle cx="493.1" cy="186.5" r="4.2" fill="#46A694"/>
<circle cx="301.2" cy="223.9" r="4.2" fill="#46A694"/>
<circle cx="483.1" cy="228.8" r="4.2" fill="#F96A20"/>
<circle cx="300.6" cy="200.2" r="4.2" fill="#F96A20"/>
<circle cx="481.2" cy="181.9" r="4.2" fill="#A428FC"/>
<circle cx="404.6" cy="226.6" r="4.2" fill="#F96A20"/>
<circle cx="452" cy="238" r="4.2" fill="#46A694"/>
<circle cx="440.2" cy="227.6" r="4.2" fill="#46A694"/>
<circle cx="385.5" cy="199.6" r="4.2" fill="#A428FC"/>
<circle cx="324" cy="204.4" r="4.2" fill="#F96A20"/>
<circle cx="350.5" cy="228.5" r="4.2" fill="#F96A20"/>
<circle cx="460.8" cy="231.2" r="4.2" fill="#46A694"/>
<circle cx="289.3" cy="210.2" r="4.2" fill="#46A694"/>
<circle cx="364.7" cy="137.3" r="4.2" fill="#A428FC"/>
<circle cx="400" cy="211.1" r="4.2" fill="#A428FC"/>
<circle cx="420.7" cy="234.3" r="4.2" fill="#46A694"/>
<circle cx="411.5" cy="190.1" r="4.2" fill="#46A694"/>
<circle cx="400" cy="229.4" r="4.2" fill="#46A694"/>
<circle cx="461.2" cy="136.6" r="4.2" fill="#A428FC"/>
<circle cx="479.4" cy="225.2" r="4.2" fill="#F96A20"/>
<circle cx="403.7" cy="230.3" r="4.2" fill="#46A694"/>
<circle cx="423.2" cy="186.9" r="4.2" fill="#46A694"/>
<circle cx="449.3" cy="160.9" r="4.2" fill="#46A694"/>
<circle cx="397.3" cy="193.8" r="4.2" fill="#F96A20"/>
<circle cx="365.1" cy="178.3" r="4.2" fill="#F96A20"/>
<circle cx="294.8" cy="171.9" r="4.2" fill="#A428FC"/>
<circle cx="446.6" cy="232.1" r="4.2" fill="#F96A20"/>
<circle cx="417" cy="200.2" r="4.2" fill="#46A694"/>
<circle cx="318.5" cy="206.2" r="4.2" fill="#F96A20"/>
<circle cx="472.7" cy="167.9" r="4.2" fill="#A428FC"/>
<line x1="277.5" y1="101.4" x2="277.5" y2="257.9" stroke="#000" stroke-width="2"/>
<line x1="276.5" y1="256.9" x2="510.3" y2="256.9" stroke="#000" stroke-width="2"/>
<line x1="509.5" y1="256.9" x2="509.5" y2="259.5" stroke="#000" stroke-width="1"/>
<text x="264.4" y="261.9" font-size="14" font-weight="bold" stroke="#000" stroke-width="0.25" text-anchor="end" fill="#000">0</text>
<text x="264.4" y="228.3" font-size="14" font-weight="bold" stroke="#000" stroke-width="0.25" text-anchor="end" fill="#000">0.5</text>
<text x="264.4" y="194.7" font-size="14" font-weight="bold" stroke="#000" stroke-width="0.25" text-anchor="end" fill="#000">1</text>
<text x="264.4" y="161.1" font-size="14" font-weight="bold" stroke="#000" stroke-width="0.25" text-anchor="end" fill="#000">1.5</text>
<text x="264.4" y="127.5" font-size="14" font-weight="bold" stroke="#000" stroke-width="0.25" text-anchor="end" fill="#000">2</text>
<text x="277.7" y="277.1" font-size="14" font-weight="bold" stroke="#000" stroke-width="0.25" text-anchor="middle" fill="#000">0</text>
<text x="336.9" y="277.1" font-size="14" font-weight="bold" stroke="#000" stroke-width="0.25" text-anchor="middle" fill="#000">20</text>
<text x="395.2" y="277.1" font-size="14" font-weight="bold" stroke="#000" stroke-width="0.25" text-anchor="middle" fill="#000">40</text>
<text x="453.1" y="277.1" font-size="14" font-weight="bold" stroke="#000" stroke-width="0.25" text-anchor="middle" fill="#000">60</text>
<text x="510.3" y="277.1" font-size="14" font-weight="bold" stroke="#000" stroke-width="0.25" text-anchor="middle" fill="#000">80</text>
<text x="305.3" y="89.9" font-size="17.8" font-weight="bold" stroke="#000" stroke-width="0.25" text-anchor="middle" fill="#000">A</text>
<text x="365.1" y="89.9" font-size="17.8" font-weight="bold" stroke="#000" stroke-width="0.25" text-anchor="middle" fill="#000">B</text>
<text x="428" y="89.9" font-size="17.8" font-weight="bold" stroke="#000" stroke-width="0.25" text-anchor="middle" fill="#000">C</text>
<text x="484" y="89.9" font-size="17.8" font-weight="bold" stroke="#000" stroke-width="0.25" text-anchor="middle" fill="#000">D</text>
<text transform="translate(220,164.5) rotate(-90)" x="0" y="0" font-size="14.8" font-weight="bold" stroke="#000" stroke-width="0.25" text-anchor="middle" fill="#000">Bacillota/ Bacteroidota</text>
<text transform="translate(238,164.3) rotate(-90)" x="0" y="0" font-size="14.8" font-weight="bold" stroke="#000" stroke-width="0.25" text-anchor="middle" fill="#000">ratio (log 10)</text>
<circle cx="491.3" cy="479.9" r="4.2" fill="#3A8C7C"/>
<circle cx="448" cy="490.3" r="4.2" fill="#A428FC"/>
<circle cx="300.1" cy="454.4" r="4.2" fill="#F96A20"/>
<circle cx="425.6" cy="480.3" r="4.2" fill="#F96A20"/>
<circle cx="410.1" cy="483.9" r="4.2" fill="#3A8C7C"/>
<circle cx="444.7" cy="479.7" r="4.2" fill="#3A8C7C"/>
<circle cx="358.5" cy="492.2" r="4.2" fill="#F96A20"/>
<circle cx="321.1" cy="451.1" r="4.2" fill="#A428FC"/>
<circle cx="384.1" cy="477.6" r="4.2" fill="#F96A20"/>
<circle cx="317.8" cy="484.9" r="4.2" fill="#F96A20"/>
<circle cx="473.9" cy="437.4" r="4.2" fill="#F96A20"/>
<circle cx="309.2" cy="478.8" r="4.2" fill="#F96A20"/>
<circle cx="421.9" cy="399.9" r="4.2" fill="#F96A20"/>
<circle cx="398.8" cy="467.9" r="4.2" fill="#3A8C7C"/>
<circle cx="284.2" cy="487.2" r="4.2" fill="#3A8C7C"/>
<circle cx="406.4" cy="465.7" r="4.2" fill="#A428FC"/>
<circle cx="378.6" cy="451.1" r="4.2" fill="#3A8C7C"/>
<circle cx="488.5" cy="438" r="4.2" fill="#A428FC"/>
<circle cx="334.8" cy="472.1" r="4.2" fill="#3A8C7C"/>
<circle cx="492.2" cy="470.3" r="4.2" fill="#F96A20"/>
<circle cx="401.9" cy="445.6" r="4.2" fill="#A428FC"/>
<circle cx="460.3" cy="415" r="4.2" fill="#A428FC"/>
<circle cx="428.3" cy="451.1" r="4.2" fill="#3A8C7C"/>
<circle cx="341.2" cy="471.5" r="4.2" fill="#A428FC"/>
<circle cx="396.4" cy="472.6" r="4.2" fill="#3A8C7C"/>
<circle cx="431.1" cy="467.9" r="4.2" fill="#F96A20"/>
<circle cx="442" cy="469.3" r="4.2" fill="#F96A20"/>
<circle cx="401.9" cy="464.8" r="4.2" fill="#F96A20"/>
<circle cx="330.2" cy="474.8" r="4.2" fill="#A428FC"/>
<circle cx="352.1" cy="468.4" r="4.2" fill="#F96A20"/>
<circle cx="390.1" cy="429.2" r="4.2" fill="#F96A20"/>
<circle cx="471.2" cy="420.1" r="4.2" fill="#3A8C7C"/>
<circle cx="320.7" cy="478.8" r="4.2" fill="#3A8C7C"/>
<circle cx="392.3" cy="432.8" r="4.2" fill="#F96A20"/>
<circle cx="323.8" cy="492.2" r="4.2" fill="#A428FC"/>
<circle cx="386.8" cy="482.5" r="4.2" fill="#A428FC"/>
<circle cx="444.7" cy="492.2" r="4.2" fill="#A428FC"/>
<circle cx="312" cy="473.9" r="4.2" fill="#3A8C7C"/>
<circle cx="295.5" cy="478.8" r="4.2" fill="#F96A20"/>
<circle cx="450.2" cy="463" r="4.2" fill="#F96A20"/>
<circle cx="410.1" cy="396.1" r="4.2" fill="#A428FC"/>
<circle cx="384.1" cy="497.6" r="4.2" fill="#3A8C7C"/>
<circle cx="424.7" cy="386.6" r="4.2" fill="#A428FC"/>
<circle cx="378.6" cy="385.1" r="4.2" fill="#A428FC"/>
<circle cx="329.3" cy="430.7" r="4.2" fill="#3A8C7C"/>
<circle cx="477.6" cy="449.6" r="4.2" fill="#3A8C7C"/>
<circle cx="401.3" cy="488.5" r="4.2" fill="#3A8C7C"/>
<circle cx="289.2" cy="452.9" r="4.2" fill="#F96A20"/>
<circle cx="341.2" cy="410" r="4.2" fill="#3A8C7C"/>
<circle cx="384.1" cy="470.8" r="4.2" fill="#A428FC"/>
<circle cx="361.2" cy="373.2" r="4.2" fill="#A428FC"/>
<circle cx="418.8" cy="393.9" r="4.2" fill="#3A8C7C"/>
<circle cx="412.8" cy="447.1" r="4.2" fill="#F96A20"/>
<circle cx="431.1" cy="472.1" r="4.2" fill="#A428FC"/>
<circle cx="488.2" cy="453.3" r="4.2" fill="#F96A20"/>
<circle cx="390.1" cy="413.7" r="4.2" fill="#3A8C7C"/>
<circle cx="456.6" cy="474.5" r="4.2" fill="#3A8C7C"/>
<circle cx="494" cy="365" r="4.2" fill="#3A8C7C"/>
<circle cx="421.9" cy="447.8" r="4.2" fill="#A428FC"/>
<circle cx="372.2" cy="483" r="4.2" fill="#3A8C7C"/>
<circle cx="482.2" cy="454.4" r="4.2" fill="#A428FC"/>
<circle cx="412.8" cy="463" r="4.2" fill="#3A8C7C"/>
<circle cx="421.9" cy="480.3" r="4.2" fill="#3A8C7C"/>
<circle cx="482.7" cy="447.1" r="4.2" fill="#3A8C7C"/>
<circle cx="286.1" cy="449.3" r="4.2" fill="#F96A20"/>
<circle cx="430.5" cy="435" r="4.2" fill="#3A8C7C"/>
<circle cx="367.1" cy="400.3" r="4.2" fill="#A428FC"/>
<circle cx="280" cy="476.6" r="4.2" fill="#A428FC"/>
<circle cx="369.5" cy="457.1" r="4.2" fill="#A428FC"/>
<circle cx="326.6" cy="477.6" r="4.2" fill="#A428FC"/>
<circle cx="436.5" cy="469.3" r="4.2" fill="#A428FC"/>
<circle cx="473.9" cy="445.6" r="4.2" fill="#3A8C7C"/>
<circle cx="317.4" cy="491.2" r="4.2" fill="#A428FC"/>
<circle cx="352.5" cy="448.9" r="4.2" fill="#A428FC"/>
<circle cx="355.4" cy="472.6" r="4.2" fill="#A428FC"/>
<circle cx="470.3" cy="441.1" r="4.2" fill="#A428FC"/>
<circle cx="418.8" cy="421.9" r="4.2" fill="#F96A20"/>
<circle cx="448" cy="417.3" r="4.2" fill="#3A8C7C"/>
<circle cx="369.5" cy="490.3" r="4.2" fill="#3A8C7C"/>
<circle cx="291" cy="479.4" r="4.2" fill="#F96A20"/>
<circle cx="413.7" cy="483.9" r="4.2" fill="#A428FC"/>
<circle cx="444.7" cy="473" r="4.2" fill="#F96A20"/>
<circle cx="294.6" cy="488.5" r="4.2" fill="#3A8C7C"/>
<circle cx="277.4" cy="386" r="4.2" fill="#A428FC"/>
<circle cx="282.8" cy="459.3" r="4.2" fill="#A428FC"/>
<circle cx="470.7" cy="459.9" r="4.2" fill="#F96A20"/>
<circle cx="433.4" cy="420.4" r="4.2" fill="#F96A20"/>
<circle cx="306.1" cy="442.9" r="4.2" fill="#3A8C7C"/>
<circle cx="314.7" cy="459.9" r="4.2" fill="#F96A20"/>
<circle cx="361.2" cy="452.4" r="4.2" fill="#F96A20"/>
<circle cx="385" cy="492.2" r="4.2" fill="#3A8C7C"/>
<circle cx="291.9" cy="467.2" r="4.2" fill="#3A8C7C"/>
<circle cx="410.1" cy="467.9" r="4.2" fill="#F96A20"/>
<circle cx="416.1" cy="441.1" r="4.2" fill="#3A8C7C"/>
<circle cx="332" cy="493.1" r="4.2" fill="#3A8C7C"/>
<circle cx="334.8" cy="485.8" r="4.2" fill="#F96A20"/>
<circle cx="424.7" cy="452" r="4.2" fill="#3A8C7C"/>
<circle cx="309.2" cy="468.4" r="4.2" fill="#A428FC"/>
<circle cx="453.9" cy="416.1" r="4.2" fill="#A428FC"/>
<circle cx="448" cy="428.3" r="4.2" fill="#F96A20"/>
<circle cx="415.5" cy="424.6" r="4.2" fill="#A428FC"/>
<circle cx="302.8" cy="473.4" r="4.2" fill="#3A8C7C"/>
<circle cx="398.8" cy="494.9" r="4.2" fill="#F96A20"/>
<circle cx="315.6" cy="467.5" r="4.2" fill="#A428FC"/>
<circle cx="415.5" cy="470.8" r="4.2" fill="#F96A20"/>
<circle cx="314.7" cy="402.6" r="4.2" fill="#3A8C7C"/>
<circle cx="312" cy="491.2" r="4.2" fill="#F96A20"/>
<circle cx="349.4" cy="485.8" r="4.2" fill="#A428FC"/>
<circle cx="491.3" cy="427.7" r="4.2" fill="#A428FC"/>
<circle cx="404.6" cy="482.1" r="4.2" fill="#F96A20"/>
<circle cx="418.3" cy="401.2" r="4.2" fill="#A428FC"/>
<circle cx="375.5" cy="434.3" r="4.2" fill="#F96A20"/>
<circle cx="433.8" cy="449.3" r="4.2" fill="#3A8C7C"/>
<circle cx="473.9" cy="453.3" r="4.2" fill="#A428FC"/>
<circle cx="499.5" cy="461.1" r="4.2" fill="#3A8C7C"/>
<circle cx="453.5" cy="425.9" r="4.2" fill="#3A8C7C"/>
<circle cx="450.2" cy="436.5" r="4.2" fill="#A428FC"/>
<circle cx="361.2" cy="429.6" r="4.2" fill="#3A8C7C"/>
<circle cx="438.9" cy="410.3" r="4.2" fill="#A428FC"/>
<circle cx="453.9" cy="472.1" r="4.2" fill="#F96A20"/>
<circle cx="286.1" cy="435.2" r="4.2" fill="#A428FC"/>
<circle cx="386.8" cy="455.1" r="4.2" fill="#F96A20"/>
<circle cx="280.6" cy="479.4" r="4.2" fill="#3A8C7C"/>
<circle cx="355.8" cy="478.8" r="4.2" fill="#3A8C7C"/>
<circle cx="468.5" cy="427" r="4.2" fill="#A428FC"/>
<circle cx="496.8" cy="464.2" r="4.2" fill="#A428FC"/>
<circle cx="326.6" cy="484.3" r="4.2" fill="#3A8C7C"/>
<circle cx="499.5" cy="453.8" r="4.2" fill="#A428FC"/>
<circle cx="404.6" cy="476.6" r="4.2" fill="#3A8C7C"/>
<circle cx="485.3" cy="372" r="4.2" fill="#F96A20"/>
<circle cx="427.4" cy="431.4" r="4.2" fill="#F96A20"/>
<circle cx="379.5" cy="488.5" r="4.2" fill="#3A8C7C"/>
<circle cx="338.4" cy="496.7" r="4.2" fill="#F96A20"/>
<circle cx="465.2" cy="390.6" r="4.2" fill="#A428FC"/>
<circle cx="460.3" cy="468.4" r="4.2" fill="#F96A20"/>
<circle cx="479.4" cy="463.9" r="4.2" fill="#A428FC"/>
<circle cx="297.7" cy="447.4" r="4.2" fill="#A428FC"/>
<circle cx="459.3" cy="463.5" r="4.2" fill="#3A8C7C"/>
<circle cx="337.9" cy="461.7" r="4.2" fill="#3A8C7C"/>
<circle cx="489.5" cy="465.3" r="4.2" fill="#3A8C7C"/>
<circle cx="392.3" cy="469.3" r="4.2" fill="#3A8C7C"/>
<circle cx="300.7" cy="482.5" r="4.2" fill="#A428FC"/>
<circle cx="346.6" cy="492.2" r="4.2" fill="#F96A20"/>
<circle cx="381.7" cy="449.3" r="4.2" fill="#A428FC"/>
<circle cx="346.6" cy="426.5" r="4.2" fill="#A428FC"/>
<circle cx="364" cy="440.1" r="4.2" fill="#A428FC"/>
<circle cx="456.6" cy="435.6" r="4.2" fill="#F96A20"/>
<circle cx="484.9" cy="439.2" r="4.2" fill="#A428FC"/>
<circle cx="374.9" cy="471.5" r="4.2" fill="#A428FC"/>
<circle cx="451.1" cy="479.7" r="4.2" fill="#3A8C7C"/>
<circle cx="462.1" cy="480.3" r="4.2" fill="#F96A20"/>
<circle cx="439.3" cy="449.6" r="4.2" fill="#F96A20"/>
<circle cx="462.6" cy="443.4" r="4.2" fill="#3A8C7C"/>
<circle cx="373.1" cy="468.4" r="4.2" fill="#F96A20"/>
<circle cx="439.3" cy="452.9" r="4.2" fill="#3A8C7C"/>
<circle cx="343.9" cy="492.2" r="4.2" fill="#3A8C7C"/>
<circle cx="484.9" cy="465.7" r="4.2" fill="#3A8C7C"/>
<circle cx="306.5" cy="488" r="4.2" fill="#F96A20"/>
<circle cx="398.8" cy="428.3" r="4.2" fill="#A428FC"/>
<circle cx="337.9" cy="372.9" r="4.2" fill="#A428FC"/>
<circle cx="442" cy="431.9" r="4.2" fill="#3A8C7C"/>
<circle cx="358.5" cy="485.8" r="4.2" fill="#3A8C7C"/>
<circle cx="462.6" cy="425.5" r="4.2" fill="#A428FC"/>
<circle cx="286.1" cy="466.6" r="4.2" fill="#3A8C7C"/>
<circle cx="476.7" cy="491.6" r="4.2" fill="#A428FC"/>
<circle cx="309.2" cy="462.4" r="4.2" fill="#3A8C7C"/>
<circle cx="494" cy="408.5" r="4.2" fill="#A428FC"/>
<circle cx="297.4" cy="443.8" r="4.2" fill="#3A8C7C"/>
<circle cx="289.2" cy="457.5" r="4.2" fill="#3A8C7C"/>
<circle cx="294.6" cy="458.4" r="4.2" fill="#A428FC"/>
<circle cx="496.8" cy="476.3" r="4.2" fill="#3A8C7C"/>
<circle cx="300.7" cy="463.9" r="4.2" fill="#3A8C7C"/>
<circle cx="317.8" cy="449.6" r="4.2" fill="#3A8C7C"/>
<circle cx="456.6" cy="408.5" r="4.2" fill="#A428FC"/>
<circle cx="396.4" cy="475.7" r="4.2" fill="#A428FC"/>
<circle cx="476.7" cy="468.4" r="4.2" fill="#F96A20"/>
<circle cx="277.3" cy="443.8" r="4.2" fill="#F96A20"/>
<circle cx="442" cy="373.2" r="4.2" fill="#A428FC"/>
<circle cx="277.3" cy="491.6" r="4.2" fill="#3A8C7C"/>
<circle cx="391.4" cy="494" r="4.2" fill="#A428FC"/>
<circle cx="407.3" cy="473" r="4.2" fill="#3A8C7C"/>
<line x1="274.9" y1="346.4" x2="274.9" y2="500.5" stroke="#000" stroke-width="2"/>
<line x1="273.9" y1="499.6" x2="505.9" y2="499.6" stroke="#000" stroke-width="2"/>
<text x="261.6" y="504.3" font-size="14" font-weight="bold" stroke="#000" stroke-width="0.25" text-anchor="end" fill="#000">0</text>
<text x="261.6" y="466.15" font-size="14" font-weight="bold" stroke="#000" stroke-width="0.25" text-anchor="end" fill="#000">0.5</text>
<text x="261.6" y="428" font-size="14" font-weight="bold" stroke="#000" stroke-width="0.25" text-anchor="end" fill="#000">1</text>
<text x="261.6" y="389.85" font-size="14" font-weight="bold" stroke="#000" stroke-width="0.25" text-anchor="end" fill="#000">1.5</text>
<text x="261.6" y="351.7" font-size="14" font-weight="bold" stroke="#000" stroke-width="0.25" text-anchor="end" fill="#000">2</text>
<text x="274.8" y="519.6" font-size="14" font-weight="bold" stroke="#000" stroke-width="0.25" text-anchor="middle" fill="#000">0</text>
<text x="332.5" y="519.6" font-size="14" font-weight="bold" stroke="#000" stroke-width="0.25" text-anchor="middle" fill="#000">20</text>
<text x="390.3" y="519.6" font-size="14" font-weight="bold" stroke="#000" stroke-width="0.25" text-anchor="middle" fill="#000">40</text>
<text x="448.5" y="519.6" font-size="14" font-weight="bold" stroke="#000" stroke-width="0.25" text-anchor="middle" fill="#000">60</text>
<text x="505" y="519.6" font-size="14" font-weight="bold" stroke="#000" stroke-width="0.25" text-anchor="middle" fill="#000">80</text>
<text transform="translate(217,394) rotate(-90)" x="0" y="0" font-size="14.8" font-weight="bold" stroke="#000" stroke-width="0.25" text-anchor="middle" fill="#000">Bacillota/ Bacteroidota</text>
<text transform="translate(235,393.1) rotate(-90)" x="0" y="0" font-size="14.8" font-weight="bold" stroke="#000" stroke-width="0.25" text-anchor="middle" fill="#000">ratio (log 10)</text>
<circle cx="339.3" cy="531.3" r="6.9" fill="#A428FC"/>
<text x="352.2" y="536.5" font-size="16.3" font-weight="bold" stroke="#000" stroke-width="0.25" textLength="101.8" lengthAdjust="spacingAndGlyphs" fill="#000">Summer (S1)</text>
<circle cx="339.3" cy="549" r="6.9" fill="#F96A20"/>
<text x="352.2" y="554.2" font-size="16.3" font-weight="bold" stroke="#000" stroke-width="0.25" textLength="98.1" lengthAdjust="spacingAndGlyphs" fill="#000">Autumn (S2)</text>
<circle cx="339.3" cy="566.5" r="6.9" fill="#46A694"/>
<text x="352.2" y="571.7" font-size="16.3" font-weight="bold" stroke="#000" stroke-width="0.25" textLength="87.4" lengthAdjust="spacingAndGlyphs" fill="#000">Winter (S3)</text>
<text x="320.2" y="44.4" font-size="18.2" font-weight="bold" stroke="#C55A11" stroke-width="0.25" textLength="34.2" lengthAdjust="spacingAndGlyphs" fill="#C55A11">Diet</text>
<text x="364.4" y="44.4" font-size="18.2" font-weight="bold" stroke="#C55A11" stroke-width="0.25" textLength="10.2" lengthAdjust="spacingAndGlyphs" fill="#C55A11">x</text>
<text x="385.2" y="44.4" font-size="18.2" font-weight="bold" stroke="#C55A11" stroke-width="0.25" textLength="64.4" lengthAdjust="spacingAndGlyphs" fill="#C55A11">Season</text>
<text x="26.6" y="624.2" font-size="16" font-weight="bold" stroke="#000" stroke-width="0.25" textLength="128.7" lengthAdjust="spacingAndGlyphs" fill="#000">B. Bacterial load</text>
<line x1="100" y1="644.12" x2="100" y2="842.2" stroke="#7a7a7a" stroke-width="1"/>
<line x1="95" y1="644.12" x2="100" y2="644.12" stroke="#7a7a7a" stroke-width="1"/>
<text x="90.9" y="650.02" font-size="16.3" text-anchor="end" fill="#111">13</text>
<line x1="95" y1="693.64" x2="100" y2="693.64" stroke="#7a7a7a" stroke-width="1"/>
<text x="90.9" y="699.54" font-size="16.3" text-anchor="end" fill="#111">12</text>
<line x1="95" y1="743.16" x2="100" y2="743.16" stroke="#7a7a7a" stroke-width="1"/>
<text x="90.9" y="749.06" font-size="16.3" text-anchor="end" fill="#111">11</text>
<line x1="95" y1="792.68" x2="100" y2="792.68" stroke="#7a7a7a" stroke-width="1"/>
<text x="90.9" y="798.58" font-size="16.3" text-anchor="end" fill="#111">10</text>
<line x1="95" y1="842.2" x2="100" y2="842.2" stroke="#7a7a7a" stroke-width="1"/>
<text x="90.9" y="848.1" font-size="16.3" text-anchor="end" fill="#111">9</text>
<text transform="translate(63.4,757.5) rotate(-90)" x="0" y="0" font-size="14.6" font-weight="bold" stroke="#000" stroke-width="0.25" text-anchor="middle" textLength="210.6" lengthAdjust="spacingAndGlyphs" fill="#000">Log10 16S rRNA gene copies/g</text>
<line x1="127.6" y1="877.4" x2="213.6" y2="877.4" stroke="#333" stroke-width="1"/>
<line x1="127.6" y1="877.4" x2="127.6" y2="882" stroke="#333" stroke-width="1"/>
<line x1="170.3" y1="877.4" x2="170.3" y2="882" stroke="#333" stroke-width="1"/>
<line x1="213.6" y1="877.4" x2="213.6" y2="882" stroke="#333" stroke-width="1"/>
<text x="134" y="896.8" font-size="14.2" font-weight="bold" stroke="#000" stroke-width="0.25" text-anchor="middle" fill="#000">S1</text>
<text x="171.2" y="896.8" font-size="14.2" font-weight="bold" stroke="#000" stroke-width="0.25" text-anchor="middle" fill="#000">S2</text>
<text x="208.5" y="896.8" font-size="14.2" font-weight="bold" stroke="#000" stroke-width="0.25" text-anchor="middle" fill="#000">S3</text>
<line x1="127.4" y1="704.3" x2="127.4" y2="738.4" stroke="#333" stroke-width="1" stroke-dasharray="1.2,1.6"/>
<line x1="118.9" y1="704.3" x2="135.9" y2="704.3" stroke="#333" stroke-width="1"/>
<line x1="127.4" y1="777.5" x2="127.4" y2="819.2" stroke="#333" stroke-width="1" stroke-dasharray="1.2,1.6"/>
<line x1="118.9" y1="819.2" x2="135.9" y2="819.2" stroke="#333" stroke-width="1"/>
<rect x="110.2" y="738.4" width="34.4" height="39.1" fill="#9B30FF" stroke="#222" stroke-width="1"/>
<line x1="110.2" y1="757" x2="144.6" y2="757" stroke="#000" stroke-width="2"/>
<line x1="170.7" y1="714.9" x2="170.7" y2="743.5" stroke="#333" stroke-width="1" stroke-dasharray="1.2,1.6"/>
<line x1="162" y1="714.9" x2="179.4" y2="714.9" stroke="#333" stroke-width="1"/>
<line x1="170.7" y1="771.3" x2="170.7" y2="813.2" stroke="#333" stroke-width="1" stroke-dasharray="1.2,1.6"/>
<line x1="162" y1="813.2" x2="179.4" y2="813.2" stroke="#333" stroke-width="1"/>
<rect x="153.5" y="743.5" width="34.4" height="27.8" fill="#EF7F4E" stroke="#222" stroke-width="1"/>
<line x1="153.5" y1="756" x2="187.9" y2="756" stroke="#000" stroke-width="2"/>
<line x1="214.05" y1="703.3" x2="214.05" y2="739" stroke="#333" stroke-width="1" stroke-dasharray="1.2,1.6"/>
<line x1="205.35" y1="703.3" x2="222.75" y2="703.3" stroke="#333" stroke-width="1"/>
<line x1="214.05" y1="779.3" x2="214.05" y2="811.2" stroke="#333" stroke-width="1" stroke-dasharray="1.2,1.6"/>
<line x1="205.35" y1="811.2" x2="222.75" y2="811.2" stroke="#333" stroke-width="1"/>
<rect x="196.7" y="739" width="34.7" height="40.3" fill="#3D8F57" stroke="#222" stroke-width="1"/>
<line x1="196.7" y1="758.9" x2="231.4" y2="758.9" stroke="#000" stroke-width="2"/>
<circle cx="129.8" cy="795.97" r="2.1" fill="none" stroke="#000" stroke-width="0.75"/>
<circle cx="132.14" cy="744.58" r="2.1" fill="none" stroke="#000" stroke-width="0.75"/>
<circle cx="126.09" cy="736.12" r="2.1" fill="none" stroke="#000" stroke-width="0.75"/>
<circle cx="123.82" cy="768.04" r="2.1" fill="none" stroke="#000" stroke-width="0.75"/>
<circle cx="126.86" cy="757.69" r="2.1" fill="none" stroke="#000" stroke-width="0.75"/>
<circle cx="129.68" cy="795.17" r="2.1" fill="none" stroke="#000" stroke-width="0.75"/>
<circle cx="131.63" cy="731.37" r="2.1" fill="none" stroke="#000" stroke-width="0.75"/>
<circle cx="128.58" cy="724.04" r="2.1" fill="none" stroke="#000" stroke-width="0.75"/>
<circle cx="123.38" cy="765.49" r="2.1" fill="none" stroke="#000" stroke-width="0.75"/>
<circle cx="126.76" cy="726.56" r="2.1" fill="none" stroke="#000" stroke-width="0.75"/>
<circle cx="128.17" cy="793.87" r="2.1" fill="none" stroke="#000" stroke-width="0.75"/>
<circle cx="128.13" cy="756.58" r="2.1" fill="none" stroke="#000" stroke-width="0.75"/>
<circle cx="126.5" cy="714.81" r="2.1" fill="none" stroke="#000" stroke-width="0.75"/>
<circle cx="123.86" cy="791.94" r="2.1" fill="none" stroke="#000" stroke-width="0.75"/>
<circle cx="126.88" cy="751.06" r="2.1" fill="none" stroke="#000" stroke-width="0.75"/>
<circle cx="127.99" cy="754.98" r="2.1" fill="none" stroke="#000" stroke-width="0.75"/>
<circle cx="125.64" cy="709.37" r="2.1" fill="none" stroke="#000" stroke-width="0.75"/>
<circle cx="130.8" cy="737.97" r="2.1" fill="none" stroke="#000" stroke-width="0.75"/>
<circle cx="126.19" cy="770.35" r="2.1" fill="none" stroke="#000" stroke-width="0.75"/>
<circle cx="127.86" cy="788.7" r="2.1" fill="none" stroke="#000" stroke-width="0.75"/>
<circle cx="125.12" cy="773.45" r="2.1" fill="none" stroke="#000" stroke-width="0.75"/>
<circle cx="125.21" cy="743.25" r="2.1" fill="none" stroke="#000" stroke-width="0.75"/>
<circle cx="124.13" cy="807.38" r="2.1" fill="none" stroke="#000" stroke-width="0.75"/>
<circle cx="130.55" cy="793.67" r="2.1" fill="none" stroke="#000" stroke-width="0.75"/>
<circle cx="125.91" cy="739.77" r="2.1" fill="none" stroke="#000" stroke-width="0.75"/>
<circle cx="128.5" cy="786.24" r="2.1" fill="none" stroke="#000" stroke-width="0.75"/>
<circle cx="126.53" cy="781.44" r="2.1" fill="none" stroke="#000" stroke-width="0.75"/>
<circle cx="130.32" cy="760.91" r="2.1" fill="none" stroke="#000" stroke-width="0.75"/>
<circle cx="131.01" cy="784.65" r="2.1" fill="none" stroke="#000" stroke-width="0.75"/>
<circle cx="125.52" cy="724.71" r="2.1" fill="none" stroke="#000" stroke-width="0.75"/>
<circle cx="131.6" cy="711.39" r="2.1" fill="none" stroke="#000" stroke-width="0.75"/>
<circle cx="127.74" cy="715.92" r="2.1" fill="none" stroke="#000" stroke-width="0.75"/>
<circle cx="131.1" cy="734.11" r="2.1" fill="none" stroke="#000" stroke-width="0.75"/>
<circle cx="126.65" cy="718.82" r="2.1" fill="none" stroke="#000" stroke-width="0.75"/>
<circle cx="127.47" cy="799.54" r="2.1" fill="none" stroke="#000" stroke-width="0.75"/>
<circle cx="124.04" cy="750.83" r="2.1" fill="none" stroke="#000" stroke-width="0.75"/>
<circle cx="126.14" cy="775.89" r="2.1" fill="none" stroke="#000" stroke-width="0.75"/>
<circle cx="123.57" cy="751.25" r="2.1" fill="none" stroke="#000" stroke-width="0.75"/>
<circle cx="125.82" cy="756.36" r="2.1" fill="none" stroke="#000" stroke-width="0.75"/>
<circle cx="128.76" cy="779.34" r="2.1" fill="none" stroke="#000" stroke-width="0.75"/>
<circle cx="124.15" cy="763.48" r="2.1" fill="none" stroke="#000" stroke-width="0.75"/>
<circle cx="125.14" cy="723.1" r="2.1" fill="none" stroke="#000" stroke-width="0.75"/>
<circle cx="131.14" cy="783" r="2.1" fill="none" stroke="#000" stroke-width="0.75"/>
<circle cx="128.39" cy="793.23" r="2.1" fill="none" stroke="#000" stroke-width="0.75"/>
<circle cx="128.58" cy="797.47" r="2.1" fill="none" stroke="#000" stroke-width="0.75"/>
<circle cx="125.22" cy="786.37" r="2.1" fill="none" stroke="#000" stroke-width="0.75"/>
<circle cx="131.63" cy="757.69" r="2.1" fill="none" stroke="#000" stroke-width="0.75"/>
<circle cx="125.82" cy="761.35" r="2.1" fill="none" stroke="#000" stroke-width="0.75"/>
<circle cx="124.17" cy="729.78" r="2.1" fill="none" stroke="#000" stroke-width="0.75"/>
<circle cx="127.32" cy="718.96" r="2.1" fill="none" stroke="#000" stroke-width="0.75"/>
<circle cx="128.64" cy="815.43" r="2.1" fill="none" stroke="#000" stroke-width="0.75"/>
<circle cx="128.78" cy="791.4" r="2.1" fill="none" stroke="#000" stroke-width="0.75"/>
<circle cx="124.48" cy="756.43" r="2.1" fill="none" stroke="#000" stroke-width="0.75"/>
<circle cx="130.89" cy="732.52" r="2.1" fill="none" stroke="#000" stroke-width="0.75"/>
<circle cx="126.35" cy="787.33" r="2.1" fill="none" stroke="#000" stroke-width="0.75"/>
<circle cx="132.25" cy="727.17" r="2.1" fill="none" stroke="#000" stroke-width="0.75"/>
<circle cx="126.7" cy="754.36" r="2.1" fill="none" stroke="#000" stroke-width="0.75"/>
<circle cx="123.55" cy="730.03" r="2.1" fill="none" stroke="#000" stroke-width="0.75"/>
<circle cx="123.61" cy="765.24" r="2.1" fill="none" stroke="#000" stroke-width="0.75"/>
<circle cx="126.63" cy="777.23" r="2.1" fill="none" stroke="#000" stroke-width="0.75"/>
<circle cx="129.65" cy="758.66" r="2.1" fill="none" stroke="#000" stroke-width="0.75"/>
<circle cx="127.68" cy="742.63" r="2.1" fill="none" stroke="#000" stroke-width="0.75"/>
<circle cx="130.91" cy="720.11" r="2.1" fill="none" stroke="#000" stroke-width="0.75"/>
<circle cx="131.35" cy="777.14" r="2.1" fill="none" stroke="#000" stroke-width="0.75"/>
<circle cx="131.07" cy="752.81" r="2.1" fill="none" stroke="#000" stroke-width="0.75"/>
<circle cx="129.06" cy="777.02" r="2.1" fill="none" stroke="#000" stroke-width="0.75"/>
<circle cx="131.6" cy="723.99" r="2.1" fill="none" stroke="#000" stroke-width="0.75"/>
<circle cx="129.66" cy="716.75" r="2.1" fill="none" stroke="#000" stroke-width="0.75"/>
<circle cx="124.11" cy="743.08" r="2.1" fill="none" stroke="#000" stroke-width="0.75"/>
<circle cx="126.17" cy="757.65" r="2.1" fill="none" stroke="#000" stroke-width="0.75"/>
<circle cx="125.4" cy="713.32" r="2.1" fill="none" stroke="#000" stroke-width="0.75"/>
<circle cx="124.11" cy="763.84" r="2.1" fill="none" stroke="#000" stroke-width="0.75"/>
<circle cx="131.59" cy="798" r="2.1" fill="none" stroke="#000" stroke-width="0.75"/>
<circle cx="127.86" cy="769.73" r="2.1" fill="none" stroke="#000" stroke-width="0.75"/>
<circle cx="124.94" cy="787.65" r="2.1" fill="none" stroke="#000" stroke-width="0.75"/>
<circle cx="130.95" cy="757.02" r="2.1" fill="none" stroke="#000" stroke-width="0.75"/>
<circle cx="126.64" cy="784.64" r="2.1" fill="none" stroke="#000" stroke-width="0.75"/>
<circle cx="125.42" cy="764.11" r="2.1" fill="none" stroke="#000" stroke-width="0.75"/>
<circle cx="129.79" cy="789.13" r="2.1" fill="none" stroke="#000" stroke-width="0.75"/>
<circle cx="124.85" cy="727.53" r="2.1" fill="none" stroke="#000" stroke-width="0.75"/>
<circle cx="131.78" cy="704.53" r="2.1" fill="none" stroke="#000" stroke-width="0.75"/>
<circle cx="131.77" cy="818.93" r="2.1" fill="none" stroke="#000" stroke-width="0.75"/>
<circle cx="174.16" cy="728.76" r="2.1" fill="none" stroke="#000" stroke-width="0.75"/>
<circle cx="175.76" cy="746.58" r="2.1" fill="none" stroke="#000" stroke-width="0.75"/>
<circle cx="166.59" cy="748.37" r="2.1" fill="none" stroke="#000" stroke-width="0.75"/>
<circle cx="172.04" cy="759.49" r="2.1" fill="none" stroke="#000" stroke-width="0.75"/>
<circle cx="169.86" cy="728.34" r="2.1" fill="none" stroke="#000" stroke-width="0.75"/>
<circle cx="170.59" cy="760.76" r="2.1" fill="none" stroke="#000" stroke-width="0.75"/>
<circle cx="170.62" cy="799.86" r="2.1" fill="none" stroke="#000" stroke-width="0.75"/>
<circle cx="169.87" cy="769.38" r="2.1" fill="none" stroke="#000" stroke-width="0.75"/>
<circle cx="173.69" cy="756.83" r="2.1" fill="none" stroke="#000" stroke-width="0.75"/>
<circle cx="175.38" cy="759.12" r="2.1" fill="none" stroke="#000" stroke-width="0.75"/>
<circle cx="168.15" cy="755.59" r="2.1" fill="none" stroke="#000" stroke-width="0.75"/>
<circle cx="168.96" cy="745.05" r="2.1" fill="none" stroke="#000" stroke-width="0.75"/>
<circle cx="165.45" cy="718.99" r="2.1" fill="none" stroke="#000" stroke-width="0.75"/>
<circle cx="169.5" cy="780.59" r="2.1" fill="none" stroke="#000" stroke-width="0.75"/>
<circle cx="168.05" cy="772.3" r="2.1" fill="none" stroke="#000" stroke-width="0.75"/>
<circle cx="166.99" cy="774.07" r="2.1" fill="none" stroke="#000" stroke-width="0.75"/>
<circle cx="174.28" cy="780.87" r="2.1" fill="none" stroke="#000" stroke-width="0.75"/>
<circle cx="170.74" cy="775.06" r="2.1" fill="none" stroke="#000" stroke-width="0.75"/>
<circle cx="167.53" cy="740.25" r="2.1" fill="none" stroke="#000" stroke-width="0.75"/>
<circle cx="166.93" cy="775.12" r="2.1" fill="none" stroke="#000" stroke-width="0.75"/>
<circle cx="171.61" cy="740.91" r="2.1" fill="none" stroke="#000" stroke-width="0.75"/>
<circle cx="174.12" cy="799.95" r="2.1" fill="none" stroke="#000" stroke-width="0.75"/>
<circle cx="174.78" cy="741.83" r="2.1" fill="none" stroke="#000" stroke-width="0.75"/>
<circle cx="173.04" cy="784.82" r="2.1" fill="none" stroke="#000" stroke-width="0.75"/>
<circle cx="173.37" cy="811.57" r="2.1" fill="none" stroke="#000" stroke-width="0.75"/>
<circle cx="166.93" cy="747.06" r="2.1" fill="none" stroke="#000" stroke-width="0.75"/>
<circle cx="166.51" cy="753.64" r="2.1" fill="none" stroke="#000" stroke-width="0.75"/>
<circle cx="172.37" cy="771.81" r="2.1" fill="none" stroke="#000" stroke-width="0.75"/>
<circle cx="171.91" cy="753.06" r="2.1" fill="none" stroke="#000" stroke-width="0.75"/>
<circle cx="167.11" cy="766.66" r="2.1" fill="none" stroke="#000" stroke-width="0.75"/>
<circle cx="168.39" cy="775.6" r="2.1" fill="none" stroke="#000" stroke-width="0.75"/>
<circle cx="165.11" cy="774.25" r="2.1" fill="none" stroke="#000" stroke-width="0.75"/>
<circle cx="172.61" cy="758.26" r="2.1" fill="none" stroke="#000" stroke-width="0.75"/>
<circle cx="170.72" cy="800.99" r="2.1" fill="none" stroke="#000" stroke-width="0.75"/>
<circle cx="174.25" cy="772.77" r="2.1" fill="none" stroke="#000" stroke-width="0.75"/>
<circle cx="175.08" cy="761.91" r="2.1" fill="none" stroke="#000" stroke-width="0.75"/>
<circle cx="170.7" cy="754.59" r="2.1" fill="none" stroke="#000" stroke-width="0.75"/>
<circle cx="168.82" cy="727.85" r="2.1" fill="none" stroke="#000" stroke-width="0.75"/>
<circle cx="168.1" cy="765.97" r="2.1" fill="none" stroke="#000" stroke-width="0.75"/>
<circle cx="172.03" cy="741.79" r="2.1" fill="none" stroke="#000" stroke-width="0.75"/>
<circle cx="175.4" cy="740.34" r="2.1" fill="none" stroke="#000" stroke-width="0.75"/>
<circle cx="165.99" cy="742.32" r="2.1" fill="none" stroke="#000" stroke-width="0.75"/>
<circle cx="169.5" cy="777.92" r="2.1" fill="none" stroke="#000" stroke-width="0.75"/>
<circle cx="173.39" cy="722.85" r="2.1" fill="none" stroke="#000" stroke-width="0.75"/>
<circle cx="166.47" cy="746.5" r="2.1" fill="none" stroke="#000" stroke-width="0.75"/>
<circle cx="172.32" cy="733.45" r="2.1" fill="none" stroke="#000" stroke-width="0.75"/>
<circle cx="167.73" cy="737.58" r="2.1" fill="none" stroke="#000" stroke-width="0.75"/>
<circle cx="171.19" cy="775.07" r="2.1" fill="none" stroke="#000" stroke-width="0.75"/>
<circle cx="175.84" cy="742.79" r="2.1" fill="none" stroke="#000" stroke-width="0.75"/>
<circle cx="165.4" cy="737.22" r="2.1" fill="none" stroke="#000" stroke-width="0.75"/>
<circle cx="172.72" cy="757.9" r="2.1" fill="none" stroke="#000" stroke-width="0.75"/>
<circle cx="171.32" cy="752.4" r="2.1" fill="none" stroke="#000" stroke-width="0.75"/>
<circle cx="174.44" cy="776.75" r="2.1" fill="none" stroke="#000" stroke-width="0.75"/>
<circle cx="168.92" cy="766.98" r="2.1" fill="none" stroke="#000" stroke-width="0.75"/>
<circle cx="175.25" cy="751.59" r="2.1" fill="none" stroke="#000" stroke-width="0.75"/>
<circle cx="175.66" cy="776.16" r="2.1" fill="none" stroke="#000" stroke-width="0.75"/>
<circle cx="165.78" cy="736.88" r="2.1" fill="none" stroke="#000" stroke-width="0.75"/>
<circle cx="168.92" cy="740.7" r="2.1" fill="none" stroke="#000" stroke-width="0.75"/>
<circle cx="167.69" cy="772.22" r="2.1" fill="none" stroke="#000" stroke-width="0.75"/>
<circle cx="174.13" cy="756.44" r="2.1" fill="none" stroke="#000" stroke-width="0.75"/>
<circle cx="175.04" cy="792.85" r="2.1" fill="none" stroke="#000" stroke-width="0.75"/>
<circle cx="173.57" cy="760.97" r="2.1" fill="none" stroke="#000" stroke-width="0.75"/>
<circle cx="174.55" cy="744.82" r="2.1" fill="none" stroke="#000" stroke-width="0.75"/>
<circle cx="171.34" cy="801.74" r="2.1" fill="none" stroke="#000" stroke-width="0.75"/>
<circle cx="174.88" cy="775.31" r="2.1" fill="none" stroke="#000" stroke-width="0.75"/>
<circle cx="168.21" cy="727.61" r="2.1" fill="none" stroke="#000" stroke-width="0.75"/>
<circle cx="166.18" cy="729.75" r="2.1" fill="none" stroke="#000" stroke-width="0.75"/>
<circle cx="173.04" cy="732.12" r="2.1" fill="none" stroke="#000" stroke-width="0.75"/>
<circle cx="169.91" cy="762.84" r="2.1" fill="none" stroke="#000" stroke-width="0.75"/>
<circle cx="165.28" cy="759.34" r="2.1" fill="none" stroke="#000" stroke-width="0.75"/>
<circle cx="173.85" cy="739.78" r="2.1" fill="none" stroke="#000" stroke-width="0.75"/>
<circle cx="166.48" cy="756.18" r="2.1" fill="none" stroke="#000" stroke-width="0.75"/>
<circle cx="167.68" cy="733.46" r="2.1" fill="none" stroke="#000" stroke-width="0.75"/>
<circle cx="165.97" cy="770.72" r="2.1" fill="none" stroke="#000" stroke-width="0.75"/>
<circle cx="171.81" cy="750.57" r="2.1" fill="none" stroke="#000" stroke-width="0.75"/>
<circle cx="166.85" cy="691.16" r="2.1" fill="none" stroke="#000" stroke-width="0.75"/>
<circle cx="168.43" cy="818.43" r="2.1" fill="none" stroke="#000" stroke-width="0.75"/>
<circle cx="171.11" cy="714.93" r="2.1" fill="none" stroke="#000" stroke-width="0.75"/>
<circle cx="218.12" cy="755.59" r="2.1" fill="none" stroke="#000" stroke-width="0.75"/>
<circle cx="206.68" cy="761.91" r="2.1" fill="none" stroke="#000" stroke-width="0.75"/>
<circle cx="213.76" cy="722.74" r="2.1" fill="none" stroke="#000" stroke-width="0.75"/>
<circle cx="218.55" cy="779.34" r="2.1" fill="none" stroke="#000" stroke-width="0.75"/>
<circle cx="211.66" cy="764.01" r="2.1" fill="none" stroke="#000" stroke-width="0.75"/>
<circle cx="212.66" cy="711.54" r="2.1" fill="none" stroke="#000" stroke-width="0.75"/>
<circle cx="217.89" cy="779.26" r="2.1" fill="none" stroke="#000" stroke-width="0.75"/>
<circle cx="218.32" cy="782.28" r="2.1" fill="none" stroke="#000" stroke-width="0.75"/>
<circle cx="213.58" cy="758.45" r="2.1" fill="none" stroke="#000" stroke-width="0.75"/>
<circle cx="209.34" cy="732.66" r="2.1" fill="none" stroke="#000" stroke-width="0.75"/>
<circle cx="215.8" cy="767.25" r="2.1" fill="none" stroke="#000" stroke-width="0.75"/>
<circle cx="215.87" cy="751.27" r="2.1" fill="none" stroke="#000" stroke-width="0.75"/>
<circle cx="209.52" cy="751.62" r="2.1" fill="none" stroke="#000" stroke-width="0.75"/>
<circle cx="211.86" cy="741.94" r="2.1" fill="none" stroke="#000" stroke-width="0.75"/>
<circle cx="215.23" cy="793.86" r="2.1" fill="none" stroke="#000" stroke-width="0.75"/>
<circle cx="208.6" cy="753" r="2.1" fill="none" stroke="#000" stroke-width="0.75"/>
<circle cx="210.91" cy="759.59" r="2.1" fill="none" stroke="#000" stroke-width="0.75"/>
<circle cx="213.18" cy="772.89" r="2.1" fill="none" stroke="#000" stroke-width="0.75"/>
<circle cx="210.64" cy="721.85" r="2.1" fill="none" stroke="#000" stroke-width="0.75"/>
<circle cx="217.99" cy="723.5" r="2.1" fill="none" stroke="#000" stroke-width="0.75"/>
<circle cx="209.75" cy="778.36" r="2.1" fill="none" stroke="#000" stroke-width="0.75"/>
<circle cx="212.19" cy="765.27" r="2.1" fill="none" stroke="#000" stroke-width="0.75"/>
<circle cx="216.96" cy="754.99" r="2.1" fill="none" stroke="#000" stroke-width="0.75"/>
<circle cx="205.93" cy="722.61" r="2.1" fill="none" stroke="#000" stroke-width="0.75"/>
<circle cx="210.17" cy="785.64" r="2.1" fill="none" stroke="#000" stroke-width="0.75"/>
<circle cx="208.14" cy="754.38" r="2.1" fill="none" stroke="#000" stroke-width="0.75"/>
<circle cx="213.14" cy="755.78" r="2.1" fill="none" stroke="#000" stroke-width="0.75"/>
<circle cx="219.07" cy="762.08" r="2.1" fill="none" stroke="#000" stroke-width="0.75"/>
<circle cx="211.05" cy="786.7" r="2.1" fill="none" stroke="#000" stroke-width="0.75"/>
<circle cx="218.44" cy="790.21" r="2.1" fill="none" stroke="#000" stroke-width="0.75"/>
<circle cx="207.77" cy="789.18" r="2.1" fill="none" stroke="#000" stroke-width="0.75"/>
<circle cx="218.83" cy="780.53" r="2.1" fill="none" stroke="#000" stroke-width="0.75"/>
<circle cx="210.04" cy="745.08" r="2.1" fill="none" stroke="#000" stroke-width="0.75"/>
<circle cx="210.06" cy="737.32" r="2.1" fill="none" stroke="#000" stroke-width="0.75"/>
<circle cx="209.28" cy="752.64" r="2.1" fill="none" stroke="#000" stroke-width="0.75"/>
<circle cx="217.8" cy="800.41" r="2.1" fill="none" stroke="#000" stroke-width="0.75"/>
<circle cx="208.53" cy="731.76" r="2.1" fill="none" stroke="#000" stroke-width="0.75"/>
<circle cx="206.3" cy="771.14" r="2.1" fill="none" stroke="#000" stroke-width="0.75"/>
<circle cx="205.81" cy="808.89" r="2.1" fill="none" stroke="#000" stroke-width="0.75"/>
<circle cx="213.22" cy="790.08" r="2.1" fill="none" stroke="#000" stroke-width="0.75"/>
<circle cx="213.98" cy="771.68" r="2.1" fill="none" stroke="#000" stroke-width="0.75"/>
<circle cx="210.37" cy="736.96" r="2.1" fill="none" stroke="#000" stroke-width="0.75"/>
<circle cx="214.71" cy="781.66" r="2.1" fill="none" stroke="#000" stroke-width="0.75"/>
<circle cx="212.74" cy="769.04" r="2.1" fill="none" stroke="#000" stroke-width="0.75"/>
<circle cx="217.18" cy="736.98" r="2.1" fill="none" stroke="#000" stroke-width="0.75"/>
<circle cx="210.46" cy="729.53" r="2.1" fill="none" stroke="#000" stroke-width="0.75"/>
<circle cx="216.18" cy="791.99" r="2.1" fill="none" stroke="#000" stroke-width="0.75"/>
<circle cx="212.79" cy="719.04" r="2.1" fill="none" stroke="#000" stroke-width="0.75"/>
<circle cx="219.35" cy="762.53" r="2.1" fill="none" stroke="#000" stroke-width="0.75"/>
<circle cx="214.99" cy="763.85" r="2.1" fill="none" stroke="#000" stroke-width="0.75"/>
<circle cx="218.58" cy="747.64" r="2.1" fill="none" stroke="#000" stroke-width="0.75"/>
<circle cx="211.33" cy="749.99" r="2.1" fill="none" stroke="#000" stroke-width="0.75"/>
<circle cx="214.86" cy="768.26" r="2.1" fill="none" stroke="#000" stroke-width="0.75"/>
<circle cx="207.46" cy="745.1" r="2.1" fill="none" stroke="#000" stroke-width="0.75"/>
<circle cx="208.33" cy="769.45" r="2.1" fill="none" stroke="#000" stroke-width="0.75"/>
<circle cx="214.05" cy="776.57" r="2.1" fill="none" stroke="#000" stroke-width="0.75"/>
<circle cx="209.37" cy="783.25" r="2.1" fill="none" stroke="#000" stroke-width="0.75"/>
<circle cx="217.25" cy="748.12" r="2.1" fill="none" stroke="#000" stroke-width="0.75"/>
<circle cx="206.83" cy="732.18" r="2.1" fill="none" stroke="#000" stroke-width="0.75"/>
<circle cx="217.49" cy="760.94" r="2.1" fill="none" stroke="#000" stroke-width="0.75"/>
<circle cx="218.41" cy="739.61" r="2.1" fill="none" stroke="#000" stroke-width="0.75"/>
<circle cx="219.44" cy="753.21" r="2.1" fill="none" stroke="#000" stroke-width="0.75"/>
<circle cx="209.26" cy="761.73" r="2.1" fill="none" stroke="#000" stroke-width="0.75"/>
<circle cx="214.33" cy="736.67" r="2.1" fill="none" stroke="#000" stroke-width="0.75"/>
<circle cx="214.35" cy="787.31" r="2.1" fill="none" stroke="#000" stroke-width="0.75"/>
<circle cx="215.35" cy="729.18" r="2.1" fill="none" stroke="#000" stroke-width="0.75"/>
<circle cx="211.28" cy="778.24" r="2.1" fill="none" stroke="#000" stroke-width="0.75"/>
<circle cx="206.95" cy="792.8" r="2.1" fill="none" stroke="#000" stroke-width="0.75"/>
<circle cx="211.25" cy="794.15" r="2.1" fill="none" stroke="#000" stroke-width="0.75"/>
<circle cx="213.2" cy="748.94" r="2.1" fill="none" stroke="#000" stroke-width="0.75"/>
<circle cx="207.14" cy="757.85" r="2.1" fill="none" stroke="#000" stroke-width="0.75"/>
<circle cx="211.06" cy="757.41" r="2.1" fill="none" stroke="#000" stroke-width="0.75"/>
<circle cx="219.4" cy="757.53" r="2.1" fill="none" stroke="#000" stroke-width="0.75"/>
<circle cx="207.59" cy="759.88" r="2.1" fill="none" stroke="#000" stroke-width="0.75"/>
<circle cx="217.4" cy="753.21" r="2.1" fill="none" stroke="#000" stroke-width="0.75"/>
<circle cx="209.41" cy="742.45" r="2.1" fill="none" stroke="#000" stroke-width="0.75"/>
<circle cx="214.2" cy="744.98" r="2.1" fill="none" stroke="#000" stroke-width="0.75"/>
<circle cx="207.05" cy="755.96" r="2.1" fill="none" stroke="#000" stroke-width="0.75"/>
<circle cx="217.42" cy="752.62" r="2.1" fill="none" stroke="#000" stroke-width="0.75"/>
<circle cx="215.2" cy="775.25" r="2.1" fill="none" stroke="#000" stroke-width="0.75"/>
<circle cx="209.53" cy="703.54" r="2.1" fill="none" stroke="#000" stroke-width="0.75"/>
<circle cx="210.44" cy="811.5" r="2.1" fill="none" stroke="#000" stroke-width="0.75"/>
<text x="354.4" y="622" font-size="16" font-weight="bold" stroke="#000" stroke-width="0.25" textLength="162.8" lengthAdjust="spacingAndGlyphs" fill="#000">C. Bacterial diversity</text>
<line x1="441" y1="644.8" x2="441" y2="872.4" stroke="#7a7a7a" stroke-width="1"/>
<line x1="436" y1="644.8" x2="441" y2="644.8" stroke="#7a7a7a" stroke-width="1"/>
<text x="432.2" y="650.7" font-size="16.3" text-anchor="end" fill="#111">7</text>
<line x1="436" y1="701.7" x2="441" y2="701.7" stroke="#7a7a7a" stroke-width="1"/>
<text x="432.2" y="707.6" font-size="16.3" text-anchor="end" fill="#111">6</text>
<line x1="436" y1="758.6" x2="441" y2="758.6" stroke="#7a7a7a" stroke-width="1"/>
<text x="432.2" y="764.5" font-size="16.3" text-anchor="end" fill="#111">5</text>
<line x1="436" y1="815.5" x2="441" y2="815.5" stroke="#7a7a7a" stroke-width="1"/>
<text x="432.2" y="821.4" font-size="16.3" text-anchor="end" fill="#111">4</text>
<line x1="436" y1="872.4" x2="441" y2="872.4" stroke="#7a7a7a" stroke-width="1"/>
<text x="432.2" y="878.3" font-size="16.3" text-anchor="end" fill="#111">3</text>
<text transform="translate(414,766.4) rotate(-90)" x="0" y="0" font-size="14.6" font-weight="bold" stroke="#000" stroke-width="0.25" text-anchor="middle" fill="#000">Shannon diversity index</text>
<line x1="468.3" y1="881.4" x2="555.3" y2="881.4" stroke="#333" stroke-width="1"/>
<line x1="468.3" y1="881.4" x2="468.3" y2="885.8" stroke="#333" stroke-width="1"/>
<line x1="511.9" y1="881.4" x2="511.9" y2="885.8" stroke="#333" stroke-width="1"/>
<line x1="555.3" y1="881.4" x2="555.3" y2="885.8" stroke="#333" stroke-width="1"/>
<text x="472.2" y="901.4" font-size="14" font-weight="bold" stroke="#000" stroke-width="0.25" text-anchor="middle" fill="#000">S1</text>
<text x="511" y="901.4" font-size="14" font-weight="bold" stroke="#000" stroke-width="0.25" text-anchor="middle" fill="#000">S2</text>
<text x="548.4" y="901.4" font-size="14" font-weight="bold" stroke="#000" stroke-width="0.25" text-anchor="middle" fill="#000">S3</text>
<line x1="468.45" y1="696" x2="468.45" y2="716.9" stroke="#333" stroke-width="1" stroke-dasharray="1.2,1.6"/>
<line x1="459.95" y1="696" x2="476.95" y2="696" stroke="#333" stroke-width="1"/>
<line x1="468.45" y1="739.3" x2="468.45" y2="765.8" stroke="#333" stroke-width="1" stroke-dasharray="1.2,1.6"/>
<line x1="459.95" y1="765.8" x2="476.95" y2="765.8" stroke="#333" stroke-width="1"/>
<rect x="450.8" y="716.9" width="35.3" height="22.4" fill="#9B30FF" stroke="#222" stroke-width="1"/>
<line x1="450.8" y1="727.1" x2="486.1" y2="727.1" stroke="#000" stroke-width="2"/>
<line x1="511.35" y1="699.4" x2="511.35" y2="710.8" stroke="#333" stroke-width="1" stroke-dasharray="1.2,1.6"/>
<line x1="502.85" y1="699.4" x2="519.85" y2="699.4" stroke="#333" stroke-width="1"/>
<line x1="511.35" y1="732.8" x2="511.35" y2="765.1" stroke="#333" stroke-width="1" stroke-dasharray="1.2,1.6"/>
<line x1="502.85" y1="765.1" x2="519.85" y2="765.1" stroke="#333" stroke-width="1"/>
<rect x="493.7" y="710.8" width="35.3" height="22" fill="#EF7F4E" stroke="#222" stroke-width="1"/>
<line x1="493.7" y1="722.2" x2="529" y2="722.2" stroke="#000" stroke-width="2"/>
<line x1="554.8" y1="698.7" x2="554.8" y2="714.6" stroke="#333" stroke-width="1" stroke-dasharray="1.2,1.6"/>
<line x1="546.3" y1="698.7" x2="563.3" y2="698.7" stroke="#333" stroke-width="1"/>
<line x1="554.8" y1="739.3" x2="554.8" y2="768.1" stroke="#333" stroke-width="1" stroke-dasharray="1.2,1.6"/>
<line x1="546.3" y1="768.1" x2="563.3" y2="768.1" stroke="#333" stroke-width="1"/>
<rect x="537.3" y="714.6" width="35" height="24.7" fill="#3D8F57" stroke="#222" stroke-width="1"/>
<line x1="537.3" y1="725.2" x2="572.3" y2="725.2" stroke="#000" stroke-width="2"/>
<circle cx="469.81" cy="739.49" r="2.1" fill="none" stroke="#000" stroke-width="0.75"/>
<circle cx="470.73" cy="715.14" r="2.1" fill="none" stroke="#000" stroke-width="0.75"/>
<circle cx="470.42" cy="745.99" r="2.1" fill="none" stroke="#000" stroke-width="0.75"/>
<circle cx="463.61" cy="740.61" r="2.1" fill="none" stroke="#000" stroke-width="0.75"/>
<circle cx="463.53" cy="705.49" r="2.1" fill="none" stroke="#000" stroke-width="0.75"/>
<circle cx="470.61" cy="728.01" r="2.1" fill="none" stroke="#000" stroke-width="0.75"/>
<circle cx="469.03" cy="715.12" r="2.1" fill="none" stroke="#000" stroke-width="0.75"/>
<circle cx="472.67" cy="729.91" r="2.1" fill="none" stroke="#000" stroke-width="0.75"/>
<circle cx="467.48" cy="734.47" r="2.1" fill="none" stroke="#000" stroke-width="0.75"/>
<circle cx="464.48" cy="712.23" r="2.1" fill="none" stroke="#000" stroke-width="0.75"/>
<circle cx="463.65" cy="724.04" r="2.1" fill="none" stroke="#000" stroke-width="0.75"/>
<circle cx="463.8" cy="743.39" r="2.1" fill="none" stroke="#000" stroke-width="0.75"/>
<circle cx="465.25" cy="736.41" r="2.1" fill="none" stroke="#000" stroke-width="0.75"/>
<circle cx="471.19" cy="721.8" r="2.1" fill="none" stroke="#000" stroke-width="0.75"/>
<circle cx="469.17" cy="723.47" r="2.1" fill="none" stroke="#000" stroke-width="0.75"/>
<circle cx="472.21" cy="740.48" r="2.1" fill="none" stroke="#000" stroke-width="0.75"/>
<circle cx="472.46" cy="709.91" r="2.1" fill="none" stroke="#000" stroke-width="0.75"/>
<circle cx="468.64" cy="732.79" r="2.1" fill="none" stroke="#000" stroke-width="0.75"/>
<circle cx="464.94" cy="728.43" r="2.1" fill="none" stroke="#000" stroke-width="0.75"/>
<circle cx="465.49" cy="716.39" r="2.1" fill="none" stroke="#000" stroke-width="0.75"/>
<circle cx="469.52" cy="699.51" r="2.1" fill="none" stroke="#000" stroke-width="0.75"/>
<circle cx="464.95" cy="734.23" r="2.1" fill="none" stroke="#000" stroke-width="0.75"/>
<circle cx="468.68" cy="725.9" r="2.1" fill="none" stroke="#000" stroke-width="0.75"/>
<circle cx="468.59" cy="729.9" r="2.1" fill="none" stroke="#000" stroke-width="0.75"/>
<circle cx="463.79" cy="730.26" r="2.1" fill="none" stroke="#000" stroke-width="0.75"/>
<circle cx="464.26" cy="698.78" r="2.1" fill="none" stroke="#000" stroke-width="0.75"/>
<circle cx="472.98" cy="734.44" r="2.1" fill="none" stroke="#000" stroke-width="0.75"/>
<circle cx="468.4" cy="712.23" r="2.1" fill="none" stroke="#000" stroke-width="0.75"/>
<circle cx="468.18" cy="736.58" r="2.1" fill="none" stroke="#000" stroke-width="0.75"/>
<circle cx="467.81" cy="710.73" r="2.1" fill="none" stroke="#000" stroke-width="0.75"/>
<circle cx="471.5" cy="753.55" r="2.1" fill="none" stroke="#000" stroke-width="0.75"/>
<circle cx="470" cy="718.78" r="2.1" fill="none" stroke="#000" stroke-width="0.75"/>
<circle cx="470.35" cy="731.17" r="2.1" fill="none" stroke="#000" stroke-width="0.75"/>
<circle cx="469.29" cy="743.94" r="2.1" fill="none" stroke="#000" stroke-width="0.75"/>
<circle cx="464.94" cy="733.01" r="2.1" fill="none" stroke="#000" stroke-width="0.75"/>
<circle cx="465.88" cy="728.1" r="2.1" fill="none" stroke="#000" stroke-width="0.75"/>
<circle cx="466.25" cy="736" r="2.1" fill="none" stroke="#000" stroke-width="0.75"/>
<circle cx="463.83" cy="742.99" r="2.1" fill="none" stroke="#000" stroke-width="0.75"/>
<circle cx="469.79" cy="723.67" r="2.1" fill="none" stroke="#000" stroke-width="0.75"/>
<circle cx="472.09" cy="728.66" r="2.1" fill="none" stroke="#000" stroke-width="0.75"/>
<circle cx="472.98" cy="727.12" r="2.1" fill="none" stroke="#000" stroke-width="0.75"/>
<circle cx="464.13" cy="714.53" r="2.1" fill="none" stroke="#000" stroke-width="0.75"/>
<circle cx="465.42" cy="749.58" r="2.1" fill="none" stroke="#000" stroke-width="0.75"/>
<circle cx="469.74" cy="729.13" r="2.1" fill="none" stroke="#000" stroke-width="0.75"/>
<circle cx="463.7" cy="721.6" r="2.1" fill="none" stroke="#000" stroke-width="0.75"/>
<circle cx="465.7" cy="732.59" r="2.1" fill="none" stroke="#000" stroke-width="0.75"/>
<circle cx="467.46" cy="723.38" r="2.1" fill="none" stroke="#000" stroke-width="0.75"/>
<circle cx="471.14" cy="715.24" r="2.1" fill="none" stroke="#000" stroke-width="0.75"/>
<circle cx="463.94" cy="748.81" r="2.1" fill="none" stroke="#000" stroke-width="0.75"/>
<circle cx="464.05" cy="714.94" r="2.1" fill="none" stroke="#000" stroke-width="0.75"/>
<circle cx="465.88" cy="713.76" r="2.1" fill="none" stroke="#000" stroke-width="0.75"/>
<circle cx="465.73" cy="740.22" r="2.1" fill="none" stroke="#000" stroke-width="0.75"/>
<circle cx="465.09" cy="737.47" r="2.1" fill="none" stroke="#000" stroke-width="0.75"/>
<circle cx="469.37" cy="751.01" r="2.1" fill="none" stroke="#000" stroke-width="0.75"/>
<circle cx="465.24" cy="717.71" r="2.1" fill="none" stroke="#000" stroke-width="0.75"/>
<circle cx="463.56" cy="721.62" r="2.1" fill="none" stroke="#000" stroke-width="0.75"/>
<circle cx="472.17" cy="732.77" r="2.1" fill="none" stroke="#000" stroke-width="0.75"/>
<circle cx="468.05" cy="724.83" r="2.1" fill="none" stroke="#000" stroke-width="0.75"/>
<circle cx="467.68" cy="732.3" r="2.1" fill="none" stroke="#000" stroke-width="0.75"/>
<circle cx="466.02" cy="720.81" r="2.1" fill="none" stroke="#000" stroke-width="0.75"/>
<circle cx="472.37" cy="735.64" r="2.1" fill="none" stroke="#000" stroke-width="0.75"/>
<circle cx="473.3" cy="738.89" r="2.1" fill="none" stroke="#000" stroke-width="0.75"/>
<circle cx="464.18" cy="747.44" r="2.1" fill="none" stroke="#000" stroke-width="0.75"/>
<circle cx="470.27" cy="701.28" r="2.1" fill="none" stroke="#000" stroke-width="0.75"/>
<circle cx="470.25" cy="731.13" r="2.1" fill="none" stroke="#000" stroke-width="0.75"/>
<circle cx="469.35" cy="740.79" r="2.1" fill="none" stroke="#000" stroke-width="0.75"/>
<circle cx="467.63" cy="741.73" r="2.1" fill="none" stroke="#000" stroke-width="0.75"/>
<circle cx="467.49" cy="725.09" r="2.1" fill="none" stroke="#000" stroke-width="0.75"/>
<circle cx="470.62" cy="737.89" r="2.1" fill="none" stroke="#000" stroke-width="0.75"/>
<circle cx="463.72" cy="717.53" r="2.1" fill="none" stroke="#000" stroke-width="0.75"/>
<circle cx="472.18" cy="738.14" r="2.1" fill="none" stroke="#000" stroke-width="0.75"/>
<circle cx="464.37" cy="711.96" r="2.1" fill="none" stroke="#000" stroke-width="0.75"/>
<circle cx="465.2" cy="722.24" r="2.1" fill="none" stroke="#000" stroke-width="0.75"/>
<circle cx="467.29" cy="714.53" r="2.1" fill="none" stroke="#000" stroke-width="0.75"/>
<circle cx="463.58" cy="717.54" r="2.1" fill="none" stroke="#000" stroke-width="0.75"/>
<circle cx="472.32" cy="862.16" r="2.1" fill="none" stroke="#000" stroke-width="0.75"/>
<circle cx="467.46" cy="697.15" r="2.1" fill="none" stroke="#000" stroke-width="0.75"/>
<circle cx="467.13" cy="766" r="2.1" fill="none" stroke="#000" stroke-width="0.75"/>
<circle cx="514.79" cy="737.41" r="2.1" fill="none" stroke="#000" stroke-width="0.75"/>
<circle cx="513.6" cy="699.51" r="2.1" fill="none" stroke="#000" stroke-width="0.75"/>
<circle cx="515.87" cy="733.51" r="2.1" fill="none" stroke="#000" stroke-width="0.75"/>
<circle cx="506.28" cy="706.32" r="2.1" fill="none" stroke="#000" stroke-width="0.75"/>
<circle cx="513.74" cy="709.44" r="2.1" fill="none" stroke="#000" stroke-width="0.75"/>
<circle cx="511.09" cy="726.77" r="2.1" fill="none" stroke="#000" stroke-width="0.75"/>
<circle cx="517" cy="708.5" r="2.1" fill="none" stroke="#000" stroke-width="0.75"/>
<circle cx="510.41" cy="732.34" r="2.1" fill="none" stroke="#000" stroke-width="0.75"/>
<circle cx="515.97" cy="734.96" r="2.1" fill="none" stroke="#000" stroke-width="0.75"/>
<circle cx="507.07" cy="713.36" r="2.1" fill="none" stroke="#000" stroke-width="0.75"/>
<circle cx="509.21" cy="731.49" r="2.1" fill="none" stroke="#000" stroke-width="0.75"/>
<circle cx="508.98" cy="711.22" r="2.1" fill="none" stroke="#000" stroke-width="0.75"/>
<circle cx="512.7" cy="723.88" r="2.1" fill="none" stroke="#000" stroke-width="0.75"/>
<circle cx="508.41" cy="720.28" r="2.1" fill="none" stroke="#000" stroke-width="0.75"/>
<circle cx="513.45" cy="719.89" r="2.1" fill="none" stroke="#000" stroke-width="0.75"/>
<circle cx="510.45" cy="732.88" r="2.1" fill="none" stroke="#000" stroke-width="0.75"/>
<circle cx="512.69" cy="717.14" r="2.1" fill="none" stroke="#000" stroke-width="0.75"/>
<circle cx="510.74" cy="716.75" r="2.1" fill="none" stroke="#000" stroke-width="0.75"/>
<circle cx="514.33" cy="746.41" r="2.1" fill="none" stroke="#000" stroke-width="0.75"/>
<circle cx="507.72" cy="730.01" r="2.1" fill="none" stroke="#000" stroke-width="0.75"/>
<circle cx="514.12" cy="737.74" r="2.1" fill="none" stroke="#000" stroke-width="0.75"/>
<circle cx="512.08" cy="728.51" r="2.1" fill="none" stroke="#000" stroke-width="0.75"/>
<circle cx="512.92" cy="720.5" r="2.1" fill="none" stroke="#000" stroke-width="0.75"/>
<circle cx="516.36" cy="733.04" r="2.1" fill="none" stroke="#000" stroke-width="0.75"/>
<circle cx="512.21" cy="729.76" r="2.1" fill="none" stroke="#000" stroke-width="0.75"/>
<circle cx="508.5" cy="716.28" r="2.1" fill="none" stroke="#000" stroke-width="0.75"/>
<circle cx="511.48" cy="739.25" r="2.1" fill="none" stroke="#000" stroke-width="0.75"/>
<circle cx="511.73" cy="712.52" r="2.1" fill="none" stroke="#000" stroke-width="0.75"/>
<circle cx="516.18" cy="733.35" r="2.1" fill="none" stroke="#000" stroke-width="0.75"/>
<circle cx="513.37" cy="728.89" r="2.1" fill="none" stroke="#000" stroke-width="0.75"/>
<circle cx="512.33" cy="732.45" r="2.1" fill="none" stroke="#000" stroke-width="0.75"/>
<circle cx="516.29" cy="721.93" r="2.1" fill="none" stroke="#000" stroke-width="0.75"/>
<circle cx="507.23" cy="710.43" r="2.1" fill="none" stroke="#000" stroke-width="0.75"/>
<circle cx="514.4" cy="739.24" r="2.1" fill="none" stroke="#000" stroke-width="0.75"/>
<circle cx="513.21" cy="740.4" r="2.1" fill="none" stroke="#000" stroke-width="0.75"/>
<circle cx="515.91" cy="735.44" r="2.1" fill="none" stroke="#000" stroke-width="0.75"/>
<circle cx="515.63" cy="731.66" r="2.1" fill="none" stroke="#000" stroke-width="0.75"/>
<circle cx="512.44" cy="706.46" r="2.1" fill="none" stroke="#000" stroke-width="0.75"/>
<circle cx="513.66" cy="724.39" r="2.1" fill="none" stroke="#000" stroke-width="0.75"/>
<circle cx="516.72" cy="736.77" r="2.1" fill="none" stroke="#000" stroke-width="0.75"/>
<circle cx="513.49" cy="714.08" r="2.1" fill="none" stroke="#000" stroke-width="0.75"/>
<circle cx="506.41" cy="707.28" r="2.1" fill="none" stroke="#000" stroke-width="0.75"/>
<circle cx="509.5" cy="707.18" r="2.1" fill="none" stroke="#000" stroke-width="0.75"/>
<circle cx="514.55" cy="725.94" r="2.1" fill="none" stroke="#000" stroke-width="0.75"/>
<circle cx="509.8" cy="728.7" r="2.1" fill="none" stroke="#000" stroke-width="0.75"/>
<circle cx="516.05" cy="710.01" r="2.1" fill="none" stroke="#000" stroke-width="0.75"/>
<circle cx="510.59" cy="741.2" r="2.1" fill="none" stroke="#000" stroke-width="0.75"/>
<circle cx="514.18" cy="723.02" r="2.1" fill="none" stroke="#000" stroke-width="0.75"/>
<circle cx="516.98" cy="726.6" r="2.1" fill="none" stroke="#000" stroke-width="0.75"/>
<circle cx="512.77" cy="724.84" r="2.1" fill="none" stroke="#000" stroke-width="0.75"/>
<circle cx="508.43" cy="730.82" r="2.1" fill="none" stroke="#000" stroke-width="0.75"/>
<circle cx="511.8" cy="701.91" r="2.1" fill="none" stroke="#000" stroke-width="0.75"/>
<circle cx="509.84" cy="721.3" r="2.1" fill="none" stroke="#000" stroke-width="0.75"/>
<circle cx="516.45" cy="731.37" r="2.1" fill="none" stroke="#000" stroke-width="0.75"/>
<circle cx="510.87" cy="745.54" r="2.1" fill="none" stroke="#000" stroke-width="0.75"/>
<circle cx="509.74" cy="722.3" r="2.1" fill="none" stroke="#000" stroke-width="0.75"/>
<circle cx="511.53" cy="714.56" r="2.1" fill="none" stroke="#000" stroke-width="0.75"/>
<circle cx="513.57" cy="719.34" r="2.1" fill="none" stroke="#000" stroke-width="0.75"/>
<circle cx="515.23" cy="726.56" r="2.1" fill="none" stroke="#000" stroke-width="0.75"/>
<circle cx="512.89" cy="702.15" r="2.1" fill="none" stroke="#000" stroke-width="0.75"/>
<circle cx="511.6" cy="736.05" r="2.1" fill="none" stroke="#000" stroke-width="0.75"/>
<circle cx="513.44" cy="722.85" r="2.1" fill="none" stroke="#000" stroke-width="0.75"/>
<circle cx="508.27" cy="732.25" r="2.1" fill="none" stroke="#000" stroke-width="0.75"/>
<circle cx="513.4" cy="724.47" r="2.1" fill="none" stroke="#000" stroke-width="0.75"/>
<circle cx="515.31" cy="729.07" r="2.1" fill="none" stroke="#000" stroke-width="0.75"/>
<circle cx="514.56" cy="729.36" r="2.1" fill="none" stroke="#000" stroke-width="0.75"/>
<circle cx="511.38" cy="733.64" r="2.1" fill="none" stroke="#000" stroke-width="0.75"/>
<circle cx="508.08" cy="715.73" r="2.1" fill="none" stroke="#000" stroke-width="0.75"/>
<circle cx="516.48" cy="714.79" r="2.1" fill="none" stroke="#000" stroke-width="0.75"/>
<circle cx="515.08" cy="735.98" r="2.1" fill="none" stroke="#000" stroke-width="0.75"/>
<circle cx="512.15" cy="736.65" r="2.1" fill="none" stroke="#000" stroke-width="0.75"/>
<circle cx="507.92" cy="737.17" r="2.1" fill="none" stroke="#000" stroke-width="0.75"/>
<circle cx="507.8" cy="702.39" r="2.1" fill="none" stroke="#000" stroke-width="0.75"/>
<circle cx="514.59" cy="747.64" r="2.1" fill="none" stroke="#000" stroke-width="0.75"/>
<circle cx="508.6" cy="717.5" r="2.1" fill="none" stroke="#000" stroke-width="0.75"/>
<circle cx="508.86" cy="781.36" r="2.1" fill="none" stroke="#000" stroke-width="0.75"/>
<circle cx="516.6" cy="832" r="2.1" fill="none" stroke="#000" stroke-width="0.75"/>
<circle cx="507.85" cy="699.42" r="2.1" fill="none" stroke="#000" stroke-width="0.75"/>
<circle cx="550.22" cy="715.14" r="2.1" fill="none" stroke="#000" stroke-width="0.75"/>
<circle cx="548.91" cy="730.9" r="2.1" fill="none" stroke="#000" stroke-width="0.75"/>
<circle cx="559.88" cy="722.17" r="2.1" fill="none" stroke="#000" stroke-width="0.75"/>
<circle cx="558.73" cy="732.36" r="2.1" fill="none" stroke="#000" stroke-width="0.75"/>
<circle cx="550.55" cy="733.15" r="2.1" fill="none" stroke="#000" stroke-width="0.75"/>
<circle cx="547.81" cy="733.71" r="2.1" fill="none" stroke="#000" stroke-width="0.75"/>
<circle cx="548.5" cy="742.43" r="2.1" fill="none" stroke="#000" stroke-width="0.75"/>
<circle cx="558.24" cy="749.42" r="2.1" fill="none" stroke="#000" stroke-width="0.75"/>
<circle cx="559.9" cy="724.9" r="2.1" fill="none" stroke="#000" stroke-width="0.75"/>
<circle cx="561" cy="705.5" r="2.1" fill="none" stroke="#000" stroke-width="0.75"/>
<circle cx="552.65" cy="726.5" r="2.1" fill="none" stroke="#000" stroke-width="0.75"/>
<circle cx="547.71" cy="713.66" r="2.1" fill="none" stroke="#000" stroke-width="0.75"/>
<circle cx="550.03" cy="712.2" r="2.1" fill="none" stroke="#000" stroke-width="0.75"/>
<circle cx="552.92" cy="729.75" r="2.1" fill="none" stroke="#000" stroke-width="0.75"/>
<circle cx="557.23" cy="734.52" r="2.1" fill="none" stroke="#000" stroke-width="0.75"/>
<circle cx="560.94" cy="732.28" r="2.1" fill="none" stroke="#000" stroke-width="0.75"/>
<circle cx="555.44" cy="745.57" r="2.1" fill="none" stroke="#000" stroke-width="0.75"/>
<circle cx="555.77" cy="726.14" r="2.1" fill="none" stroke="#000" stroke-width="0.75"/>
<circle cx="548.99" cy="707.3" r="2.1" fill="none" stroke="#000" stroke-width="0.75"/>
<circle cx="550.18" cy="716.27" r="2.1" fill="none" stroke="#000" stroke-width="0.75"/>
<circle cx="548.94" cy="717.21" r="2.1" fill="none" stroke="#000" stroke-width="0.75"/>
<circle cx="555.91" cy="707.36" r="2.1" fill="none" stroke="#000" stroke-width="0.75"/>
<circle cx="552.62" cy="735.03" r="2.1" fill="none" stroke="#000" stroke-width="0.75"/>
<circle cx="560.71" cy="704.99" r="2.1" fill="none" stroke="#000" stroke-width="0.75"/>
<circle cx="558.91" cy="719.56" r="2.1" fill="none" stroke="#000" stroke-width="0.75"/>
<circle cx="553.71" cy="739.59" r="2.1" fill="none" stroke="#000" stroke-width="0.75"/>
<circle cx="550.06" cy="721.4" r="2.1" fill="none" stroke="#000" stroke-width="0.75"/>
<circle cx="552.21" cy="706.34" r="2.1" fill="none" stroke="#000" stroke-width="0.75"/>
<circle cx="547.45" cy="710.93" r="2.1" fill="none" stroke="#000" stroke-width="0.75"/>
<circle cx="555.55" cy="726.03" r="2.1" fill="none" stroke="#000" stroke-width="0.75"/>
<circle cx="558.67" cy="719.16" r="2.1" fill="none" stroke="#000" stroke-width="0.75"/>
<circle cx="554.16" cy="729.59" r="2.1" fill="none" stroke="#000" stroke-width="0.75"/>
<circle cx="549" cy="720.81" r="2.1" fill="none" stroke="#000" stroke-width="0.75"/>
<circle cx="548.01" cy="740.51" r="2.1" fill="none" stroke="#000" stroke-width="0.75"/>
<circle cx="547.77" cy="719.14" r="2.1" fill="none" stroke="#000" stroke-width="0.75"/>
<circle cx="556.95" cy="714.2" r="2.1" fill="none" stroke="#000" stroke-width="0.75"/>
<circle cx="559.47" cy="737.97" r="2.1" fill="none" stroke="#000" stroke-width="0.75"/>
<circle cx="547.88" cy="732.26" r="2.1" fill="none" stroke="#000" stroke-width="0.75"/>
<circle cx="547.12" cy="731.37" r="2.1" fill="none" stroke="#000" stroke-width="0.75"/>
<circle cx="560.38" cy="728.84" r="2.1" fill="none" stroke="#000" stroke-width="0.75"/>
<circle cx="549.47" cy="766.27" r="2.1" fill="none" stroke="#000" stroke-width="0.75"/>
<circle cx="557.15" cy="719.49" r="2.1" fill="none" stroke="#000" stroke-width="0.75"/>
<circle cx="552.3" cy="750.8" r="2.1" fill="none" stroke="#000" stroke-width="0.75"/>
<circle cx="547.06" cy="725.16" r="2.1" fill="none" stroke="#000" stroke-width="0.75"/>
<circle cx="558.26" cy="738.76" r="2.1" fill="none" stroke="#000" stroke-width="0.75"/>
<circle cx="556.45" cy="707" r="2.1" fill="none" stroke="#000" stroke-width="0.75"/>
<circle cx="554.95" cy="729.16" r="2.1" fill="none" stroke="#000" stroke-width="0.75"/>
<circle cx="553.56" cy="706.91" r="2.1" fill="none" stroke="#000" stroke-width="0.75"/>
<circle cx="554.6" cy="711.44" r="2.1" fill="none" stroke="#000" stroke-width="0.75"/>
<circle cx="554.23" cy="731.73" r="2.1" fill="none" stroke="#000" stroke-width="0.75"/>
<circle cx="553" cy="724.66" r="2.1" fill="none" stroke="#000" stroke-width="0.75"/>
<circle cx="554.49" cy="739.56" r="2.1" fill="none" stroke="#000" stroke-width="0.75"/>
<circle cx="555.76" cy="731.24" r="2.1" fill="none" stroke="#000" stroke-width="0.75"/>
<circle cx="549.16" cy="722.5" r="2.1" fill="none" stroke="#000" stroke-width="0.75"/>
<circle cx="552.62" cy="731.7" r="2.1" fill="none" stroke="#000" stroke-width="0.75"/>
<circle cx="555.53" cy="708.19" r="2.1" fill="none" stroke="#000" stroke-width="0.75"/>
<circle cx="548.14" cy="729.98" r="2.1" fill="none" stroke="#000" stroke-width="0.75"/>
<circle cx="558.34" cy="749.2" r="2.1" fill="none" stroke="#000" stroke-width="0.75"/>
<circle cx="557.12" cy="730.59" r="2.1" fill="none" stroke="#000" stroke-width="0.75"/>
<circle cx="551.64" cy="732.01" r="2.1" fill="none" stroke="#000" stroke-width="0.75"/>
<circle cx="556.22" cy="727.36" r="2.1" fill="none" stroke="#000" stroke-width="0.75"/>
<circle cx="554.91" cy="730.52" r="2.1" fill="none" stroke="#000" stroke-width="0.75"/>
<circle cx="552.9" cy="733.61" r="2.1" fill="none" stroke="#000" stroke-width="0.75"/>
<circle cx="552.16" cy="722.43" r="2.1" fill="none" stroke="#000" stroke-width="0.75"/>
<circle cx="556.19" cy="751.86" r="2.1" fill="none" stroke="#000" stroke-width="0.75"/>
<circle cx="548.92" cy="700.46" r="2.1" fill="none" stroke="#000" stroke-width="0.75"/>
<circle cx="559.11" cy="757.16" r="2.1" fill="none" stroke="#000" stroke-width="0.75"/>
<circle cx="554.43" cy="732.12" r="2.1" fill="none" stroke="#000" stroke-width="0.75"/>
<circle cx="555.87" cy="730.04" r="2.1" fill="none" stroke="#000" stroke-width="0.75"/>
<circle cx="558.87" cy="733.32" r="2.1" fill="none" stroke="#000" stroke-width="0.75"/>
<circle cx="550.11" cy="729.69" r="2.1" fill="none" stroke="#000" stroke-width="0.75"/>
<circle cx="557.36" cy="739.33" r="2.1" fill="none" stroke="#000" stroke-width="0.75"/>
<circle cx="556.68" cy="737.62" r="2.1" fill="none" stroke="#000" stroke-width="0.75"/>
<circle cx="549.06" cy="736.61" r="2.1" fill="none" stroke="#000" stroke-width="0.75"/>
<circle cx="555.11" cy="735.33" r="2.1" fill="none" stroke="#000" stroke-width="0.75"/>
<circle cx="554.77" cy="802.98" r="2.1" fill="none" stroke="#000" stroke-width="0.75"/>
<circle cx="560.2" cy="808.1" r="2.1" fill="none" stroke="#000" stroke-width="0.75"/>
<circle cx="552.04" cy="776.24" r="2.1" fill="none" stroke="#000" stroke-width="0.75"/>
<circle cx="550.36" cy="698.86" r="2.1" fill="none" stroke="#000" stroke-width="0.75"/>
</svg>
</body></html>
